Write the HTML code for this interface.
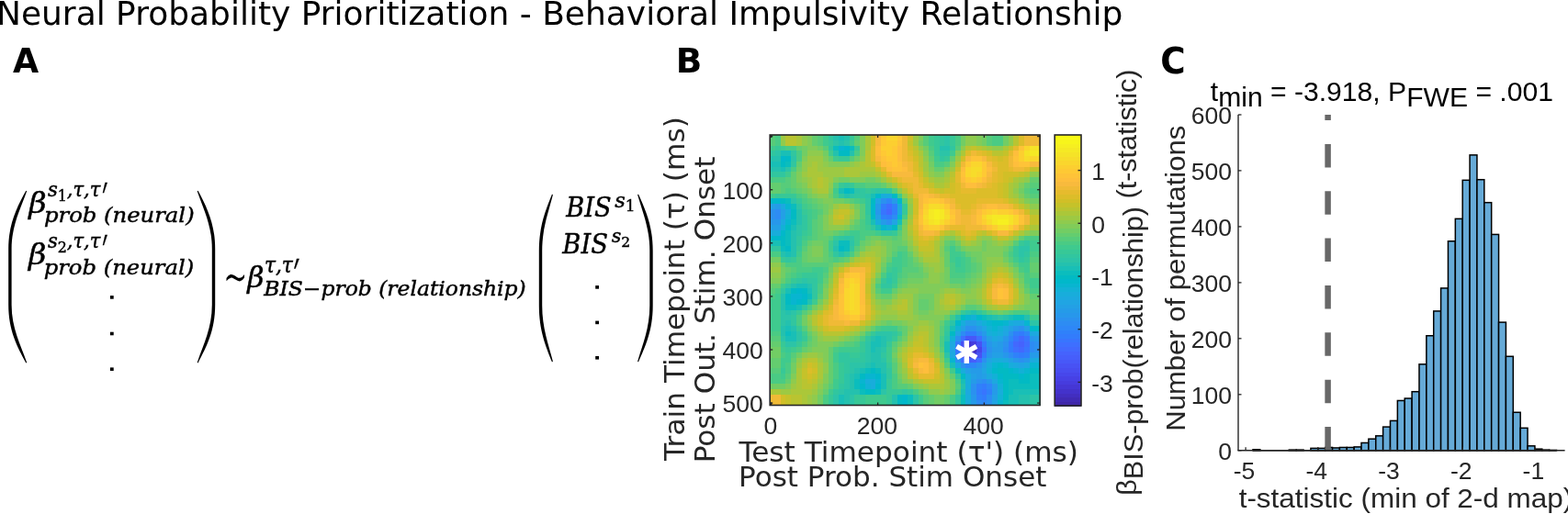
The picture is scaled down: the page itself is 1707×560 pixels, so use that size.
<!DOCTYPE html>
<html><head><meta charset="utf-8"><title>Neural Probability Prioritization - Behavioral Impulsivity Relationship</title>
<style>html,body{margin:0;padding:0;background:#fff;width:1707px;height:560px;overflow:hidden} svg{display:block} text{white-space:pre}</style>
</head><body>
<svg width="1707" height="560" viewBox="0 0 1707 560"><g transform="translate(-4.00 27.40) scale(0.9996 1)"><text x="0" y="0" font-family="'DejaVu Sans', sans-serif" font-size="36" fill="#000" >Neural Probability Prioritization - Behavioral Impulsivity Relationship</text></g>
<g transform="translate(14.10 78.70) scale(1.0111 1.0192)"><text x="0" y="0" font-family="'DejaVu Sans', sans-serif" font-size="36" fill="#000" font-weight="bold">A</text></g>
<g transform="translate(735.78 78.70) scale(1.0409 1.0231)"><text x="0" y="0" font-family="'DejaVu Sans', sans-serif" font-size="36" fill="#000" font-weight="bold">B</text></g>
<g transform="translate(1263.33 80.00) scale(1.0364 1.0731)"><text x="0" y="0" font-family="'DejaVu Sans', sans-serif" font-size="36" fill="#000" font-weight="bold">C</text></g>
<g transform="translate(804.40 503.20) scale(1.0397 1)"><text x="0" y="0" font-family="'DejaVu Sans', sans-serif" font-size="30" fill="#262626" >Test Timepoint (τ') (ms)</text></g>
<g transform="translate(804.10 529.80) scale(1.0340 1)"><text x="0" y="0" font-family="'DejaVu Sans', sans-serif" font-size="30" fill="#262626" >Post Prob. Stim Onset</text></g>
<g transform="translate(745.00 501.90) rotate(-90) scale(1.0403 1)"><text x="0" y="0" font-family="'DejaVu Sans', sans-serif" font-size="30" fill="#262626" >Train Timepoint (τ) (ms)</text></g>
<g transform="translate(777.50 504.36) rotate(-90) scale(1.0382 1)"><text x="0" y="0" font-family="'DejaVu Sans', sans-serif" font-size="30" fill="#262626" >Post Out. Stim. Onset</text></g>
<g transform="translate(1237.00 539.74) rotate(-90) scale(1.0192 1)"><text x="0" y="0" font-family="'Liberation Sans', sans-serif" font-size="30" fill="#262626" >β<tspan dy="6.5">BIS-prob(relationship)</tspan><tspan dy="-6.5"> (t-statistic)</tspan></text></g>
<g transform="translate(1289.50 469.71) rotate(-90) scale(1.0355 1)"><text x="0" y="0" font-family="'Liberation Sans', sans-serif" font-size="30" fill="#262626" >Number of permutations</text></g>
<g transform="translate(1348.65 553.00) scale(1.0488 1)"><text x="0" y="0" font-family="'Liberation Sans', sans-serif" font-size="30" fill="#262626" >t-statistic (min of 2-d map)</text></g>
<g transform="translate(1317.80 109.90) scale(1.0035 1)"><text x="0" y="0" font-family="'Liberation Sans', sans-serif" font-size="30" fill="#000" >t<tspan dy="5.8">min</tspan><tspan dy="-5.8"> = -3.918, P</tspan><tspan dy="5.8">FWE</tspan><tspan dy="-5.8"> = .001</tspan></text></g>
<g transform="translate(31.22 231.51) scale(1.1176 1.0310)"><text x="0" y="0" font-family="'DejaVu Serif', serif" font-size="30" fill="#000" font-style="italic" stroke="#000" stroke-width="0.45">β</text></g>
<g transform="translate(30.92 288.01) scale(1.1176 1.0310)"><text x="0" y="0" font-family="'DejaVu Serif', serif" font-size="30" fill="#000" font-style="italic" stroke="#000" stroke-width="0.45">β</text></g>
<g transform="translate(51.90 213.83) scale(0.9339 0.9941)"><text x="0" y="0" font-family="'DejaVu Serif', serif" font-size="22.5" fill="#000" font-style="italic" stroke="#000" stroke-width="0.45">s<tspan font-size="17" font-style="normal" dy="4.7">1</tspan><tspan dy="-4.7">,τ,τ</tspan></text></g>
<g transform="translate(110.35 234.19) scale(0.6750 1.1444)"><text x="0" y="0" font-family="'DejaVu Math TeX Gyre', serif" font-size="40" fill="#000" stroke="#000" stroke-width="0.3">′</text></g>
<g transform="translate(51.90 270.33) scale(0.9339 0.9941)"><text x="0" y="0" font-family="'DejaVu Serif', serif" font-size="22.5" fill="#000" font-style="italic" stroke="#000" stroke-width="0.45">s<tspan font-size="17" font-style="normal" dy="4.7">2</tspan><tspan dy="-4.7">,τ,τ</tspan></text></g>
<g transform="translate(110.35 290.69) scale(0.6750 1.1444)"><text x="0" y="0" font-family="'DejaVu Math TeX Gyre', serif" font-size="40" fill="#000" stroke="#000" stroke-width="0.3">′</text></g>
<g transform="translate(47.99 242.27) scale(1.1055 0.9864)"><text x="0" y="0" font-family="'DejaVu Serif', serif" font-size="22" fill="#000" font-style="italic" stroke="#000" stroke-width="0.45">prob (neural)</text></g>
<g transform="translate(47.70 298.81) scale(1.1041 0.9773)"><text x="0" y="0" font-family="'DejaVu Serif', serif" font-size="22" fill="#000" font-style="italic" stroke="#000" stroke-width="0.45">prob (neural)</text></g>
<g transform="translate(243.92 314.83) scale(0.7780 1.1167)"><text x="0" y="0" font-family="'DejaVu Math TeX Gyre', serif" font-size="40" fill="#000" >∼</text></g>
<g transform="translate(269.15 312.61) scale(1.0529 1.0310)"><text x="0" y="0" font-family="'DejaVu Serif', serif" font-size="30" fill="#000" font-style="italic" stroke="#000" stroke-width="0.45">β</text></g>
<g transform="translate(287.94 296.54) scale(0.9645 1.0533)"><text x="0" y="0" font-family="'DejaVu Serif', serif" font-size="22.5" fill="#000" font-style="italic" stroke="#000" stroke-width="0.45">τ,τ</text></g>
<g transform="translate(318.52 316.44) scale(0.7375 1.1222)"><text x="0" y="0" font-family="'DejaVu Math TeX Gyre', serif" font-size="40" fill="#000" stroke="#000" stroke-width="0.3">′</text></g>
<g transform="translate(287.32 321.85) scale(1.0655 0.9909)"><text x="0" y="0" font-family="'DejaVu Serif', serif" font-size="22" fill="#000" font-style="italic" stroke="#000" stroke-width="0.45">BIS−prob (relationship)</text></g>
<g transform="translate(616.21 236.40) scale(0.9074 0.9864)"><text x="0" y="0" font-family="'DejaVu Serif', serif" font-size="30" fill="#000" font-style="italic" stroke="#000" stroke-width="0.45">BIS</text></g>
<g transform="translate(612.31 275.70) scale(0.9130 0.9727)"><text x="0" y="0" font-family="'DejaVu Serif', serif" font-size="30" fill="#000" font-style="italic" stroke="#000" stroke-width="0.45">BIS</text></g>
<g transform="translate(669.30 225.88) scale(1.0000 0.9647)"><text x="0" y="0" font-family="'DejaVu Serif', serif" font-size="22.5" fill="#000" font-style="italic" stroke="#000" stroke-width="0.45">s<tspan font-size="17" font-style="normal" dy="4.7">1</tspan></text></g>
<g transform="translate(665.70 264.41) scale(0.9190 0.9176)"><text x="0" y="0" font-family="'DejaVu Serif', serif" font-size="22.5" fill="#000" font-style="italic" stroke="#000" stroke-width="0.45">s<tspan font-size="17" font-style="normal" dy="4.7">2</tspan></text></g>
<path d="M28.3,207.7 C18.7,225.4 9.2,243.2 9.2,271.1 L9.2,332.1 C9.2,360.0 18.7,377.8 28.3,395.5 L29.2,394.9 C22.2,375.2 12.6,357.5 12.6,332.1 L12.6,271.1 C12.6,245.7 22.2,228.0 29.2,208.3Z" fill="#000"/>
<path d="M215.6,207.7 C224.9,225.4 234.2,243.2 234.2,271.1 L234.2,332.1 C234.2,360.0 224.9,377.8 215.6,395.5 L214.7,394.9 C221.5,375.2 230.8,357.5 230.8,332.1 L230.8,271.1 C230.8,245.7 221.5,228.0 214.7,208.3Z" fill="#000"/>
<path d="M601.0,211.6 C594.1,228.9 586.8,246.1 586.8,273.3 L586.8,332.7 C586.8,359.9 594.1,377.1 601.0,394.4 L601.9,393.8 C597.1,374.7 590.2,357.4 590.2,332.7 L590.2,273.3 C590.2,248.6 597.1,231.3 601.9,212.2Z" fill="#000"/>
<path d="M695.0,211.6 C702.7,228.9 710.7,246.1 710.7,273.3 L710.7,332.7 C710.7,359.9 702.7,377.1 695.0,394.4 L694.1,393.8 C699.6,374.7 707.3,357.4 707.3,332.7 L707.3,273.3 C707.3,248.6 699.6,231.3 694.1,212.2Z" fill="#000"/>
<rect x="119.9" y="322.1" width="3.8" height="3.6" fill="#000"/>
<rect x="119.9" y="361.7" width="3.8" height="3.6" fill="#000"/>
<rect x="119.9" y="400.4" width="3.8" height="3.6" fill="#000"/>
<rect x="648.2" y="311.1" width="3.8" height="3.6" fill="#000"/>
<rect x="648.2" y="349.6" width="3.8" height="3.6" fill="#000"/>
<rect x="648.2" y="388.0" width="3.8" height="3.6" fill="#000"/>
<g shape-rendering="crispEdges"><rect x="838.20" y="147.00" width="6.36" height="6.37" fill="#57cc7a"/><rect x="843.96" y="147.00" width="6.36" height="6.37" fill="#4acb84"/><rect x="849.73" y="147.00" width="6.36" height="6.37" fill="#9dc943"/><rect x="855.49" y="147.00" width="6.36" height="6.37" fill="#b9c431"/><rect x="861.25" y="147.00" width="6.36" height="6.37" fill="#b9c431"/><rect x="867.01" y="147.00" width="6.36" height="6.37" fill="#abc739"/><rect x="872.78" y="147.00" width="6.36" height="6.37" fill="#8fcb4e"/><rect x="878.54" y="147.00" width="6.36" height="6.37" fill="#81cc59"/><rect x="884.30" y="147.00" width="6.36" height="6.37" fill="#64cd6f"/><rect x="890.06" y="147.00" width="6.36" height="6.37" fill="#57cc7a"/><rect x="895.83" y="147.00" width="6.36" height="6.37" fill="#3fca8e"/><rect x="901.59" y="147.00" width="6.36" height="6.37" fill="#31c69f"/><rect x="907.35" y="147.00" width="6.36" height="6.37" fill="#24c1ae"/><rect x="913.12" y="147.00" width="6.36" height="6.37" fill="#19bfb6"/><rect x="918.88" y="147.00" width="6.36" height="6.37" fill="#24c1ae"/><rect x="924.64" y="147.00" width="6.36" height="6.37" fill="#37c897"/><rect x="930.40" y="147.00" width="6.36" height="6.37" fill="#57cc7a"/><rect x="936.17" y="147.00" width="6.36" height="6.37" fill="#81cc59"/><rect x="941.93" y="147.00" width="6.36" height="6.37" fill="#abc739"/><rect x="947.69" y="147.00" width="6.36" height="6.37" fill="#d1bf27"/><rect x="953.45" y="147.00" width="6.36" height="6.37" fill="#f8ba3d"/><rect x="959.22" y="147.00" width="6.36" height="6.37" fill="#fec934"/><rect x="964.98" y="147.00" width="6.36" height="6.37" fill="#fad62d"/><rect x="970.74" y="147.00" width="6.36" height="6.37" fill="#fad62d"/><rect x="976.51" y="147.00" width="6.36" height="6.37" fill="#fec934"/><rect x="982.27" y="147.00" width="6.36" height="6.37" fill="#f0ba36"/><rect x="988.03" y="147.00" width="6.36" height="6.37" fill="#d1bf27"/><rect x="993.79" y="147.00" width="6.36" height="6.37" fill="#9dc943"/><rect x="999.56" y="147.00" width="6.36" height="6.37" fill="#81cc59"/><rect x="1005.32" y="147.00" width="6.36" height="6.37" fill="#57cc7a"/><rect x="1011.08" y="147.00" width="6.36" height="6.37" fill="#3fca8e"/><rect x="1016.85" y="147.00" width="6.36" height="6.37" fill="#37c897"/><rect x="1022.61" y="147.00" width="6.36" height="6.37" fill="#31c69f"/><rect x="1028.37" y="147.00" width="6.36" height="6.37" fill="#2cc4a7"/><rect x="1034.13" y="147.00" width="6.36" height="6.37" fill="#37c897"/><rect x="1039.90" y="147.00" width="6.36" height="6.37" fill="#4acb84"/><rect x="1045.66" y="147.00" width="6.36" height="6.37" fill="#72cd64"/><rect x="1051.42" y="147.00" width="6.36" height="6.37" fill="#8fcb4e"/><rect x="1057.18" y="147.00" width="6.36" height="6.37" fill="#8fcb4e"/><rect x="1062.95" y="147.00" width="6.36" height="6.37" fill="#81cc59"/><rect x="1068.71" y="147.00" width="6.36" height="6.37" fill="#72cd64"/><rect x="1074.47" y="147.00" width="6.36" height="6.37" fill="#57cc7a"/><rect x="1080.24" y="147.00" width="6.36" height="6.37" fill="#4acb84"/><rect x="1086.00" y="147.00" width="6.36" height="6.37" fill="#4acb84"/><rect x="1091.76" y="147.00" width="6.36" height="6.37" fill="#72cd64"/><rect x="1097.52" y="147.00" width="6.36" height="6.37" fill="#8fcb4e"/><rect x="1103.29" y="147.00" width="6.36" height="6.37" fill="#b9c431"/><rect x="1109.05" y="147.00" width="6.36" height="6.37" fill="#dcbd29"/><rect x="1114.81" y="147.00" width="6.36" height="6.37" fill="#f0ba36"/><rect x="1120.57" y="147.00" width="6.36" height="6.37" fill="#f0ba36"/><rect x="1126.34" y="147.00" width="6.36" height="6.37" fill="#f0ba36"/><rect x="838.20" y="152.77" width="6.36" height="6.37" fill="#57cc7a"/><rect x="843.96" y="152.77" width="6.36" height="6.37" fill="#4acb84"/><rect x="849.73" y="152.77" width="6.36" height="6.37" fill="#8fcb4e"/><rect x="855.49" y="152.77" width="6.36" height="6.37" fill="#b9c431"/><rect x="861.25" y="152.77" width="6.36" height="6.37" fill="#b9c431"/><rect x="867.01" y="152.77" width="6.36" height="6.37" fill="#abc739"/><rect x="872.78" y="152.77" width="6.36" height="6.37" fill="#8fcb4e"/><rect x="878.54" y="152.77" width="6.36" height="6.37" fill="#81cc59"/><rect x="884.30" y="152.77" width="6.36" height="6.37" fill="#64cd6f"/><rect x="890.06" y="152.77" width="6.36" height="6.37" fill="#57cc7a"/><rect x="895.83" y="152.77" width="6.36" height="6.37" fill="#3fca8e"/><rect x="901.59" y="152.77" width="6.36" height="6.37" fill="#37c897"/><rect x="907.35" y="152.77" width="6.36" height="6.37" fill="#2cc4a7"/><rect x="913.12" y="152.77" width="6.36" height="6.37" fill="#24c1ae"/><rect x="918.88" y="152.77" width="6.36" height="6.37" fill="#2cc4a7"/><rect x="924.64" y="152.77" width="6.36" height="6.37" fill="#3fca8e"/><rect x="930.40" y="152.77" width="6.36" height="6.37" fill="#64cd6f"/><rect x="936.17" y="152.77" width="6.36" height="6.37" fill="#81cc59"/><rect x="941.93" y="152.77" width="6.36" height="6.37" fill="#abc739"/><rect x="947.69" y="152.77" width="6.36" height="6.37" fill="#d1bf27"/><rect x="953.45" y="152.77" width="6.36" height="6.37" fill="#f8ba3d"/><rect x="959.22" y="152.77" width="6.36" height="6.37" fill="#fec934"/><rect x="964.98" y="152.77" width="6.36" height="6.37" fill="#fccf30"/><rect x="970.74" y="152.77" width="6.36" height="6.37" fill="#fccf30"/><rect x="976.51" y="152.77" width="6.36" height="6.37" fill="#fec338"/><rect x="982.27" y="152.77" width="6.36" height="6.37" fill="#f0ba36"/><rect x="988.03" y="152.77" width="6.36" height="6.37" fill="#c5c22a"/><rect x="993.79" y="152.77" width="6.36" height="6.37" fill="#9dc943"/><rect x="999.56" y="152.77" width="6.36" height="6.37" fill="#72cd64"/><rect x="1005.32" y="152.77" width="6.36" height="6.37" fill="#57cc7a"/><rect x="1011.08" y="152.77" width="6.36" height="6.37" fill="#3fca8e"/><rect x="1016.85" y="152.77" width="6.36" height="6.37" fill="#37c897"/><rect x="1022.61" y="152.77" width="6.36" height="6.37" fill="#31c69f"/><rect x="1028.37" y="152.77" width="6.36" height="6.37" fill="#2cc4a7"/><rect x="1034.13" y="152.77" width="6.36" height="6.37" fill="#37c897"/><rect x="1039.90" y="152.77" width="6.36" height="6.37" fill="#4acb84"/><rect x="1045.66" y="152.77" width="6.36" height="6.37" fill="#72cd64"/><rect x="1051.42" y="152.77" width="6.36" height="6.37" fill="#8fcb4e"/><rect x="1057.18" y="152.77" width="6.36" height="6.37" fill="#8fcb4e"/><rect x="1062.95" y="152.77" width="6.36" height="6.37" fill="#81cc59"/><rect x="1068.71" y="152.77" width="6.36" height="6.37" fill="#72cd64"/><rect x="1074.47" y="152.77" width="6.36" height="6.37" fill="#57cc7a"/><rect x="1080.24" y="152.77" width="6.36" height="6.37" fill="#4acb84"/><rect x="1086.00" y="152.77" width="6.36" height="6.37" fill="#4acb84"/><rect x="1091.76" y="152.77" width="6.36" height="6.37" fill="#72cd64"/><rect x="1097.52" y="152.77" width="6.36" height="6.37" fill="#8fcb4e"/><rect x="1103.29" y="152.77" width="6.36" height="6.37" fill="#b9c431"/><rect x="1109.05" y="152.77" width="6.36" height="6.37" fill="#dcbd29"/><rect x="1114.81" y="152.77" width="6.36" height="6.37" fill="#f0ba36"/><rect x="1120.57" y="152.77" width="6.36" height="6.37" fill="#f0ba36"/><rect x="1126.34" y="152.77" width="6.36" height="6.37" fill="#f0ba36"/><rect x="838.20" y="158.55" width="6.36" height="6.37" fill="#3fca8e"/><rect x="843.96" y="158.55" width="6.36" height="6.37" fill="#37c897"/><rect x="849.73" y="158.55" width="6.36" height="6.37" fill="#3fca8e"/><rect x="855.49" y="158.55" width="6.36" height="6.37" fill="#4acb84"/><rect x="861.25" y="158.55" width="6.36" height="6.37" fill="#4acb84"/><rect x="867.01" y="158.55" width="6.36" height="6.37" fill="#64cd6f"/><rect x="872.78" y="158.55" width="6.36" height="6.37" fill="#72cd64"/><rect x="878.54" y="158.55" width="6.36" height="6.37" fill="#81cc59"/><rect x="884.30" y="158.55" width="6.36" height="6.37" fill="#81cc59"/><rect x="890.06" y="158.55" width="6.36" height="6.37" fill="#72cd64"/><rect x="895.83" y="158.55" width="6.36" height="6.37" fill="#57cc7a"/><rect x="901.59" y="158.55" width="6.36" height="6.37" fill="#31c69f"/><rect x="907.35" y="158.55" width="6.36" height="6.37" fill="#0bbdbd"/><rect x="913.12" y="158.55" width="6.36" height="6.37" fill="#08b5d0"/><rect x="918.88" y="158.55" width="6.36" height="6.37" fill="#01b8ca"/><rect x="924.64" y="158.55" width="6.36" height="6.37" fill="#0bbdbd"/><rect x="930.40" y="158.55" width="6.36" height="6.37" fill="#37c897"/><rect x="936.17" y="158.55" width="6.36" height="6.37" fill="#81cc59"/><rect x="941.93" y="158.55" width="6.36" height="6.37" fill="#abc739"/><rect x="947.69" y="158.55" width="6.36" height="6.37" fill="#dcbd29"/><rect x="953.45" y="158.55" width="6.36" height="6.37" fill="#febe3c"/><rect x="959.22" y="158.55" width="6.36" height="6.37" fill="#fccf30"/><rect x="964.98" y="158.55" width="6.36" height="6.37" fill="#fccf30"/><rect x="970.74" y="158.55" width="6.36" height="6.37" fill="#fec934"/><rect x="976.51" y="158.55" width="6.36" height="6.37" fill="#febe3c"/><rect x="982.27" y="158.55" width="6.36" height="6.37" fill="#f0ba36"/><rect x="988.03" y="158.55" width="6.36" height="6.37" fill="#d1bf27"/><rect x="993.79" y="158.55" width="6.36" height="6.37" fill="#b9c431"/><rect x="999.56" y="158.55" width="6.36" height="6.37" fill="#8fcb4e"/><rect x="1005.32" y="158.55" width="6.36" height="6.37" fill="#72cd64"/><rect x="1011.08" y="158.55" width="6.36" height="6.37" fill="#4acb84"/><rect x="1016.85" y="158.55" width="6.36" height="6.37" fill="#37c897"/><rect x="1022.61" y="158.55" width="6.36" height="6.37" fill="#24c1ae"/><rect x="1028.37" y="158.55" width="6.36" height="6.37" fill="#24c1ae"/><rect x="1034.13" y="158.55" width="6.36" height="6.37" fill="#31c69f"/><rect x="1039.90" y="158.55" width="6.36" height="6.37" fill="#57cc7a"/><rect x="1045.66" y="158.55" width="6.36" height="6.37" fill="#8fcb4e"/><rect x="1051.42" y="158.55" width="6.36" height="6.37" fill="#b9c431"/><rect x="1057.18" y="158.55" width="6.36" height="6.37" fill="#c5c22a"/><rect x="1062.95" y="158.55" width="6.36" height="6.37" fill="#b9c431"/><rect x="1068.71" y="158.55" width="6.36" height="6.37" fill="#abc739"/><rect x="1074.47" y="158.55" width="6.36" height="6.37" fill="#9dc943"/><rect x="1080.24" y="158.55" width="6.36" height="6.37" fill="#8fcb4e"/><rect x="1086.00" y="158.55" width="6.36" height="6.37" fill="#8fcb4e"/><rect x="1091.76" y="158.55" width="6.36" height="6.37" fill="#abc739"/><rect x="1097.52" y="158.55" width="6.36" height="6.37" fill="#c5c22a"/><rect x="1103.29" y="158.55" width="6.36" height="6.37" fill="#e6bb2d"/><rect x="1109.05" y="158.55" width="6.36" height="6.37" fill="#fec338"/><rect x="1114.81" y="158.55" width="6.36" height="6.37" fill="#fad62d"/><rect x="1120.57" y="158.55" width="6.36" height="6.37" fill="#f5e327"/><rect x="1126.34" y="158.55" width="6.36" height="6.37" fill="#f5e327"/><rect x="838.20" y="164.32" width="6.36" height="6.37" fill="#31c69f"/><rect x="843.96" y="164.32" width="6.36" height="6.37" fill="#2cc4a7"/><rect x="849.73" y="164.32" width="6.36" height="6.37" fill="#19bfb6"/><rect x="855.49" y="164.32" width="6.36" height="6.37" fill="#19bfb6"/><rect x="861.25" y="164.32" width="6.36" height="6.37" fill="#31c69f"/><rect x="867.01" y="164.32" width="6.36" height="6.37" fill="#4acb84"/><rect x="872.78" y="164.32" width="6.36" height="6.37" fill="#72cd64"/><rect x="878.54" y="164.32" width="6.36" height="6.37" fill="#8fcb4e"/><rect x="884.30" y="164.32" width="6.36" height="6.37" fill="#8fcb4e"/><rect x="890.06" y="164.32" width="6.36" height="6.37" fill="#8fcb4e"/><rect x="895.83" y="164.32" width="6.36" height="6.37" fill="#72cd64"/><rect x="901.59" y="164.32" width="6.36" height="6.37" fill="#3fca8e"/><rect x="907.35" y="164.32" width="6.36" height="6.37" fill="#24c1ae"/><rect x="913.12" y="164.32" width="6.36" height="6.37" fill="#02bac3"/><rect x="918.88" y="164.32" width="6.36" height="6.37" fill="#02bac3"/><rect x="924.64" y="164.32" width="6.36" height="6.37" fill="#24c1ae"/><rect x="930.40" y="164.32" width="6.36" height="6.37" fill="#4acb84"/><rect x="936.17" y="164.32" width="6.36" height="6.37" fill="#81cc59"/><rect x="941.93" y="164.32" width="6.36" height="6.37" fill="#b9c431"/><rect x="947.69" y="164.32" width="6.36" height="6.37" fill="#dcbd29"/><rect x="953.45" y="164.32" width="6.36" height="6.37" fill="#febe3c"/><rect x="959.22" y="164.32" width="6.36" height="6.37" fill="#fec934"/><rect x="964.98" y="164.32" width="6.36" height="6.37" fill="#fccf30"/><rect x="970.74" y="164.32" width="6.36" height="6.37" fill="#fec934"/><rect x="976.51" y="164.32" width="6.36" height="6.37" fill="#febe3c"/><rect x="982.27" y="164.32" width="6.36" height="6.37" fill="#f0ba36"/><rect x="988.03" y="164.32" width="6.36" height="6.37" fill="#dcbd29"/><rect x="993.79" y="164.32" width="6.36" height="6.37" fill="#c5c22a"/><rect x="999.56" y="164.32" width="6.36" height="6.37" fill="#abc739"/><rect x="1005.32" y="164.32" width="6.36" height="6.37" fill="#81cc59"/><rect x="1011.08" y="164.32" width="6.36" height="6.37" fill="#57cc7a"/><rect x="1016.85" y="164.32" width="6.36" height="6.37" fill="#37c897"/><rect x="1022.61" y="164.32" width="6.36" height="6.37" fill="#2cc4a7"/><rect x="1028.37" y="164.32" width="6.36" height="6.37" fill="#2cc4a7"/><rect x="1034.13" y="164.32" width="6.36" height="6.37" fill="#3fca8e"/><rect x="1039.90" y="164.32" width="6.36" height="6.37" fill="#81cc59"/><rect x="1045.66" y="164.32" width="6.36" height="6.37" fill="#abc739"/><rect x="1051.42" y="164.32" width="6.36" height="6.37" fill="#dcbd29"/><rect x="1057.18" y="164.32" width="6.36" height="6.37" fill="#f0ba36"/><rect x="1062.95" y="164.32" width="6.36" height="6.37" fill="#e6bb2d"/><rect x="1068.71" y="164.32" width="6.36" height="6.37" fill="#dcbd29"/><rect x="1074.47" y="164.32" width="6.36" height="6.37" fill="#d1bf27"/><rect x="1080.24" y="164.32" width="6.36" height="6.37" fill="#b9c431"/><rect x="1086.00" y="164.32" width="6.36" height="6.37" fill="#b9c431"/><rect x="1091.76" y="164.32" width="6.36" height="6.37" fill="#c5c22a"/><rect x="1097.52" y="164.32" width="6.36" height="6.37" fill="#e6bb2d"/><rect x="1103.29" y="164.32" width="6.36" height="6.37" fill="#febe3c"/><rect x="1109.05" y="164.32" width="6.36" height="6.37" fill="#fccf30"/><rect x="1114.81" y="164.32" width="6.36" height="6.37" fill="#f5e327"/><rect x="1120.57" y="164.32" width="6.36" height="6.37" fill="#f5e924"/><rect x="1126.34" y="164.32" width="6.36" height="6.37" fill="#f5e924"/><rect x="838.20" y="170.10" width="6.36" height="6.37" fill="#24c1ae"/><rect x="843.96" y="170.10" width="6.36" height="6.37" fill="#24c1ae"/><rect x="849.73" y="170.10" width="6.36" height="6.37" fill="#01b8ca"/><rect x="855.49" y="170.10" width="6.36" height="6.37" fill="#02bac3"/><rect x="861.25" y="170.10" width="6.36" height="6.37" fill="#2cc4a7"/><rect x="867.01" y="170.10" width="6.36" height="6.37" fill="#4acb84"/><rect x="872.78" y="170.10" width="6.36" height="6.37" fill="#81cc59"/><rect x="878.54" y="170.10" width="6.36" height="6.37" fill="#9dc943"/><rect x="884.30" y="170.10" width="6.36" height="6.37" fill="#9dc943"/><rect x="890.06" y="170.10" width="6.36" height="6.37" fill="#9dc943"/><rect x="895.83" y="170.10" width="6.36" height="6.37" fill="#81cc59"/><rect x="901.59" y="170.10" width="6.36" height="6.37" fill="#64cd6f"/><rect x="907.35" y="170.10" width="6.36" height="6.37" fill="#3fca8e"/><rect x="913.12" y="170.10" width="6.36" height="6.37" fill="#37c897"/><rect x="918.88" y="170.10" width="6.36" height="6.37" fill="#37c897"/><rect x="924.64" y="170.10" width="6.36" height="6.37" fill="#57cc7a"/><rect x="930.40" y="170.10" width="6.36" height="6.37" fill="#72cd64"/><rect x="936.17" y="170.10" width="6.36" height="6.37" fill="#8fcb4e"/><rect x="941.93" y="170.10" width="6.36" height="6.37" fill="#b9c431"/><rect x="947.69" y="170.10" width="6.36" height="6.37" fill="#dcbd29"/><rect x="953.45" y="170.10" width="6.36" height="6.37" fill="#f8ba3d"/><rect x="959.22" y="170.10" width="6.36" height="6.37" fill="#fec338"/><rect x="964.98" y="170.10" width="6.36" height="6.37" fill="#fec934"/><rect x="970.74" y="170.10" width="6.36" height="6.37" fill="#fec934"/><rect x="976.51" y="170.10" width="6.36" height="6.37" fill="#febe3c"/><rect x="982.27" y="170.10" width="6.36" height="6.37" fill="#f0ba36"/><rect x="988.03" y="170.10" width="6.36" height="6.37" fill="#e6bb2d"/><rect x="993.79" y="170.10" width="6.36" height="6.37" fill="#d1bf27"/><rect x="999.56" y="170.10" width="6.36" height="6.37" fill="#b9c431"/><rect x="1005.32" y="170.10" width="6.36" height="6.37" fill="#8fcb4e"/><rect x="1011.08" y="170.10" width="6.36" height="6.37" fill="#64cd6f"/><rect x="1016.85" y="170.10" width="6.36" height="6.37" fill="#3fca8e"/><rect x="1022.61" y="170.10" width="6.36" height="6.37" fill="#31c69f"/><rect x="1028.37" y="170.10" width="6.36" height="6.37" fill="#37c897"/><rect x="1034.13" y="170.10" width="6.36" height="6.37" fill="#64cd6f"/><rect x="1039.90" y="170.10" width="6.36" height="6.37" fill="#9dc943"/><rect x="1045.66" y="170.10" width="6.36" height="6.37" fill="#d1bf27"/><rect x="1051.42" y="170.10" width="6.36" height="6.37" fill="#f8ba3d"/><rect x="1057.18" y="170.10" width="6.36" height="6.37" fill="#fec338"/><rect x="1062.95" y="170.10" width="6.36" height="6.37" fill="#fec338"/><rect x="1068.71" y="170.10" width="6.36" height="6.37" fill="#f8ba3d"/><rect x="1074.47" y="170.10" width="6.36" height="6.37" fill="#e6bb2d"/><rect x="1080.24" y="170.10" width="6.36" height="6.37" fill="#dcbd29"/><rect x="1086.00" y="170.10" width="6.36" height="6.37" fill="#d1bf27"/><rect x="1091.76" y="170.10" width="6.36" height="6.37" fill="#dcbd29"/><rect x="1097.52" y="170.10" width="6.36" height="6.37" fill="#f0ba36"/><rect x="1103.29" y="170.10" width="6.36" height="6.37" fill="#fec338"/><rect x="1109.05" y="170.10" width="6.36" height="6.37" fill="#fccf30"/><rect x="1114.81" y="170.10" width="6.36" height="6.37" fill="#f7dc2a"/><rect x="1120.57" y="170.10" width="6.36" height="6.37" fill="#fad62d"/><rect x="1126.34" y="170.10" width="6.36" height="6.37" fill="#fad62d"/><rect x="838.20" y="175.87" width="6.36" height="6.37" fill="#19bfb6"/><rect x="843.96" y="175.87" width="6.36" height="6.37" fill="#19bfb6"/><rect x="849.73" y="175.87" width="6.36" height="6.37" fill="#02bac3"/><rect x="855.49" y="175.87" width="6.36" height="6.37" fill="#0bbdbd"/><rect x="861.25" y="175.87" width="6.36" height="6.37" fill="#31c69f"/><rect x="867.01" y="175.87" width="6.36" height="6.37" fill="#64cd6f"/><rect x="872.78" y="175.87" width="6.36" height="6.37" fill="#8fcb4e"/><rect x="878.54" y="175.87" width="6.36" height="6.37" fill="#9dc943"/><rect x="884.30" y="175.87" width="6.36" height="6.37" fill="#abc739"/><rect x="890.06" y="175.87" width="6.36" height="6.37" fill="#9dc943"/><rect x="895.83" y="175.87" width="6.36" height="6.37" fill="#8fcb4e"/><rect x="901.59" y="175.87" width="6.36" height="6.37" fill="#81cc59"/><rect x="907.35" y="175.87" width="6.36" height="6.37" fill="#81cc59"/><rect x="913.12" y="175.87" width="6.36" height="6.37" fill="#81cc59"/><rect x="918.88" y="175.87" width="6.36" height="6.37" fill="#81cc59"/><rect x="924.64" y="175.87" width="6.36" height="6.37" fill="#8fcb4e"/><rect x="930.40" y="175.87" width="6.36" height="6.37" fill="#9dc943"/><rect x="936.17" y="175.87" width="6.36" height="6.37" fill="#abc739"/><rect x="941.93" y="175.87" width="6.36" height="6.37" fill="#b9c431"/><rect x="947.69" y="175.87" width="6.36" height="6.37" fill="#c5c22a"/><rect x="953.45" y="175.87" width="6.36" height="6.37" fill="#e6bb2d"/><rect x="959.22" y="175.87" width="6.36" height="6.37" fill="#febe3c"/><rect x="964.98" y="175.87" width="6.36" height="6.37" fill="#fec338"/><rect x="970.74" y="175.87" width="6.36" height="6.37" fill="#fec934"/><rect x="976.51" y="175.87" width="6.36" height="6.37" fill="#fec338"/><rect x="982.27" y="175.87" width="6.36" height="6.37" fill="#f8ba3d"/><rect x="988.03" y="175.87" width="6.36" height="6.37" fill="#f0ba36"/><rect x="993.79" y="175.87" width="6.36" height="6.37" fill="#dcbd29"/><rect x="999.56" y="175.87" width="6.36" height="6.37" fill="#b9c431"/><rect x="1005.32" y="175.87" width="6.36" height="6.37" fill="#9dc943"/><rect x="1011.08" y="175.87" width="6.36" height="6.37" fill="#72cd64"/><rect x="1016.85" y="175.87" width="6.36" height="6.37" fill="#4acb84"/><rect x="1022.61" y="175.87" width="6.36" height="6.37" fill="#4acb84"/><rect x="1028.37" y="175.87" width="6.36" height="6.37" fill="#57cc7a"/><rect x="1034.13" y="175.87" width="6.36" height="6.37" fill="#81cc59"/><rect x="1039.90" y="175.87" width="6.36" height="6.37" fill="#b9c431"/><rect x="1045.66" y="175.87" width="6.36" height="6.37" fill="#f0ba36"/><rect x="1051.42" y="175.87" width="6.36" height="6.37" fill="#fec934"/><rect x="1057.18" y="175.87" width="6.36" height="6.37" fill="#fad62d"/><rect x="1062.95" y="175.87" width="6.36" height="6.37" fill="#fad62d"/><rect x="1068.71" y="175.87" width="6.36" height="6.37" fill="#fec934"/><rect x="1074.47" y="175.87" width="6.36" height="6.37" fill="#f8ba3d"/><rect x="1080.24" y="175.87" width="6.36" height="6.37" fill="#e6bb2d"/><rect x="1086.00" y="175.87" width="6.36" height="6.37" fill="#dcbd29"/><rect x="1091.76" y="175.87" width="6.36" height="6.37" fill="#dcbd29"/><rect x="1097.52" y="175.87" width="6.36" height="6.37" fill="#f0ba36"/><rect x="1103.29" y="175.87" width="6.36" height="6.37" fill="#febe3c"/><rect x="1109.05" y="175.87" width="6.36" height="6.37" fill="#fec338"/><rect x="1114.81" y="175.87" width="6.36" height="6.37" fill="#fec338"/><rect x="1120.57" y="175.87" width="6.36" height="6.37" fill="#f8ba3d"/><rect x="1126.34" y="175.87" width="6.36" height="6.37" fill="#f8ba3d"/><rect x="838.20" y="181.65" width="6.36" height="6.37" fill="#24c1ae"/><rect x="843.96" y="181.65" width="6.36" height="6.37" fill="#24c1ae"/><rect x="849.73" y="181.65" width="6.36" height="6.37" fill="#19bfb6"/><rect x="855.49" y="181.65" width="6.36" height="6.37" fill="#2cc4a7"/><rect x="861.25" y="181.65" width="6.36" height="6.37" fill="#4acb84"/><rect x="867.01" y="181.65" width="6.36" height="6.37" fill="#72cd64"/><rect x="872.78" y="181.65" width="6.36" height="6.37" fill="#8fcb4e"/><rect x="878.54" y="181.65" width="6.36" height="6.37" fill="#abc739"/><rect x="884.30" y="181.65" width="6.36" height="6.37" fill="#abc739"/><rect x="890.06" y="181.65" width="6.36" height="6.37" fill="#9dc943"/><rect x="895.83" y="181.65" width="6.36" height="6.37" fill="#9dc943"/><rect x="901.59" y="181.65" width="6.36" height="6.37" fill="#9dc943"/><rect x="907.35" y="181.65" width="6.36" height="6.37" fill="#9dc943"/><rect x="913.12" y="181.65" width="6.36" height="6.37" fill="#9dc943"/><rect x="918.88" y="181.65" width="6.36" height="6.37" fill="#abc739"/><rect x="924.64" y="181.65" width="6.36" height="6.37" fill="#abc739"/><rect x="930.40" y="181.65" width="6.36" height="6.37" fill="#abc739"/><rect x="936.17" y="181.65" width="6.36" height="6.37" fill="#abc739"/><rect x="941.93" y="181.65" width="6.36" height="6.37" fill="#abc739"/><rect x="947.69" y="181.65" width="6.36" height="6.37" fill="#abc739"/><rect x="953.45" y="181.65" width="6.36" height="6.37" fill="#c5c22a"/><rect x="959.22" y="181.65" width="6.36" height="6.37" fill="#e6bb2d"/><rect x="964.98" y="181.65" width="6.36" height="6.37" fill="#febe3c"/><rect x="970.74" y="181.65" width="6.36" height="6.37" fill="#fec338"/><rect x="976.51" y="181.65" width="6.36" height="6.37" fill="#fec338"/><rect x="982.27" y="181.65" width="6.36" height="6.37" fill="#febe3c"/><rect x="988.03" y="181.65" width="6.36" height="6.37" fill="#f0ba36"/><rect x="993.79" y="181.65" width="6.36" height="6.37" fill="#dcbd29"/><rect x="999.56" y="181.65" width="6.36" height="6.37" fill="#c5c22a"/><rect x="1005.32" y="181.65" width="6.36" height="6.37" fill="#9dc943"/><rect x="1011.08" y="181.65" width="6.36" height="6.37" fill="#81cc59"/><rect x="1016.85" y="181.65" width="6.36" height="6.37" fill="#64cd6f"/><rect x="1022.61" y="181.65" width="6.36" height="6.37" fill="#64cd6f"/><rect x="1028.37" y="181.65" width="6.36" height="6.37" fill="#81cc59"/><rect x="1034.13" y="181.65" width="6.36" height="6.37" fill="#9dc943"/><rect x="1039.90" y="181.65" width="6.36" height="6.37" fill="#d1bf27"/><rect x="1045.66" y="181.65" width="6.36" height="6.37" fill="#febe3c"/><rect x="1051.42" y="181.65" width="6.36" height="6.37" fill="#fad62d"/><rect x="1057.18" y="181.65" width="6.36" height="6.37" fill="#f7dc2a"/><rect x="1062.95" y="181.65" width="6.36" height="6.37" fill="#f7dc2a"/><rect x="1068.71" y="181.65" width="6.36" height="6.37" fill="#fec934"/><rect x="1074.47" y="181.65" width="6.36" height="6.37" fill="#febe3c"/><rect x="1080.24" y="181.65" width="6.36" height="6.37" fill="#f0ba36"/><rect x="1086.00" y="181.65" width="6.36" height="6.37" fill="#dcbd29"/><rect x="1091.76" y="181.65" width="6.36" height="6.37" fill="#dcbd29"/><rect x="1097.52" y="181.65" width="6.36" height="6.37" fill="#e6bb2d"/><rect x="1103.29" y="181.65" width="6.36" height="6.37" fill="#f0ba36"/><rect x="1109.05" y="181.65" width="6.36" height="6.37" fill="#f0ba36"/><rect x="1114.81" y="181.65" width="6.36" height="6.37" fill="#e6bb2d"/><rect x="1120.57" y="181.65" width="6.36" height="6.37" fill="#c5c22a"/><rect x="1126.34" y="181.65" width="6.36" height="6.37" fill="#c5c22a"/><rect x="838.20" y="187.42" width="6.36" height="6.37" fill="#31c69f"/><rect x="843.96" y="187.42" width="6.36" height="6.37" fill="#31c69f"/><rect x="849.73" y="187.42" width="6.36" height="6.37" fill="#31c69f"/><rect x="855.49" y="187.42" width="6.36" height="6.37" fill="#3fca8e"/><rect x="861.25" y="187.42" width="6.36" height="6.37" fill="#64cd6f"/><rect x="867.01" y="187.42" width="6.36" height="6.37" fill="#81cc59"/><rect x="872.78" y="187.42" width="6.36" height="6.37" fill="#9dc943"/><rect x="878.54" y="187.42" width="6.36" height="6.37" fill="#abc739"/><rect x="884.30" y="187.42" width="6.36" height="6.37" fill="#abc739"/><rect x="890.06" y="187.42" width="6.36" height="6.37" fill="#abc739"/><rect x="895.83" y="187.42" width="6.36" height="6.37" fill="#9dc943"/><rect x="901.59" y="187.42" width="6.36" height="6.37" fill="#9dc943"/><rect x="907.35" y="187.42" width="6.36" height="6.37" fill="#9dc943"/><rect x="913.12" y="187.42" width="6.36" height="6.37" fill="#9dc943"/><rect x="918.88" y="187.42" width="6.36" height="6.37" fill="#abc739"/><rect x="924.64" y="187.42" width="6.36" height="6.37" fill="#abc739"/><rect x="930.40" y="187.42" width="6.36" height="6.37" fill="#abc739"/><rect x="936.17" y="187.42" width="6.36" height="6.37" fill="#9dc943"/><rect x="941.93" y="187.42" width="6.36" height="6.37" fill="#9dc943"/><rect x="947.69" y="187.42" width="6.36" height="6.37" fill="#9dc943"/><rect x="953.45" y="187.42" width="6.36" height="6.37" fill="#abc739"/><rect x="959.22" y="187.42" width="6.36" height="6.37" fill="#c5c22a"/><rect x="964.98" y="187.42" width="6.36" height="6.37" fill="#e6bb2d"/><rect x="970.74" y="187.42" width="6.36" height="6.37" fill="#f8ba3d"/><rect x="976.51" y="187.42" width="6.36" height="6.37" fill="#f8ba3d"/><rect x="982.27" y="187.42" width="6.36" height="6.37" fill="#f8ba3d"/><rect x="988.03" y="187.42" width="6.36" height="6.37" fill="#f8ba3d"/><rect x="993.79" y="187.42" width="6.36" height="6.37" fill="#e6bb2d"/><rect x="999.56" y="187.42" width="6.36" height="6.37" fill="#d1bf27"/><rect x="1005.32" y="187.42" width="6.36" height="6.37" fill="#abc739"/><rect x="1011.08" y="187.42" width="6.36" height="6.37" fill="#8fcb4e"/><rect x="1016.85" y="187.42" width="6.36" height="6.37" fill="#81cc59"/><rect x="1022.61" y="187.42" width="6.36" height="6.37" fill="#81cc59"/><rect x="1028.37" y="187.42" width="6.36" height="6.37" fill="#9dc943"/><rect x="1034.13" y="187.42" width="6.36" height="6.37" fill="#b9c431"/><rect x="1039.90" y="187.42" width="6.36" height="6.37" fill="#e6bb2d"/><rect x="1045.66" y="187.42" width="6.36" height="6.37" fill="#fec338"/><rect x="1051.42" y="187.42" width="6.36" height="6.37" fill="#fad62d"/><rect x="1057.18" y="187.42" width="6.36" height="6.37" fill="#f7dc2a"/><rect x="1062.95" y="187.42" width="6.36" height="6.37" fill="#fad62d"/><rect x="1068.71" y="187.42" width="6.36" height="6.37" fill="#fec934"/><rect x="1074.47" y="187.42" width="6.36" height="6.37" fill="#f8ba3d"/><rect x="1080.24" y="187.42" width="6.36" height="6.37" fill="#e6bb2d"/><rect x="1086.00" y="187.42" width="6.36" height="6.37" fill="#dcbd29"/><rect x="1091.76" y="187.42" width="6.36" height="6.37" fill="#d1bf27"/><rect x="1097.52" y="187.42" width="6.36" height="6.37" fill="#d1bf27"/><rect x="1103.29" y="187.42" width="6.36" height="6.37" fill="#d1bf27"/><rect x="1109.05" y="187.42" width="6.36" height="6.37" fill="#c5c22a"/><rect x="1114.81" y="187.42" width="6.36" height="6.37" fill="#b9c431"/><rect x="1120.57" y="187.42" width="6.36" height="6.37" fill="#8fcb4e"/><rect x="1126.34" y="187.42" width="6.36" height="6.37" fill="#8fcb4e"/><rect x="838.20" y="193.20" width="6.36" height="6.37" fill="#4acb84"/><rect x="843.96" y="193.20" width="6.36" height="6.37" fill="#4acb84"/><rect x="849.73" y="193.20" width="6.36" height="6.37" fill="#4acb84"/><rect x="855.49" y="193.20" width="6.36" height="6.37" fill="#57cc7a"/><rect x="861.25" y="193.20" width="6.36" height="6.37" fill="#64cd6f"/><rect x="867.01" y="193.20" width="6.36" height="6.37" fill="#81cc59"/><rect x="872.78" y="193.20" width="6.36" height="6.37" fill="#8fcb4e"/><rect x="878.54" y="193.20" width="6.36" height="6.37" fill="#9dc943"/><rect x="884.30" y="193.20" width="6.36" height="6.37" fill="#abc739"/><rect x="890.06" y="193.20" width="6.36" height="6.37" fill="#b9c431"/><rect x="895.83" y="193.20" width="6.36" height="6.37" fill="#abc739"/><rect x="901.59" y="193.20" width="6.36" height="6.37" fill="#9dc943"/><rect x="907.35" y="193.20" width="6.36" height="6.37" fill="#81cc59"/><rect x="913.12" y="193.20" width="6.36" height="6.37" fill="#72cd64"/><rect x="918.88" y="193.20" width="6.36" height="6.37" fill="#72cd64"/><rect x="924.64" y="193.20" width="6.36" height="6.37" fill="#81cc59"/><rect x="930.40" y="193.20" width="6.36" height="6.37" fill="#81cc59"/><rect x="936.17" y="193.20" width="6.36" height="6.37" fill="#81cc59"/><rect x="941.93" y="193.20" width="6.36" height="6.37" fill="#72cd64"/><rect x="947.69" y="193.20" width="6.36" height="6.37" fill="#72cd64"/><rect x="953.45" y="193.20" width="6.36" height="6.37" fill="#81cc59"/><rect x="959.22" y="193.20" width="6.36" height="6.37" fill="#9dc943"/><rect x="964.98" y="193.20" width="6.36" height="6.37" fill="#b9c431"/><rect x="970.74" y="193.20" width="6.36" height="6.37" fill="#d1bf27"/><rect x="976.51" y="193.20" width="6.36" height="6.37" fill="#e6bb2d"/><rect x="982.27" y="193.20" width="6.36" height="6.37" fill="#f0ba36"/><rect x="988.03" y="193.20" width="6.36" height="6.37" fill="#f0ba36"/><rect x="993.79" y="193.20" width="6.36" height="6.37" fill="#f0ba36"/><rect x="999.56" y="193.20" width="6.36" height="6.37" fill="#dcbd29"/><rect x="1005.32" y="193.20" width="6.36" height="6.37" fill="#c5c22a"/><rect x="1011.08" y="193.20" width="6.36" height="6.37" fill="#abc739"/><rect x="1016.85" y="193.20" width="6.36" height="6.37" fill="#9dc943"/><rect x="1022.61" y="193.20" width="6.36" height="6.37" fill="#9dc943"/><rect x="1028.37" y="193.20" width="6.36" height="6.37" fill="#abc739"/><rect x="1034.13" y="193.20" width="6.36" height="6.37" fill="#c5c22a"/><rect x="1039.90" y="193.20" width="6.36" height="6.37" fill="#e6bb2d"/><rect x="1045.66" y="193.20" width="6.36" height="6.37" fill="#febe3c"/><rect x="1051.42" y="193.20" width="6.36" height="6.37" fill="#fec934"/><rect x="1057.18" y="193.20" width="6.36" height="6.37" fill="#fccf30"/><rect x="1062.95" y="193.20" width="6.36" height="6.37" fill="#fec934"/><rect x="1068.71" y="193.20" width="6.36" height="6.37" fill="#febe3c"/><rect x="1074.47" y="193.20" width="6.36" height="6.37" fill="#f0ba36"/><rect x="1080.24" y="193.20" width="6.36" height="6.37" fill="#e6bb2d"/><rect x="1086.00" y="193.20" width="6.36" height="6.37" fill="#dcbd29"/><rect x="1091.76" y="193.20" width="6.36" height="6.37" fill="#d1bf27"/><rect x="1097.52" y="193.20" width="6.36" height="6.37" fill="#c5c22a"/><rect x="1103.29" y="193.20" width="6.36" height="6.37" fill="#abc739"/><rect x="1109.05" y="193.20" width="6.36" height="6.37" fill="#9dc943"/><rect x="1114.81" y="193.20" width="6.36" height="6.37" fill="#8fcb4e"/><rect x="1120.57" y="193.20" width="6.36" height="6.37" fill="#64cd6f"/><rect x="1126.34" y="193.20" width="6.36" height="6.37" fill="#64cd6f"/><rect x="838.20" y="198.97" width="6.36" height="6.37" fill="#64cd6f"/><rect x="843.96" y="198.97" width="6.36" height="6.37" fill="#64cd6f"/><rect x="849.73" y="198.97" width="6.36" height="6.37" fill="#57cc7a"/><rect x="855.49" y="198.97" width="6.36" height="6.37" fill="#57cc7a"/><rect x="861.25" y="198.97" width="6.36" height="6.37" fill="#64cd6f"/><rect x="867.01" y="198.97" width="6.36" height="6.37" fill="#72cd64"/><rect x="872.78" y="198.97" width="6.36" height="6.37" fill="#81cc59"/><rect x="878.54" y="198.97" width="6.36" height="6.37" fill="#9dc943"/><rect x="884.30" y="198.97" width="6.36" height="6.37" fill="#abc739"/><rect x="890.06" y="198.97" width="6.36" height="6.37" fill="#b9c431"/><rect x="895.83" y="198.97" width="6.36" height="6.37" fill="#abc739"/><rect x="901.59" y="198.97" width="6.36" height="6.37" fill="#8fcb4e"/><rect x="907.35" y="198.97" width="6.36" height="6.37" fill="#57cc7a"/><rect x="913.12" y="198.97" width="6.36" height="6.37" fill="#37c897"/><rect x="918.88" y="198.97" width="6.36" height="6.37" fill="#31c69f"/><rect x="924.64" y="198.97" width="6.36" height="6.37" fill="#37c897"/><rect x="930.40" y="198.97" width="6.36" height="6.37" fill="#4acb84"/><rect x="936.17" y="198.97" width="6.36" height="6.37" fill="#4acb84"/><rect x="941.93" y="198.97" width="6.36" height="6.37" fill="#57cc7a"/><rect x="947.69" y="198.97" width="6.36" height="6.37" fill="#57cc7a"/><rect x="953.45" y="198.97" width="6.36" height="6.37" fill="#57cc7a"/><rect x="959.22" y="198.97" width="6.36" height="6.37" fill="#64cd6f"/><rect x="964.98" y="198.97" width="6.36" height="6.37" fill="#81cc59"/><rect x="970.74" y="198.97" width="6.36" height="6.37" fill="#9dc943"/><rect x="976.51" y="198.97" width="6.36" height="6.37" fill="#c5c22a"/><rect x="982.27" y="198.97" width="6.36" height="6.37" fill="#dcbd29"/><rect x="988.03" y="198.97" width="6.36" height="6.37" fill="#e6bb2d"/><rect x="993.79" y="198.97" width="6.36" height="6.37" fill="#f0ba36"/><rect x="999.56" y="198.97" width="6.36" height="6.37" fill="#e6bb2d"/><rect x="1005.32" y="198.97" width="6.36" height="6.37" fill="#d1bf27"/><rect x="1011.08" y="198.97" width="6.36" height="6.37" fill="#c5c22a"/><rect x="1016.85" y="198.97" width="6.36" height="6.37" fill="#abc739"/><rect x="1022.61" y="198.97" width="6.36" height="6.37" fill="#abc739"/><rect x="1028.37" y="198.97" width="6.36" height="6.37" fill="#b9c431"/><rect x="1034.13" y="198.97" width="6.36" height="6.37" fill="#d1bf27"/><rect x="1039.90" y="198.97" width="6.36" height="6.37" fill="#dcbd29"/><rect x="1045.66" y="198.97" width="6.36" height="6.37" fill="#f0ba36"/><rect x="1051.42" y="198.97" width="6.36" height="6.37" fill="#febe3c"/><rect x="1057.18" y="198.97" width="6.36" height="6.37" fill="#febe3c"/><rect x="1062.95" y="198.97" width="6.36" height="6.37" fill="#f8ba3d"/><rect x="1068.71" y="198.97" width="6.36" height="6.37" fill="#f0ba36"/><rect x="1074.47" y="198.97" width="6.36" height="6.37" fill="#e6bb2d"/><rect x="1080.24" y="198.97" width="6.36" height="6.37" fill="#dcbd29"/><rect x="1086.00" y="198.97" width="6.36" height="6.37" fill="#d1bf27"/><rect x="1091.76" y="198.97" width="6.36" height="6.37" fill="#c5c22a"/><rect x="1097.52" y="198.97" width="6.36" height="6.37" fill="#abc739"/><rect x="1103.29" y="198.97" width="6.36" height="6.37" fill="#9dc943"/><rect x="1109.05" y="198.97" width="6.36" height="6.37" fill="#81cc59"/><rect x="1114.81" y="198.97" width="6.36" height="6.37" fill="#64cd6f"/><rect x="1120.57" y="198.97" width="6.36" height="6.37" fill="#57cc7a"/><rect x="1126.34" y="198.97" width="6.36" height="6.37" fill="#57cc7a"/><rect x="838.20" y="204.75" width="6.36" height="6.37" fill="#64cd6f"/><rect x="843.96" y="204.75" width="6.36" height="6.37" fill="#64cd6f"/><rect x="849.73" y="204.75" width="6.36" height="6.37" fill="#57cc7a"/><rect x="855.49" y="204.75" width="6.36" height="6.37" fill="#4acb84"/><rect x="861.25" y="204.75" width="6.36" height="6.37" fill="#57cc7a"/><rect x="867.01" y="204.75" width="6.36" height="6.37" fill="#64cd6f"/><rect x="872.78" y="204.75" width="6.36" height="6.37" fill="#72cd64"/><rect x="878.54" y="204.75" width="6.36" height="6.37" fill="#81cc59"/><rect x="884.30" y="204.75" width="6.36" height="6.37" fill="#9dc943"/><rect x="890.06" y="204.75" width="6.36" height="6.37" fill="#abc739"/><rect x="895.83" y="204.75" width="6.36" height="6.37" fill="#abc739"/><rect x="901.59" y="204.75" width="6.36" height="6.37" fill="#81cc59"/><rect x="907.35" y="204.75" width="6.36" height="6.37" fill="#3fca8e"/><rect x="913.12" y="204.75" width="6.36" height="6.37" fill="#19bfb6"/><rect x="918.88" y="204.75" width="6.36" height="6.37" fill="#02bac3"/><rect x="924.64" y="204.75" width="6.36" height="6.37" fill="#0bbdbd"/><rect x="930.40" y="204.75" width="6.36" height="6.37" fill="#2cc4a7"/><rect x="936.17" y="204.75" width="6.36" height="6.37" fill="#31c69f"/><rect x="941.93" y="204.75" width="6.36" height="6.37" fill="#37c897"/><rect x="947.69" y="204.75" width="6.36" height="6.37" fill="#31c69f"/><rect x="953.45" y="204.75" width="6.36" height="6.37" fill="#2cc4a7"/><rect x="959.22" y="204.75" width="6.36" height="6.37" fill="#2cc4a7"/><rect x="964.98" y="204.75" width="6.36" height="6.37" fill="#31c69f"/><rect x="970.74" y="204.75" width="6.36" height="6.37" fill="#57cc7a"/><rect x="976.51" y="204.75" width="6.36" height="6.37" fill="#8fcb4e"/><rect x="982.27" y="204.75" width="6.36" height="6.37" fill="#b9c431"/><rect x="988.03" y="204.75" width="6.36" height="6.37" fill="#dcbd29"/><rect x="993.79" y="204.75" width="6.36" height="6.37" fill="#f0ba36"/><rect x="999.56" y="204.75" width="6.36" height="6.37" fill="#f0ba36"/><rect x="1005.32" y="204.75" width="6.36" height="6.37" fill="#f0ba36"/><rect x="1011.08" y="204.75" width="6.36" height="6.37" fill="#dcbd29"/><rect x="1016.85" y="204.75" width="6.36" height="6.37" fill="#d1bf27"/><rect x="1022.61" y="204.75" width="6.36" height="6.37" fill="#c5c22a"/><rect x="1028.37" y="204.75" width="6.36" height="6.37" fill="#d1bf27"/><rect x="1034.13" y="204.75" width="6.36" height="6.37" fill="#d1bf27"/><rect x="1039.90" y="204.75" width="6.36" height="6.37" fill="#dcbd29"/><rect x="1045.66" y="204.75" width="6.36" height="6.37" fill="#e6bb2d"/><rect x="1051.42" y="204.75" width="6.36" height="6.37" fill="#e6bb2d"/><rect x="1057.18" y="204.75" width="6.36" height="6.37" fill="#e6bb2d"/><rect x="1062.95" y="204.75" width="6.36" height="6.37" fill="#dcbd29"/><rect x="1068.71" y="204.75" width="6.36" height="6.37" fill="#dcbd29"/><rect x="1074.47" y="204.75" width="6.36" height="6.37" fill="#dcbd29"/><rect x="1080.24" y="204.75" width="6.36" height="6.37" fill="#dcbd29"/><rect x="1086.00" y="204.75" width="6.36" height="6.37" fill="#d1bf27"/><rect x="1091.76" y="204.75" width="6.36" height="6.37" fill="#c5c22a"/><rect x="1097.52" y="204.75" width="6.36" height="6.37" fill="#abc739"/><rect x="1103.29" y="204.75" width="6.36" height="6.37" fill="#8fcb4e"/><rect x="1109.05" y="204.75" width="6.36" height="6.37" fill="#72cd64"/><rect x="1114.81" y="204.75" width="6.36" height="6.37" fill="#57cc7a"/><rect x="1120.57" y="204.75" width="6.36" height="6.37" fill="#4acb84"/><rect x="1126.34" y="204.75" width="6.36" height="6.37" fill="#4acb84"/><rect x="838.20" y="210.52" width="6.36" height="6.37" fill="#3fca8e"/><rect x="843.96" y="210.52" width="6.36" height="6.37" fill="#37c897"/><rect x="849.73" y="210.52" width="6.36" height="6.37" fill="#37c897"/><rect x="855.49" y="210.52" width="6.36" height="6.37" fill="#37c897"/><rect x="861.25" y="210.52" width="6.36" height="6.37" fill="#37c897"/><rect x="867.01" y="210.52" width="6.36" height="6.37" fill="#4acb84"/><rect x="872.78" y="210.52" width="6.36" height="6.37" fill="#57cc7a"/><rect x="878.54" y="210.52" width="6.36" height="6.37" fill="#72cd64"/><rect x="884.30" y="210.52" width="6.36" height="6.37" fill="#81cc59"/><rect x="890.06" y="210.52" width="6.36" height="6.37" fill="#8fcb4e"/><rect x="895.83" y="210.52" width="6.36" height="6.37" fill="#8fcb4e"/><rect x="901.59" y="210.52" width="6.36" height="6.37" fill="#72cd64"/><rect x="907.35" y="210.52" width="6.36" height="6.37" fill="#4acb84"/><rect x="913.12" y="210.52" width="6.36" height="6.37" fill="#31c69f"/><rect x="918.88" y="210.52" width="6.36" height="6.37" fill="#24c1ae"/><rect x="924.64" y="210.52" width="6.36" height="6.37" fill="#2cc4a7"/><rect x="930.40" y="210.52" width="6.36" height="6.37" fill="#31c69f"/><rect x="936.17" y="210.52" width="6.36" height="6.37" fill="#31c69f"/><rect x="941.93" y="210.52" width="6.36" height="6.37" fill="#2cc4a7"/><rect x="947.69" y="210.52" width="6.36" height="6.37" fill="#19bfb6"/><rect x="953.45" y="210.52" width="6.36" height="6.37" fill="#01b8ca"/><rect x="959.22" y="210.52" width="6.36" height="6.37" fill="#18addb"/><rect x="964.98" y="210.52" width="6.36" height="6.37" fill="#18addb"/><rect x="970.74" y="210.52" width="6.36" height="6.37" fill="#02bac3"/><rect x="976.51" y="210.52" width="6.36" height="6.37" fill="#3fca8e"/><rect x="982.27" y="210.52" width="6.36" height="6.37" fill="#8fcb4e"/><rect x="988.03" y="210.52" width="6.36" height="6.37" fill="#b9c431"/><rect x="993.79" y="210.52" width="6.36" height="6.37" fill="#e6bb2d"/><rect x="999.56" y="210.52" width="6.36" height="6.37" fill="#f8ba3d"/><rect x="1005.32" y="210.52" width="6.36" height="6.37" fill="#febe3c"/><rect x="1011.08" y="210.52" width="6.36" height="6.37" fill="#f8ba3d"/><rect x="1016.85" y="210.52" width="6.36" height="6.37" fill="#f0ba36"/><rect x="1022.61" y="210.52" width="6.36" height="6.37" fill="#e6bb2d"/><rect x="1028.37" y="210.52" width="6.36" height="6.37" fill="#e6bb2d"/><rect x="1034.13" y="210.52" width="6.36" height="6.37" fill="#dcbd29"/><rect x="1039.90" y="210.52" width="6.36" height="6.37" fill="#dcbd29"/><rect x="1045.66" y="210.52" width="6.36" height="6.37" fill="#dcbd29"/><rect x="1051.42" y="210.52" width="6.36" height="6.37" fill="#dcbd29"/><rect x="1057.18" y="210.52" width="6.36" height="6.37" fill="#dcbd29"/><rect x="1062.95" y="210.52" width="6.36" height="6.37" fill="#dcbd29"/><rect x="1068.71" y="210.52" width="6.36" height="6.37" fill="#dcbd29"/><rect x="1074.47" y="210.52" width="6.36" height="6.37" fill="#dcbd29"/><rect x="1080.24" y="210.52" width="6.36" height="6.37" fill="#dcbd29"/><rect x="1086.00" y="210.52" width="6.36" height="6.37" fill="#d1bf27"/><rect x="1091.76" y="210.52" width="6.36" height="6.37" fill="#c5c22a"/><rect x="1097.52" y="210.52" width="6.36" height="6.37" fill="#abc739"/><rect x="1103.29" y="210.52" width="6.36" height="6.37" fill="#9dc943"/><rect x="1109.05" y="210.52" width="6.36" height="6.37" fill="#81cc59"/><rect x="1114.81" y="210.52" width="6.36" height="6.37" fill="#64cd6f"/><rect x="1120.57" y="210.52" width="6.36" height="6.37" fill="#57cc7a"/><rect x="1126.34" y="210.52" width="6.36" height="6.37" fill="#57cc7a"/><rect x="838.20" y="216.29" width="6.36" height="6.37" fill="#01b8ca"/><rect x="843.96" y="216.29" width="6.36" height="6.37" fill="#01b8ca"/><rect x="849.73" y="216.29" width="6.36" height="6.37" fill="#02bac3"/><rect x="855.49" y="216.29" width="6.36" height="6.37" fill="#0bbdbd"/><rect x="861.25" y="216.29" width="6.36" height="6.37" fill="#2cc4a7"/><rect x="867.01" y="216.29" width="6.36" height="6.37" fill="#37c897"/><rect x="872.78" y="216.29" width="6.36" height="6.37" fill="#4acb84"/><rect x="878.54" y="216.29" width="6.36" height="6.37" fill="#57cc7a"/><rect x="884.30" y="216.29" width="6.36" height="6.37" fill="#64cd6f"/><rect x="890.06" y="216.29" width="6.36" height="6.37" fill="#72cd64"/><rect x="895.83" y="216.29" width="6.36" height="6.37" fill="#81cc59"/><rect x="901.59" y="216.29" width="6.36" height="6.37" fill="#81cc59"/><rect x="907.35" y="216.29" width="6.36" height="6.37" fill="#72cd64"/><rect x="913.12" y="216.29" width="6.36" height="6.37" fill="#72cd64"/><rect x="918.88" y="216.29" width="6.36" height="6.37" fill="#64cd6f"/><rect x="924.64" y="216.29" width="6.36" height="6.37" fill="#57cc7a"/><rect x="930.40" y="216.29" width="6.36" height="6.37" fill="#4acb84"/><rect x="936.17" y="216.29" width="6.36" height="6.37" fill="#3fca8e"/><rect x="941.93" y="216.29" width="6.36" height="6.37" fill="#31c69f"/><rect x="947.69" y="216.29" width="6.36" height="6.37" fill="#02bac3"/><rect x="953.45" y="216.29" width="6.36" height="6.37" fill="#20a5e3"/><rect x="959.22" y="216.29" width="6.36" height="6.37" fill="#2b91ef"/><rect x="964.98" y="216.29" width="6.36" height="6.37" fill="#2e87f7"/><rect x="970.74" y="216.29" width="6.36" height="6.37" fill="#259be8"/><rect x="976.51" y="216.29" width="6.36" height="6.37" fill="#01b8ca"/><rect x="982.27" y="216.29" width="6.36" height="6.37" fill="#57cc7a"/><rect x="988.03" y="216.29" width="6.36" height="6.37" fill="#9dc943"/><rect x="993.79" y="216.29" width="6.36" height="6.37" fill="#d1bf27"/><rect x="999.56" y="216.29" width="6.36" height="6.37" fill="#f8ba3d"/><rect x="1005.32" y="216.29" width="6.36" height="6.37" fill="#fec338"/><rect x="1011.08" y="216.29" width="6.36" height="6.37" fill="#fec934"/><rect x="1016.85" y="216.29" width="6.36" height="6.37" fill="#fec934"/><rect x="1022.61" y="216.29" width="6.36" height="6.37" fill="#fec338"/><rect x="1028.37" y="216.29" width="6.36" height="6.37" fill="#f8ba3d"/><rect x="1034.13" y="216.29" width="6.36" height="6.37" fill="#f0ba36"/><rect x="1039.90" y="216.29" width="6.36" height="6.37" fill="#dcbd29"/><rect x="1045.66" y="216.29" width="6.36" height="6.37" fill="#dcbd29"/><rect x="1051.42" y="216.29" width="6.36" height="6.37" fill="#dcbd29"/><rect x="1057.18" y="216.29" width="6.36" height="6.37" fill="#dcbd29"/><rect x="1062.95" y="216.29" width="6.36" height="6.37" fill="#e6bb2d"/><rect x="1068.71" y="216.29" width="6.36" height="6.37" fill="#e6bb2d"/><rect x="1074.47" y="216.29" width="6.36" height="6.37" fill="#e6bb2d"/><rect x="1080.24" y="216.29" width="6.36" height="6.37" fill="#e6bb2d"/><rect x="1086.00" y="216.29" width="6.36" height="6.37" fill="#e6bb2d"/><rect x="1091.76" y="216.29" width="6.36" height="6.37" fill="#dcbd29"/><rect x="1097.52" y="216.29" width="6.36" height="6.37" fill="#c5c22a"/><rect x="1103.29" y="216.29" width="6.36" height="6.37" fill="#b9c431"/><rect x="1109.05" y="216.29" width="6.36" height="6.37" fill="#9dc943"/><rect x="1114.81" y="216.29" width="6.36" height="6.37" fill="#81cc59"/><rect x="1120.57" y="216.29" width="6.36" height="6.37" fill="#72cd64"/><rect x="1126.34" y="216.29" width="6.36" height="6.37" fill="#72cd64"/><rect x="838.20" y="222.07" width="6.36" height="6.37" fill="#23a0e5"/><rect x="843.96" y="222.07" width="6.36" height="6.37" fill="#259be8"/><rect x="849.73" y="222.07" width="6.36" height="6.37" fill="#1ca9df"/><rect x="855.49" y="222.07" width="6.36" height="6.37" fill="#08b5d0"/><rect x="861.25" y="222.07" width="6.36" height="6.37" fill="#0bbdbd"/><rect x="867.01" y="222.07" width="6.36" height="6.37" fill="#2cc4a7"/><rect x="872.78" y="222.07" width="6.36" height="6.37" fill="#3fca8e"/><rect x="878.54" y="222.07" width="6.36" height="6.37" fill="#4acb84"/><rect x="884.30" y="222.07" width="6.36" height="6.37" fill="#57cc7a"/><rect x="890.06" y="222.07" width="6.36" height="6.37" fill="#64cd6f"/><rect x="895.83" y="222.07" width="6.36" height="6.37" fill="#72cd64"/><rect x="901.59" y="222.07" width="6.36" height="6.37" fill="#81cc59"/><rect x="907.35" y="222.07" width="6.36" height="6.37" fill="#9dc943"/><rect x="913.12" y="222.07" width="6.36" height="6.37" fill="#abc739"/><rect x="918.88" y="222.07" width="6.36" height="6.37" fill="#abc739"/><rect x="924.64" y="222.07" width="6.36" height="6.37" fill="#8fcb4e"/><rect x="930.40" y="222.07" width="6.36" height="6.37" fill="#72cd64"/><rect x="936.17" y="222.07" width="6.36" height="6.37" fill="#57cc7a"/><rect x="941.93" y="222.07" width="6.36" height="6.37" fill="#31c69f"/><rect x="947.69" y="222.07" width="6.36" height="6.37" fill="#01b8ca"/><rect x="953.45" y="222.07" width="6.36" height="6.37" fill="#259be8"/><rect x="959.22" y="222.07" width="6.36" height="6.37" fill="#327cfc"/><rect x="964.98" y="222.07" width="6.36" height="6.37" fill="#3e6fff"/><rect x="970.74" y="222.07" width="6.36" height="6.37" fill="#2f81fa"/><rect x="976.51" y="222.07" width="6.36" height="6.37" fill="#1ca9df"/><rect x="982.27" y="222.07" width="6.36" height="6.37" fill="#37c897"/><rect x="988.03" y="222.07" width="6.36" height="6.37" fill="#8fcb4e"/><rect x="993.79" y="222.07" width="6.36" height="6.37" fill="#d1bf27"/><rect x="999.56" y="222.07" width="6.36" height="6.37" fill="#f8ba3d"/><rect x="1005.32" y="222.07" width="6.36" height="6.37" fill="#fccf30"/><rect x="1011.08" y="222.07" width="6.36" height="6.37" fill="#f7dc2a"/><rect x="1016.85" y="222.07" width="6.36" height="6.37" fill="#f7dc2a"/><rect x="1022.61" y="222.07" width="6.36" height="6.37" fill="#fad62d"/><rect x="1028.37" y="222.07" width="6.36" height="6.37" fill="#fec934"/><rect x="1034.13" y="222.07" width="6.36" height="6.37" fill="#f8ba3d"/><rect x="1039.90" y="222.07" width="6.36" height="6.37" fill="#e6bb2d"/><rect x="1045.66" y="222.07" width="6.36" height="6.37" fill="#dcbd29"/><rect x="1051.42" y="222.07" width="6.36" height="6.37" fill="#dcbd29"/><rect x="1057.18" y="222.07" width="6.36" height="6.37" fill="#e6bb2d"/><rect x="1062.95" y="222.07" width="6.36" height="6.37" fill="#f0ba36"/><rect x="1068.71" y="222.07" width="6.36" height="6.37" fill="#f8ba3d"/><rect x="1074.47" y="222.07" width="6.36" height="6.37" fill="#febe3c"/><rect x="1080.24" y="222.07" width="6.36" height="6.37" fill="#febe3c"/><rect x="1086.00" y="222.07" width="6.36" height="6.37" fill="#f8ba3d"/><rect x="1091.76" y="222.07" width="6.36" height="6.37" fill="#f8ba3d"/><rect x="1097.52" y="222.07" width="6.36" height="6.37" fill="#f0ba36"/><rect x="1103.29" y="222.07" width="6.36" height="6.37" fill="#dcbd29"/><rect x="1109.05" y="222.07" width="6.36" height="6.37" fill="#c5c22a"/><rect x="1114.81" y="222.07" width="6.36" height="6.37" fill="#abc739"/><rect x="1120.57" y="222.07" width="6.36" height="6.37" fill="#8fcb4e"/><rect x="1126.34" y="222.07" width="6.36" height="6.37" fill="#8fcb4e"/><rect x="838.20" y="227.84" width="6.36" height="6.37" fill="#2b91ef"/><rect x="843.96" y="227.84" width="6.36" height="6.37" fill="#2d8cf3"/><rect x="849.73" y="227.84" width="6.36" height="6.37" fill="#23a0e5"/><rect x="855.49" y="227.84" width="6.36" height="6.37" fill="#18addb"/><rect x="861.25" y="227.84" width="6.36" height="6.37" fill="#02bac3"/><rect x="867.01" y="227.84" width="6.36" height="6.37" fill="#24c1ae"/><rect x="872.78" y="227.84" width="6.36" height="6.37" fill="#37c897"/><rect x="878.54" y="227.84" width="6.36" height="6.37" fill="#3fca8e"/><rect x="884.30" y="227.84" width="6.36" height="6.37" fill="#4acb84"/><rect x="890.06" y="227.84" width="6.36" height="6.37" fill="#57cc7a"/><rect x="895.83" y="227.84" width="6.36" height="6.37" fill="#72cd64"/><rect x="901.59" y="227.84" width="6.36" height="6.37" fill="#8fcb4e"/><rect x="907.35" y="227.84" width="6.36" height="6.37" fill="#b9c431"/><rect x="913.12" y="227.84" width="6.36" height="6.37" fill="#c5c22a"/><rect x="918.88" y="227.84" width="6.36" height="6.37" fill="#c5c22a"/><rect x="924.64" y="227.84" width="6.36" height="6.37" fill="#abc739"/><rect x="930.40" y="227.84" width="6.36" height="6.37" fill="#81cc59"/><rect x="936.17" y="227.84" width="6.36" height="6.37" fill="#57cc7a"/><rect x="941.93" y="227.84" width="6.36" height="6.37" fill="#31c69f"/><rect x="947.69" y="227.84" width="6.36" height="6.37" fill="#01b8ca"/><rect x="953.45" y="227.84" width="6.36" height="6.37" fill="#2797eb"/><rect x="959.22" y="227.84" width="6.36" height="6.37" fill="#3875fe"/><rect x="964.98" y="227.84" width="6.36" height="6.37" fill="#4269fe"/><rect x="970.74" y="227.84" width="6.36" height="6.37" fill="#2f81fa"/><rect x="976.51" y="227.84" width="6.36" height="6.37" fill="#1ca9df"/><rect x="982.27" y="227.84" width="6.36" height="6.37" fill="#37c897"/><rect x="988.03" y="227.84" width="6.36" height="6.37" fill="#8fcb4e"/><rect x="993.79" y="227.84" width="6.36" height="6.37" fill="#d1bf27"/><rect x="999.56" y="227.84" width="6.36" height="6.37" fill="#febe3c"/><rect x="1005.32" y="227.84" width="6.36" height="6.37" fill="#fad62d"/><rect x="1011.08" y="227.84" width="6.36" height="6.37" fill="#f5e924"/><rect x="1016.85" y="227.84" width="6.36" height="6.37" fill="#f6ef20"/><rect x="1022.61" y="227.84" width="6.36" height="6.37" fill="#f5e924"/><rect x="1028.37" y="227.84" width="6.36" height="6.37" fill="#fad62d"/><rect x="1034.13" y="227.84" width="6.36" height="6.37" fill="#fec338"/><rect x="1039.90" y="227.84" width="6.36" height="6.37" fill="#f8ba3d"/><rect x="1045.66" y="227.84" width="6.36" height="6.37" fill="#e6bb2d"/><rect x="1051.42" y="227.84" width="6.36" height="6.37" fill="#e6bb2d"/><rect x="1057.18" y="227.84" width="6.36" height="6.37" fill="#f0ba36"/><rect x="1062.95" y="227.84" width="6.36" height="6.37" fill="#febe3c"/><rect x="1068.71" y="227.84" width="6.36" height="6.37" fill="#fec934"/><rect x="1074.47" y="227.84" width="6.36" height="6.37" fill="#fccf30"/><rect x="1080.24" y="227.84" width="6.36" height="6.37" fill="#fad62d"/><rect x="1086.00" y="227.84" width="6.36" height="6.37" fill="#fccf30"/><rect x="1091.76" y="227.84" width="6.36" height="6.37" fill="#fccf30"/><rect x="1097.52" y="227.84" width="6.36" height="6.37" fill="#fec934"/><rect x="1103.29" y="227.84" width="6.36" height="6.37" fill="#febe3c"/><rect x="1109.05" y="227.84" width="6.36" height="6.37" fill="#f0ba36"/><rect x="1114.81" y="227.84" width="6.36" height="6.37" fill="#d1bf27"/><rect x="1120.57" y="227.84" width="6.36" height="6.37" fill="#abc739"/><rect x="1126.34" y="227.84" width="6.36" height="6.37" fill="#abc739"/><rect x="838.20" y="233.62" width="6.36" height="6.37" fill="#2b91ef"/><rect x="843.96" y="233.62" width="6.36" height="6.37" fill="#2d8cf3"/><rect x="849.73" y="233.62" width="6.36" height="6.37" fill="#23a0e5"/><rect x="855.49" y="233.62" width="6.36" height="6.37" fill="#12b1d6"/><rect x="861.25" y="233.62" width="6.36" height="6.37" fill="#02bac3"/><rect x="867.01" y="233.62" width="6.36" height="6.37" fill="#24c1ae"/><rect x="872.78" y="233.62" width="6.36" height="6.37" fill="#31c69f"/><rect x="878.54" y="233.62" width="6.36" height="6.37" fill="#3fca8e"/><rect x="884.30" y="233.62" width="6.36" height="6.37" fill="#4acb84"/><rect x="890.06" y="233.62" width="6.36" height="6.37" fill="#64cd6f"/><rect x="895.83" y="233.62" width="6.36" height="6.37" fill="#81cc59"/><rect x="901.59" y="233.62" width="6.36" height="6.37" fill="#9dc943"/><rect x="907.35" y="233.62" width="6.36" height="6.37" fill="#c5c22a"/><rect x="913.12" y="233.62" width="6.36" height="6.37" fill="#d1bf27"/><rect x="918.88" y="233.62" width="6.36" height="6.37" fill="#b9c431"/><rect x="924.64" y="233.62" width="6.36" height="6.37" fill="#9dc943"/><rect x="930.40" y="233.62" width="6.36" height="6.37" fill="#81cc59"/><rect x="936.17" y="233.62" width="6.36" height="6.37" fill="#57cc7a"/><rect x="941.93" y="233.62" width="6.36" height="6.37" fill="#37c897"/><rect x="947.69" y="233.62" width="6.36" height="6.37" fill="#02bac3"/><rect x="953.45" y="233.62" width="6.36" height="6.37" fill="#23a0e5"/><rect x="959.22" y="233.62" width="6.36" height="6.37" fill="#2f81fa"/><rect x="964.98" y="233.62" width="6.36" height="6.37" fill="#327cfc"/><rect x="970.74" y="233.62" width="6.36" height="6.37" fill="#2d8cf3"/><rect x="976.51" y="233.62" width="6.36" height="6.37" fill="#08b5d0"/><rect x="982.27" y="233.62" width="6.36" height="6.37" fill="#4acb84"/><rect x="988.03" y="233.62" width="6.36" height="6.37" fill="#9dc943"/><rect x="993.79" y="233.62" width="6.36" height="6.37" fill="#dcbd29"/><rect x="999.56" y="233.62" width="6.36" height="6.37" fill="#fec338"/><rect x="1005.32" y="233.62" width="6.36" height="6.37" fill="#f7dc2a"/><rect x="1011.08" y="233.62" width="6.36" height="6.37" fill="#f5e924"/><rect x="1016.85" y="233.62" width="6.36" height="6.37" fill="#f6ef20"/><rect x="1022.61" y="233.62" width="6.36" height="6.37" fill="#f5e924"/><rect x="1028.37" y="233.62" width="6.36" height="6.37" fill="#f7dc2a"/><rect x="1034.13" y="233.62" width="6.36" height="6.37" fill="#fec934"/><rect x="1039.90" y="233.62" width="6.36" height="6.37" fill="#f8ba3d"/><rect x="1045.66" y="233.62" width="6.36" height="6.37" fill="#f0ba36"/><rect x="1051.42" y="233.62" width="6.36" height="6.37" fill="#f0ba36"/><rect x="1057.18" y="233.62" width="6.36" height="6.37" fill="#f8ba3d"/><rect x="1062.95" y="233.62" width="6.36" height="6.37" fill="#fec338"/><rect x="1068.71" y="233.62" width="6.36" height="6.37" fill="#fad62d"/><rect x="1074.47" y="233.62" width="6.36" height="6.37" fill="#f5e327"/><rect x="1080.24" y="233.62" width="6.36" height="6.37" fill="#f5e924"/><rect x="1086.00" y="233.62" width="6.36" height="6.37" fill="#f5e924"/><rect x="1091.76" y="233.62" width="6.36" height="6.37" fill="#f5e924"/><rect x="1097.52" y="233.62" width="6.36" height="6.37" fill="#f5e327"/><rect x="1103.29" y="233.62" width="6.36" height="6.37" fill="#fad62d"/><rect x="1109.05" y="233.62" width="6.36" height="6.37" fill="#fec338"/><rect x="1114.81" y="233.62" width="6.36" height="6.37" fill="#f0ba36"/><rect x="1120.57" y="233.62" width="6.36" height="6.37" fill="#c5c22a"/><rect x="1126.34" y="233.62" width="6.36" height="6.37" fill="#c5c22a"/><rect x="838.20" y="239.39" width="6.36" height="6.37" fill="#2797eb"/><rect x="843.96" y="239.39" width="6.36" height="6.37" fill="#2797eb"/><rect x="849.73" y="239.39" width="6.36" height="6.37" fill="#1ca9df"/><rect x="855.49" y="239.39" width="6.36" height="6.37" fill="#08b5d0"/><rect x="861.25" y="239.39" width="6.36" height="6.37" fill="#0bbdbd"/><rect x="867.01" y="239.39" width="6.36" height="6.37" fill="#24c1ae"/><rect x="872.78" y="239.39" width="6.36" height="6.37" fill="#31c69f"/><rect x="878.54" y="239.39" width="6.36" height="6.37" fill="#3fca8e"/><rect x="884.30" y="239.39" width="6.36" height="6.37" fill="#57cc7a"/><rect x="890.06" y="239.39" width="6.36" height="6.37" fill="#64cd6f"/><rect x="895.83" y="239.39" width="6.36" height="6.37" fill="#81cc59"/><rect x="901.59" y="239.39" width="6.36" height="6.37" fill="#9dc943"/><rect x="907.35" y="239.39" width="6.36" height="6.37" fill="#b9c431"/><rect x="913.12" y="239.39" width="6.36" height="6.37" fill="#b9c431"/><rect x="918.88" y="239.39" width="6.36" height="6.37" fill="#abc739"/><rect x="924.64" y="239.39" width="6.36" height="6.37" fill="#81cc59"/><rect x="930.40" y="239.39" width="6.36" height="6.37" fill="#64cd6f"/><rect x="936.17" y="239.39" width="6.36" height="6.37" fill="#4acb84"/><rect x="941.93" y="239.39" width="6.36" height="6.37" fill="#37c897"/><rect x="947.69" y="239.39" width="6.36" height="6.37" fill="#19bfb6"/><rect x="953.45" y="239.39" width="6.36" height="6.37" fill="#18addb"/><rect x="959.22" y="239.39" width="6.36" height="6.37" fill="#259be8"/><rect x="964.98" y="239.39" width="6.36" height="6.37" fill="#2b91ef"/><rect x="970.74" y="239.39" width="6.36" height="6.37" fill="#20a5e3"/><rect x="976.51" y="239.39" width="6.36" height="6.37" fill="#19bfb6"/><rect x="982.27" y="239.39" width="6.36" height="6.37" fill="#72cd64"/><rect x="988.03" y="239.39" width="6.36" height="6.37" fill="#abc739"/><rect x="993.79" y="239.39" width="6.36" height="6.37" fill="#e6bb2d"/><rect x="999.56" y="239.39" width="6.36" height="6.37" fill="#fec338"/><rect x="1005.32" y="239.39" width="6.36" height="6.37" fill="#fad62d"/><rect x="1011.08" y="239.39" width="6.36" height="6.37" fill="#f5e327"/><rect x="1016.85" y="239.39" width="6.36" height="6.37" fill="#f5e924"/><rect x="1022.61" y="239.39" width="6.36" height="6.37" fill="#f7dc2a"/><rect x="1028.37" y="239.39" width="6.36" height="6.37" fill="#fccf30"/><rect x="1034.13" y="239.39" width="6.36" height="6.37" fill="#fec338"/><rect x="1039.90" y="239.39" width="6.36" height="6.37" fill="#f8ba3d"/><rect x="1045.66" y="239.39" width="6.36" height="6.37" fill="#f0ba36"/><rect x="1051.42" y="239.39" width="6.36" height="6.37" fill="#f0ba36"/><rect x="1057.18" y="239.39" width="6.36" height="6.37" fill="#f8ba3d"/><rect x="1062.95" y="239.39" width="6.36" height="6.37" fill="#fec338"/><rect x="1068.71" y="239.39" width="6.36" height="6.37" fill="#fccf30"/><rect x="1074.47" y="239.39" width="6.36" height="6.37" fill="#f7dc2a"/><rect x="1080.24" y="239.39" width="6.36" height="6.37" fill="#f5e924"/><rect x="1086.00" y="239.39" width="6.36" height="6.37" fill="#f6ef20"/><rect x="1091.76" y="239.39" width="6.36" height="6.37" fill="#f6ef20"/><rect x="1097.52" y="239.39" width="6.36" height="6.37" fill="#f5e327"/><rect x="1103.29" y="239.39" width="6.36" height="6.37" fill="#fad62d"/><rect x="1109.05" y="239.39" width="6.36" height="6.37" fill="#fec338"/><rect x="1114.81" y="239.39" width="6.36" height="6.37" fill="#f0ba36"/><rect x="1120.57" y="239.39" width="6.36" height="6.37" fill="#c5c22a"/><rect x="1126.34" y="239.39" width="6.36" height="6.37" fill="#c5c22a"/><rect x="838.20" y="245.17" width="6.36" height="6.37" fill="#23a0e5"/><rect x="843.96" y="245.17" width="6.36" height="6.37" fill="#23a0e5"/><rect x="849.73" y="245.17" width="6.36" height="6.37" fill="#12b1d6"/><rect x="855.49" y="245.17" width="6.36" height="6.37" fill="#02bac3"/><rect x="861.25" y="245.17" width="6.36" height="6.37" fill="#19bfb6"/><rect x="867.01" y="245.17" width="6.36" height="6.37" fill="#2cc4a7"/><rect x="872.78" y="245.17" width="6.36" height="6.37" fill="#31c69f"/><rect x="878.54" y="245.17" width="6.36" height="6.37" fill="#3fca8e"/><rect x="884.30" y="245.17" width="6.36" height="6.37" fill="#57cc7a"/><rect x="890.06" y="245.17" width="6.36" height="6.37" fill="#64cd6f"/><rect x="895.83" y="245.17" width="6.36" height="6.37" fill="#81cc59"/><rect x="901.59" y="245.17" width="6.36" height="6.37" fill="#8fcb4e"/><rect x="907.35" y="245.17" width="6.36" height="6.37" fill="#8fcb4e"/><rect x="913.12" y="245.17" width="6.36" height="6.37" fill="#8fcb4e"/><rect x="918.88" y="245.17" width="6.36" height="6.37" fill="#81cc59"/><rect x="924.64" y="245.17" width="6.36" height="6.37" fill="#64cd6f"/><rect x="930.40" y="245.17" width="6.36" height="6.37" fill="#57cc7a"/><rect x="936.17" y="245.17" width="6.36" height="6.37" fill="#4acb84"/><rect x="941.93" y="245.17" width="6.36" height="6.37" fill="#3fca8e"/><rect x="947.69" y="245.17" width="6.36" height="6.37" fill="#31c69f"/><rect x="953.45" y="245.17" width="6.36" height="6.37" fill="#19bfb6"/><rect x="959.22" y="245.17" width="6.36" height="6.37" fill="#08b5d0"/><rect x="964.98" y="245.17" width="6.36" height="6.37" fill="#12b1d6"/><rect x="970.74" y="245.17" width="6.36" height="6.37" fill="#02bac3"/><rect x="976.51" y="245.17" width="6.36" height="6.37" fill="#3fca8e"/><rect x="982.27" y="245.17" width="6.36" height="6.37" fill="#81cc59"/><rect x="988.03" y="245.17" width="6.36" height="6.37" fill="#b9c431"/><rect x="993.79" y="245.17" width="6.36" height="6.37" fill="#dcbd29"/><rect x="999.56" y="245.17" width="6.36" height="6.37" fill="#f8ba3d"/><rect x="1005.32" y="245.17" width="6.36" height="6.37" fill="#fec934"/><rect x="1011.08" y="245.17" width="6.36" height="6.37" fill="#fccf30"/><rect x="1016.85" y="245.17" width="6.36" height="6.37" fill="#fccf30"/><rect x="1022.61" y="245.17" width="6.36" height="6.37" fill="#fec338"/><rect x="1028.37" y="245.17" width="6.36" height="6.37" fill="#f0ba36"/><rect x="1034.13" y="245.17" width="6.36" height="6.37" fill="#e6bb2d"/><rect x="1039.90" y="245.17" width="6.36" height="6.37" fill="#e6bb2d"/><rect x="1045.66" y="245.17" width="6.36" height="6.37" fill="#e6bb2d"/><rect x="1051.42" y="245.17" width="6.36" height="6.37" fill="#f0ba36"/><rect x="1057.18" y="245.17" width="6.36" height="6.37" fill="#f0ba36"/><rect x="1062.95" y="245.17" width="6.36" height="6.37" fill="#f0ba36"/><rect x="1068.71" y="245.17" width="6.36" height="6.37" fill="#f8ba3d"/><rect x="1074.47" y="245.17" width="6.36" height="6.37" fill="#fec338"/><rect x="1080.24" y="245.17" width="6.36" height="6.37" fill="#fccf30"/><rect x="1086.00" y="245.17" width="6.36" height="6.37" fill="#f7dc2a"/><rect x="1091.76" y="245.17" width="6.36" height="6.37" fill="#f7dc2a"/><rect x="1097.52" y="245.17" width="6.36" height="6.37" fill="#fccf30"/><rect x="1103.29" y="245.17" width="6.36" height="6.37" fill="#febe3c"/><rect x="1109.05" y="245.17" width="6.36" height="6.37" fill="#e6bb2d"/><rect x="1114.81" y="245.17" width="6.36" height="6.37" fill="#c5c22a"/><rect x="1120.57" y="245.17" width="6.36" height="6.37" fill="#abc739"/><rect x="1126.34" y="245.17" width="6.36" height="6.37" fill="#abc739"/><rect x="838.20" y="250.94" width="6.36" height="6.37" fill="#18addb"/><rect x="843.96" y="250.94" width="6.36" height="6.37" fill="#18addb"/><rect x="849.73" y="250.94" width="6.36" height="6.37" fill="#01b8ca"/><rect x="855.49" y="250.94" width="6.36" height="6.37" fill="#0bbdbd"/><rect x="861.25" y="250.94" width="6.36" height="6.37" fill="#24c1ae"/><rect x="867.01" y="250.94" width="6.36" height="6.37" fill="#2cc4a7"/><rect x="872.78" y="250.94" width="6.36" height="6.37" fill="#37c897"/><rect x="878.54" y="250.94" width="6.36" height="6.37" fill="#3fca8e"/><rect x="884.30" y="250.94" width="6.36" height="6.37" fill="#57cc7a"/><rect x="890.06" y="250.94" width="6.36" height="6.37" fill="#64cd6f"/><rect x="895.83" y="250.94" width="6.36" height="6.37" fill="#72cd64"/><rect x="901.59" y="250.94" width="6.36" height="6.37" fill="#72cd64"/><rect x="907.35" y="250.94" width="6.36" height="6.37" fill="#64cd6f"/><rect x="913.12" y="250.94" width="6.36" height="6.37" fill="#57cc7a"/><rect x="918.88" y="250.94" width="6.36" height="6.37" fill="#4acb84"/><rect x="924.64" y="250.94" width="6.36" height="6.37" fill="#3fca8e"/><rect x="930.40" y="250.94" width="6.36" height="6.37" fill="#3fca8e"/><rect x="936.17" y="250.94" width="6.36" height="6.37" fill="#4acb84"/><rect x="941.93" y="250.94" width="6.36" height="6.37" fill="#4acb84"/><rect x="947.69" y="250.94" width="6.36" height="6.37" fill="#4acb84"/><rect x="953.45" y="250.94" width="6.36" height="6.37" fill="#3fca8e"/><rect x="959.22" y="250.94" width="6.36" height="6.37" fill="#31c69f"/><rect x="964.98" y="250.94" width="6.36" height="6.37" fill="#31c69f"/><rect x="970.74" y="250.94" width="6.36" height="6.37" fill="#37c897"/><rect x="976.51" y="250.94" width="6.36" height="6.37" fill="#57cc7a"/><rect x="982.27" y="250.94" width="6.36" height="6.37" fill="#81cc59"/><rect x="988.03" y="250.94" width="6.36" height="6.37" fill="#abc739"/><rect x="993.79" y="250.94" width="6.36" height="6.37" fill="#d1bf27"/><rect x="999.56" y="250.94" width="6.36" height="6.37" fill="#f0ba36"/><rect x="1005.32" y="250.94" width="6.36" height="6.37" fill="#f8ba3d"/><rect x="1011.08" y="250.94" width="6.36" height="6.37" fill="#f8ba3d"/><rect x="1016.85" y="250.94" width="6.36" height="6.37" fill="#f0ba36"/><rect x="1022.61" y="250.94" width="6.36" height="6.37" fill="#d1bf27"/><rect x="1028.37" y="250.94" width="6.36" height="6.37" fill="#b9c431"/><rect x="1034.13" y="250.94" width="6.36" height="6.37" fill="#abc739"/><rect x="1039.90" y="250.94" width="6.36" height="6.37" fill="#c5c22a"/><rect x="1045.66" y="250.94" width="6.36" height="6.37" fill="#dcbd29"/><rect x="1051.42" y="250.94" width="6.36" height="6.37" fill="#e6bb2d"/><rect x="1057.18" y="250.94" width="6.36" height="6.37" fill="#dcbd29"/><rect x="1062.95" y="250.94" width="6.36" height="6.37" fill="#c5c22a"/><rect x="1068.71" y="250.94" width="6.36" height="6.37" fill="#b9c431"/><rect x="1074.47" y="250.94" width="6.36" height="6.37" fill="#d1bf27"/><rect x="1080.24" y="250.94" width="6.36" height="6.37" fill="#e6bb2d"/><rect x="1086.00" y="250.94" width="6.36" height="6.37" fill="#f8ba3d"/><rect x="1091.76" y="250.94" width="6.36" height="6.37" fill="#f8ba3d"/><rect x="1097.52" y="250.94" width="6.36" height="6.37" fill="#e6bb2d"/><rect x="1103.29" y="250.94" width="6.36" height="6.37" fill="#c5c22a"/><rect x="1109.05" y="250.94" width="6.36" height="6.37" fill="#abc739"/><rect x="1114.81" y="250.94" width="6.36" height="6.37" fill="#8fcb4e"/><rect x="1120.57" y="250.94" width="6.36" height="6.37" fill="#81cc59"/><rect x="1126.34" y="250.94" width="6.36" height="6.37" fill="#81cc59"/><rect x="838.20" y="256.72" width="6.36" height="6.37" fill="#01b8ca"/><rect x="843.96" y="256.72" width="6.36" height="6.37" fill="#01b8ca"/><rect x="849.73" y="256.72" width="6.36" height="6.37" fill="#02bac3"/><rect x="855.49" y="256.72" width="6.36" height="6.37" fill="#0bbdbd"/><rect x="861.25" y="256.72" width="6.36" height="6.37" fill="#24c1ae"/><rect x="867.01" y="256.72" width="6.36" height="6.37" fill="#31c69f"/><rect x="872.78" y="256.72" width="6.36" height="6.37" fill="#3fca8e"/><rect x="878.54" y="256.72" width="6.36" height="6.37" fill="#4acb84"/><rect x="884.30" y="256.72" width="6.36" height="6.37" fill="#57cc7a"/><rect x="890.06" y="256.72" width="6.36" height="6.37" fill="#64cd6f"/><rect x="895.83" y="256.72" width="6.36" height="6.37" fill="#64cd6f"/><rect x="901.59" y="256.72" width="6.36" height="6.37" fill="#57cc7a"/><rect x="907.35" y="256.72" width="6.36" height="6.37" fill="#37c897"/><rect x="913.12" y="256.72" width="6.36" height="6.37" fill="#31c69f"/><rect x="918.88" y="256.72" width="6.36" height="6.37" fill="#2cc4a7"/><rect x="924.64" y="256.72" width="6.36" height="6.37" fill="#31c69f"/><rect x="930.40" y="256.72" width="6.36" height="6.37" fill="#3fca8e"/><rect x="936.17" y="256.72" width="6.36" height="6.37" fill="#4acb84"/><rect x="941.93" y="256.72" width="6.36" height="6.37" fill="#64cd6f"/><rect x="947.69" y="256.72" width="6.36" height="6.37" fill="#72cd64"/><rect x="953.45" y="256.72" width="6.36" height="6.37" fill="#72cd64"/><rect x="959.22" y="256.72" width="6.36" height="6.37" fill="#64cd6f"/><rect x="964.98" y="256.72" width="6.36" height="6.37" fill="#64cd6f"/><rect x="970.74" y="256.72" width="6.36" height="6.37" fill="#57cc7a"/><rect x="976.51" y="256.72" width="6.36" height="6.37" fill="#64cd6f"/><rect x="982.27" y="256.72" width="6.36" height="6.37" fill="#81cc59"/><rect x="988.03" y="256.72" width="6.36" height="6.37" fill="#9dc943"/><rect x="993.79" y="256.72" width="6.36" height="6.37" fill="#c5c22a"/><rect x="999.56" y="256.72" width="6.36" height="6.37" fill="#dcbd29"/><rect x="1005.32" y="256.72" width="6.36" height="6.37" fill="#e6bb2d"/><rect x="1011.08" y="256.72" width="6.36" height="6.37" fill="#dcbd29"/><rect x="1016.85" y="256.72" width="6.36" height="6.37" fill="#c5c22a"/><rect x="1022.61" y="256.72" width="6.36" height="6.37" fill="#9dc943"/><rect x="1028.37" y="256.72" width="6.36" height="6.37" fill="#81cc59"/><rect x="1034.13" y="256.72" width="6.36" height="6.37" fill="#81cc59"/><rect x="1039.90" y="256.72" width="6.36" height="6.37" fill="#9dc943"/><rect x="1045.66" y="256.72" width="6.36" height="6.37" fill="#b9c431"/><rect x="1051.42" y="256.72" width="6.36" height="6.37" fill="#d1bf27"/><rect x="1057.18" y="256.72" width="6.36" height="6.37" fill="#c5c22a"/><rect x="1062.95" y="256.72" width="6.36" height="6.37" fill="#9dc943"/><rect x="1068.71" y="256.72" width="6.36" height="6.37" fill="#8fcb4e"/><rect x="1074.47" y="256.72" width="6.36" height="6.37" fill="#8fcb4e"/><rect x="1080.24" y="256.72" width="6.36" height="6.37" fill="#abc739"/><rect x="1086.00" y="256.72" width="6.36" height="6.37" fill="#c5c22a"/><rect x="1091.76" y="256.72" width="6.36" height="6.37" fill="#c5c22a"/><rect x="1097.52" y="256.72" width="6.36" height="6.37" fill="#abc739"/><rect x="1103.29" y="256.72" width="6.36" height="6.37" fill="#8fcb4e"/><rect x="1109.05" y="256.72" width="6.36" height="6.37" fill="#64cd6f"/><rect x="1114.81" y="256.72" width="6.36" height="6.37" fill="#4acb84"/><rect x="1120.57" y="256.72" width="6.36" height="6.37" fill="#4acb84"/><rect x="1126.34" y="256.72" width="6.36" height="6.37" fill="#4acb84"/><rect x="838.20" y="262.49" width="6.36" height="6.37" fill="#19bfb6"/><rect x="843.96" y="262.49" width="6.36" height="6.37" fill="#19bfb6"/><rect x="849.73" y="262.49" width="6.36" height="6.37" fill="#02bac3"/><rect x="855.49" y="262.49" width="6.36" height="6.37" fill="#0bbdbd"/><rect x="861.25" y="262.49" width="6.36" height="6.37" fill="#24c1ae"/><rect x="867.01" y="262.49" width="6.36" height="6.37" fill="#31c69f"/><rect x="872.78" y="262.49" width="6.36" height="6.37" fill="#4acb84"/><rect x="878.54" y="262.49" width="6.36" height="6.37" fill="#64cd6f"/><rect x="884.30" y="262.49" width="6.36" height="6.37" fill="#72cd64"/><rect x="890.06" y="262.49" width="6.36" height="6.37" fill="#72cd64"/><rect x="895.83" y="262.49" width="6.36" height="6.37" fill="#64cd6f"/><rect x="901.59" y="262.49" width="6.36" height="6.37" fill="#3fca8e"/><rect x="907.35" y="262.49" width="6.36" height="6.37" fill="#2cc4a7"/><rect x="913.12" y="262.49" width="6.36" height="6.37" fill="#0bbdbd"/><rect x="918.88" y="262.49" width="6.36" height="6.37" fill="#0bbdbd"/><rect x="924.64" y="262.49" width="6.36" height="6.37" fill="#2cc4a7"/><rect x="930.40" y="262.49" width="6.36" height="6.37" fill="#3fca8e"/><rect x="936.17" y="262.49" width="6.36" height="6.37" fill="#64cd6f"/><rect x="941.93" y="262.49" width="6.36" height="6.37" fill="#72cd64"/><rect x="947.69" y="262.49" width="6.36" height="6.37" fill="#81cc59"/><rect x="953.45" y="262.49" width="6.36" height="6.37" fill="#8fcb4e"/><rect x="959.22" y="262.49" width="6.36" height="6.37" fill="#81cc59"/><rect x="964.98" y="262.49" width="6.36" height="6.37" fill="#72cd64"/><rect x="970.74" y="262.49" width="6.36" height="6.37" fill="#64cd6f"/><rect x="976.51" y="262.49" width="6.36" height="6.37" fill="#64cd6f"/><rect x="982.27" y="262.49" width="6.36" height="6.37" fill="#72cd64"/><rect x="988.03" y="262.49" width="6.36" height="6.37" fill="#8fcb4e"/><rect x="993.79" y="262.49" width="6.36" height="6.37" fill="#b9c431"/><rect x="999.56" y="262.49" width="6.36" height="6.37" fill="#d1bf27"/><rect x="1005.32" y="262.49" width="6.36" height="6.37" fill="#d1bf27"/><rect x="1011.08" y="262.49" width="6.36" height="6.37" fill="#c5c22a"/><rect x="1016.85" y="262.49" width="6.36" height="6.37" fill="#abc739"/><rect x="1022.61" y="262.49" width="6.36" height="6.37" fill="#8fcb4e"/><rect x="1028.37" y="262.49" width="6.36" height="6.37" fill="#64cd6f"/><rect x="1034.13" y="262.49" width="6.36" height="6.37" fill="#57cc7a"/><rect x="1039.90" y="262.49" width="6.36" height="6.37" fill="#72cd64"/><rect x="1045.66" y="262.49" width="6.36" height="6.37" fill="#9dc943"/><rect x="1051.42" y="262.49" width="6.36" height="6.37" fill="#abc739"/><rect x="1057.18" y="262.49" width="6.36" height="6.37" fill="#9dc943"/><rect x="1062.95" y="262.49" width="6.36" height="6.37" fill="#8fcb4e"/><rect x="1068.71" y="262.49" width="6.36" height="6.37" fill="#72cd64"/><rect x="1074.47" y="262.49" width="6.36" height="6.37" fill="#81cc59"/><rect x="1080.24" y="262.49" width="6.36" height="6.37" fill="#8fcb4e"/><rect x="1086.00" y="262.49" width="6.36" height="6.37" fill="#9dc943"/><rect x="1091.76" y="262.49" width="6.36" height="6.37" fill="#8fcb4e"/><rect x="1097.52" y="262.49" width="6.36" height="6.37" fill="#81cc59"/><rect x="1103.29" y="262.49" width="6.36" height="6.37" fill="#57cc7a"/><rect x="1109.05" y="262.49" width="6.36" height="6.37" fill="#37c897"/><rect x="1114.81" y="262.49" width="6.36" height="6.37" fill="#31c69f"/><rect x="1120.57" y="262.49" width="6.36" height="6.37" fill="#3fca8e"/><rect x="1126.34" y="262.49" width="6.36" height="6.37" fill="#3fca8e"/><rect x="838.20" y="268.26" width="6.36" height="6.37" fill="#31c69f"/><rect x="843.96" y="268.26" width="6.36" height="6.37" fill="#31c69f"/><rect x="849.73" y="268.26" width="6.36" height="6.37" fill="#0bbdbd"/><rect x="855.49" y="268.26" width="6.36" height="6.37" fill="#02bac3"/><rect x="861.25" y="268.26" width="6.36" height="6.37" fill="#24c1ae"/><rect x="867.01" y="268.26" width="6.36" height="6.37" fill="#37c897"/><rect x="872.78" y="268.26" width="6.36" height="6.37" fill="#57cc7a"/><rect x="878.54" y="268.26" width="6.36" height="6.37" fill="#72cd64"/><rect x="884.30" y="268.26" width="6.36" height="6.37" fill="#81cc59"/><rect x="890.06" y="268.26" width="6.36" height="6.37" fill="#81cc59"/><rect x="895.83" y="268.26" width="6.36" height="6.37" fill="#64cd6f"/><rect x="901.59" y="268.26" width="6.36" height="6.37" fill="#3fca8e"/><rect x="907.35" y="268.26" width="6.36" height="6.37" fill="#24c1ae"/><rect x="913.12" y="268.26" width="6.36" height="6.37" fill="#02bac3"/><rect x="918.88" y="268.26" width="6.36" height="6.37" fill="#0bbdbd"/><rect x="924.64" y="268.26" width="6.36" height="6.37" fill="#31c69f"/><rect x="930.40" y="268.26" width="6.36" height="6.37" fill="#57cc7a"/><rect x="936.17" y="268.26" width="6.36" height="6.37" fill="#72cd64"/><rect x="941.93" y="268.26" width="6.36" height="6.37" fill="#8fcb4e"/><rect x="947.69" y="268.26" width="6.36" height="6.37" fill="#9dc943"/><rect x="953.45" y="268.26" width="6.36" height="6.37" fill="#9dc943"/><rect x="959.22" y="268.26" width="6.36" height="6.37" fill="#8fcb4e"/><rect x="964.98" y="268.26" width="6.36" height="6.37" fill="#72cd64"/><rect x="970.74" y="268.26" width="6.36" height="6.37" fill="#64cd6f"/><rect x="976.51" y="268.26" width="6.36" height="6.37" fill="#57cc7a"/><rect x="982.27" y="268.26" width="6.36" height="6.37" fill="#57cc7a"/><rect x="988.03" y="268.26" width="6.36" height="6.37" fill="#81cc59"/><rect x="993.79" y="268.26" width="6.36" height="6.37" fill="#9dc943"/><rect x="999.56" y="268.26" width="6.36" height="6.37" fill="#c5c22a"/><rect x="1005.32" y="268.26" width="6.36" height="6.37" fill="#c5c22a"/><rect x="1011.08" y="268.26" width="6.36" height="6.37" fill="#c5c22a"/><rect x="1016.85" y="268.26" width="6.36" height="6.37" fill="#abc739"/><rect x="1022.61" y="268.26" width="6.36" height="6.37" fill="#81cc59"/><rect x="1028.37" y="268.26" width="6.36" height="6.37" fill="#57cc7a"/><rect x="1034.13" y="268.26" width="6.36" height="6.37" fill="#3fca8e"/><rect x="1039.90" y="268.26" width="6.36" height="6.37" fill="#57cc7a"/><rect x="1045.66" y="268.26" width="6.36" height="6.37" fill="#72cd64"/><rect x="1051.42" y="268.26" width="6.36" height="6.37" fill="#81cc59"/><rect x="1057.18" y="268.26" width="6.36" height="6.37" fill="#81cc59"/><rect x="1062.95" y="268.26" width="6.36" height="6.37" fill="#81cc59"/><rect x="1068.71" y="268.26" width="6.36" height="6.37" fill="#72cd64"/><rect x="1074.47" y="268.26" width="6.36" height="6.37" fill="#81cc59"/><rect x="1080.24" y="268.26" width="6.36" height="6.37" fill="#81cc59"/><rect x="1086.00" y="268.26" width="6.36" height="6.37" fill="#81cc59"/><rect x="1091.76" y="268.26" width="6.36" height="6.37" fill="#72cd64"/><rect x="1097.52" y="268.26" width="6.36" height="6.37" fill="#57cc7a"/><rect x="1103.29" y="268.26" width="6.36" height="6.37" fill="#37c897"/><rect x="1109.05" y="268.26" width="6.36" height="6.37" fill="#2cc4a7"/><rect x="1114.81" y="268.26" width="6.36" height="6.37" fill="#2cc4a7"/><rect x="1120.57" y="268.26" width="6.36" height="6.37" fill="#3fca8e"/><rect x="1126.34" y="268.26" width="6.36" height="6.37" fill="#3fca8e"/><rect x="838.20" y="274.04" width="6.36" height="6.37" fill="#4acb84"/><rect x="843.96" y="274.04" width="6.36" height="6.37" fill="#4acb84"/><rect x="849.73" y="274.04" width="6.36" height="6.37" fill="#24c1ae"/><rect x="855.49" y="274.04" width="6.36" height="6.37" fill="#19bfb6"/><rect x="861.25" y="274.04" width="6.36" height="6.37" fill="#24c1ae"/><rect x="867.01" y="274.04" width="6.36" height="6.37" fill="#3fca8e"/><rect x="872.78" y="274.04" width="6.36" height="6.37" fill="#64cd6f"/><rect x="878.54" y="274.04" width="6.36" height="6.37" fill="#72cd64"/><rect x="884.30" y="274.04" width="6.36" height="6.37" fill="#81cc59"/><rect x="890.06" y="274.04" width="6.36" height="6.37" fill="#81cc59"/><rect x="895.83" y="274.04" width="6.36" height="6.37" fill="#64cd6f"/><rect x="901.59" y="274.04" width="6.36" height="6.37" fill="#4acb84"/><rect x="907.35" y="274.04" width="6.36" height="6.37" fill="#31c69f"/><rect x="913.12" y="274.04" width="6.36" height="6.37" fill="#24c1ae"/><rect x="918.88" y="274.04" width="6.36" height="6.37" fill="#31c69f"/><rect x="924.64" y="274.04" width="6.36" height="6.37" fill="#4acb84"/><rect x="930.40" y="274.04" width="6.36" height="6.37" fill="#72cd64"/><rect x="936.17" y="274.04" width="6.36" height="6.37" fill="#9dc943"/><rect x="941.93" y="274.04" width="6.36" height="6.37" fill="#abc739"/><rect x="947.69" y="274.04" width="6.36" height="6.37" fill="#abc739"/><rect x="953.45" y="274.04" width="6.36" height="6.37" fill="#9dc943"/><rect x="959.22" y="274.04" width="6.36" height="6.37" fill="#8fcb4e"/><rect x="964.98" y="274.04" width="6.36" height="6.37" fill="#72cd64"/><rect x="970.74" y="274.04" width="6.36" height="6.37" fill="#57cc7a"/><rect x="976.51" y="274.04" width="6.36" height="6.37" fill="#3fca8e"/><rect x="982.27" y="274.04" width="6.36" height="6.37" fill="#4acb84"/><rect x="988.03" y="274.04" width="6.36" height="6.37" fill="#64cd6f"/><rect x="993.79" y="274.04" width="6.36" height="6.37" fill="#8fcb4e"/><rect x="999.56" y="274.04" width="6.36" height="6.37" fill="#abc739"/><rect x="1005.32" y="274.04" width="6.36" height="6.37" fill="#b9c431"/><rect x="1011.08" y="274.04" width="6.36" height="6.37" fill="#b9c431"/><rect x="1016.85" y="274.04" width="6.36" height="6.37" fill="#abc739"/><rect x="1022.61" y="274.04" width="6.36" height="6.37" fill="#81cc59"/><rect x="1028.37" y="274.04" width="6.36" height="6.37" fill="#64cd6f"/><rect x="1034.13" y="274.04" width="6.36" height="6.37" fill="#3fca8e"/><rect x="1039.90" y="274.04" width="6.36" height="6.37" fill="#3fca8e"/><rect x="1045.66" y="274.04" width="6.36" height="6.37" fill="#4acb84"/><rect x="1051.42" y="274.04" width="6.36" height="6.37" fill="#64cd6f"/><rect x="1057.18" y="274.04" width="6.36" height="6.37" fill="#72cd64"/><rect x="1062.95" y="274.04" width="6.36" height="6.37" fill="#72cd64"/><rect x="1068.71" y="274.04" width="6.36" height="6.37" fill="#81cc59"/><rect x="1074.47" y="274.04" width="6.36" height="6.37" fill="#81cc59"/><rect x="1080.24" y="274.04" width="6.36" height="6.37" fill="#81cc59"/><rect x="1086.00" y="274.04" width="6.36" height="6.37" fill="#81cc59"/><rect x="1091.76" y="274.04" width="6.36" height="6.37" fill="#64cd6f"/><rect x="1097.52" y="274.04" width="6.36" height="6.37" fill="#4acb84"/><rect x="1103.29" y="274.04" width="6.36" height="6.37" fill="#37c897"/><rect x="1109.05" y="274.04" width="6.36" height="6.37" fill="#2cc4a7"/><rect x="1114.81" y="274.04" width="6.36" height="6.37" fill="#31c69f"/><rect x="1120.57" y="274.04" width="6.36" height="6.37" fill="#4acb84"/><rect x="1126.34" y="274.04" width="6.36" height="6.37" fill="#4acb84"/><rect x="838.20" y="279.81" width="6.36" height="6.37" fill="#72cd64"/><rect x="843.96" y="279.81" width="6.36" height="6.37" fill="#72cd64"/><rect x="849.73" y="279.81" width="6.36" height="6.37" fill="#37c897"/><rect x="855.49" y="279.81" width="6.36" height="6.37" fill="#31c69f"/><rect x="861.25" y="279.81" width="6.36" height="6.37" fill="#37c897"/><rect x="867.01" y="279.81" width="6.36" height="6.37" fill="#4acb84"/><rect x="872.78" y="279.81" width="6.36" height="6.37" fill="#64cd6f"/><rect x="878.54" y="279.81" width="6.36" height="6.37" fill="#72cd64"/><rect x="884.30" y="279.81" width="6.36" height="6.37" fill="#72cd64"/><rect x="890.06" y="279.81" width="6.36" height="6.37" fill="#72cd64"/><rect x="895.83" y="279.81" width="6.36" height="6.37" fill="#64cd6f"/><rect x="901.59" y="279.81" width="6.36" height="6.37" fill="#57cc7a"/><rect x="907.35" y="279.81" width="6.36" height="6.37" fill="#4acb84"/><rect x="913.12" y="279.81" width="6.36" height="6.37" fill="#57cc7a"/><rect x="918.88" y="279.81" width="6.36" height="6.37" fill="#64cd6f"/><rect x="924.64" y="279.81" width="6.36" height="6.37" fill="#8fcb4e"/><rect x="930.40" y="279.81" width="6.36" height="6.37" fill="#abc739"/><rect x="936.17" y="279.81" width="6.36" height="6.37" fill="#b9c431"/><rect x="941.93" y="279.81" width="6.36" height="6.37" fill="#c5c22a"/><rect x="947.69" y="279.81" width="6.36" height="6.37" fill="#b9c431"/><rect x="953.45" y="279.81" width="6.36" height="6.37" fill="#abc739"/><rect x="959.22" y="279.81" width="6.36" height="6.37" fill="#81cc59"/><rect x="964.98" y="279.81" width="6.36" height="6.37" fill="#64cd6f"/><rect x="970.74" y="279.81" width="6.36" height="6.37" fill="#3fca8e"/><rect x="976.51" y="279.81" width="6.36" height="6.37" fill="#3fca8e"/><rect x="982.27" y="279.81" width="6.36" height="6.37" fill="#4acb84"/><rect x="988.03" y="279.81" width="6.36" height="6.37" fill="#57cc7a"/><rect x="993.79" y="279.81" width="6.36" height="6.37" fill="#72cd64"/><rect x="999.56" y="279.81" width="6.36" height="6.37" fill="#8fcb4e"/><rect x="1005.32" y="279.81" width="6.36" height="6.37" fill="#abc739"/><rect x="1011.08" y="279.81" width="6.36" height="6.37" fill="#abc739"/><rect x="1016.85" y="279.81" width="6.36" height="6.37" fill="#abc739"/><rect x="1022.61" y="279.81" width="6.36" height="6.37" fill="#8fcb4e"/><rect x="1028.37" y="279.81" width="6.36" height="6.37" fill="#64cd6f"/><rect x="1034.13" y="279.81" width="6.36" height="6.37" fill="#3fca8e"/><rect x="1039.90" y="279.81" width="6.36" height="6.37" fill="#37c897"/><rect x="1045.66" y="279.81" width="6.36" height="6.37" fill="#3fca8e"/><rect x="1051.42" y="279.81" width="6.36" height="6.37" fill="#4acb84"/><rect x="1057.18" y="279.81" width="6.36" height="6.37" fill="#64cd6f"/><rect x="1062.95" y="279.81" width="6.36" height="6.37" fill="#72cd64"/><rect x="1068.71" y="279.81" width="6.36" height="6.37" fill="#81cc59"/><rect x="1074.47" y="279.81" width="6.36" height="6.37" fill="#8fcb4e"/><rect x="1080.24" y="279.81" width="6.36" height="6.37" fill="#8fcb4e"/><rect x="1086.00" y="279.81" width="6.36" height="6.37" fill="#8fcb4e"/><rect x="1091.76" y="279.81" width="6.36" height="6.37" fill="#72cd64"/><rect x="1097.52" y="279.81" width="6.36" height="6.37" fill="#57cc7a"/><rect x="1103.29" y="279.81" width="6.36" height="6.37" fill="#3fca8e"/><rect x="1109.05" y="279.81" width="6.36" height="6.37" fill="#31c69f"/><rect x="1114.81" y="279.81" width="6.36" height="6.37" fill="#37c897"/><rect x="1120.57" y="279.81" width="6.36" height="6.37" fill="#57cc7a"/><rect x="1126.34" y="279.81" width="6.36" height="6.37" fill="#57cc7a"/><rect x="838.20" y="285.59" width="6.36" height="6.37" fill="#8fcb4e"/><rect x="843.96" y="285.59" width="6.36" height="6.37" fill="#8fcb4e"/><rect x="849.73" y="285.59" width="6.36" height="6.37" fill="#64cd6f"/><rect x="855.49" y="285.59" width="6.36" height="6.37" fill="#4acb84"/><rect x="861.25" y="285.59" width="6.36" height="6.37" fill="#4acb84"/><rect x="867.01" y="285.59" width="6.36" height="6.37" fill="#4acb84"/><rect x="872.78" y="285.59" width="6.36" height="6.37" fill="#57cc7a"/><rect x="878.54" y="285.59" width="6.36" height="6.37" fill="#57cc7a"/><rect x="884.30" y="285.59" width="6.36" height="6.37" fill="#57cc7a"/><rect x="890.06" y="285.59" width="6.36" height="6.37" fill="#57cc7a"/><rect x="895.83" y="285.59" width="6.36" height="6.37" fill="#57cc7a"/><rect x="901.59" y="285.59" width="6.36" height="6.37" fill="#64cd6f"/><rect x="907.35" y="285.59" width="6.36" height="6.37" fill="#81cc59"/><rect x="913.12" y="285.59" width="6.36" height="6.37" fill="#8fcb4e"/><rect x="918.88" y="285.59" width="6.36" height="6.37" fill="#abc739"/><rect x="924.64" y="285.59" width="6.36" height="6.37" fill="#c5c22a"/><rect x="930.40" y="285.59" width="6.36" height="6.37" fill="#d1bf27"/><rect x="936.17" y="285.59" width="6.36" height="6.37" fill="#dcbd29"/><rect x="941.93" y="285.59" width="6.36" height="6.37" fill="#dcbd29"/><rect x="947.69" y="285.59" width="6.36" height="6.37" fill="#c5c22a"/><rect x="953.45" y="285.59" width="6.36" height="6.37" fill="#9dc943"/><rect x="959.22" y="285.59" width="6.36" height="6.37" fill="#72cd64"/><rect x="964.98" y="285.59" width="6.36" height="6.37" fill="#4acb84"/><rect x="970.74" y="285.59" width="6.36" height="6.37" fill="#3fca8e"/><rect x="976.51" y="285.59" width="6.36" height="6.37" fill="#3fca8e"/><rect x="982.27" y="285.59" width="6.36" height="6.37" fill="#4acb84"/><rect x="988.03" y="285.59" width="6.36" height="6.37" fill="#57cc7a"/><rect x="993.79" y="285.59" width="6.36" height="6.37" fill="#64cd6f"/><rect x="999.56" y="285.59" width="6.36" height="6.37" fill="#72cd64"/><rect x="1005.32" y="285.59" width="6.36" height="6.37" fill="#8fcb4e"/><rect x="1011.08" y="285.59" width="6.36" height="6.37" fill="#9dc943"/><rect x="1016.85" y="285.59" width="6.36" height="6.37" fill="#9dc943"/><rect x="1022.61" y="285.59" width="6.36" height="6.37" fill="#8fcb4e"/><rect x="1028.37" y="285.59" width="6.36" height="6.37" fill="#64cd6f"/><rect x="1034.13" y="285.59" width="6.36" height="6.37" fill="#4acb84"/><rect x="1039.90" y="285.59" width="6.36" height="6.37" fill="#37c897"/><rect x="1045.66" y="285.59" width="6.36" height="6.37" fill="#3fca8e"/><rect x="1051.42" y="285.59" width="6.36" height="6.37" fill="#4acb84"/><rect x="1057.18" y="285.59" width="6.36" height="6.37" fill="#57cc7a"/><rect x="1062.95" y="285.59" width="6.36" height="6.37" fill="#64cd6f"/><rect x="1068.71" y="285.59" width="6.36" height="6.37" fill="#81cc59"/><rect x="1074.47" y="285.59" width="6.36" height="6.37" fill="#8fcb4e"/><rect x="1080.24" y="285.59" width="6.36" height="6.37" fill="#9dc943"/><rect x="1086.00" y="285.59" width="6.36" height="6.37" fill="#9dc943"/><rect x="1091.76" y="285.59" width="6.36" height="6.37" fill="#8fcb4e"/><rect x="1097.52" y="285.59" width="6.36" height="6.37" fill="#72cd64"/><rect x="1103.29" y="285.59" width="6.36" height="6.37" fill="#57cc7a"/><rect x="1109.05" y="285.59" width="6.36" height="6.37" fill="#3fca8e"/><rect x="1114.81" y="285.59" width="6.36" height="6.37" fill="#3fca8e"/><rect x="1120.57" y="285.59" width="6.36" height="6.37" fill="#64cd6f"/><rect x="1126.34" y="285.59" width="6.36" height="6.37" fill="#64cd6f"/><rect x="838.20" y="291.36" width="6.36" height="6.37" fill="#9dc943"/><rect x="843.96" y="291.36" width="6.36" height="6.37" fill="#9dc943"/><rect x="849.73" y="291.36" width="6.36" height="6.37" fill="#72cd64"/><rect x="855.49" y="291.36" width="6.36" height="6.37" fill="#64cd6f"/><rect x="861.25" y="291.36" width="6.36" height="6.37" fill="#57cc7a"/><rect x="867.01" y="291.36" width="6.36" height="6.37" fill="#4acb84"/><rect x="872.78" y="291.36" width="6.36" height="6.37" fill="#4acb84"/><rect x="878.54" y="291.36" width="6.36" height="6.37" fill="#4acb84"/><rect x="884.30" y="291.36" width="6.36" height="6.37" fill="#3fca8e"/><rect x="890.06" y="291.36" width="6.36" height="6.37" fill="#3fca8e"/><rect x="895.83" y="291.36" width="6.36" height="6.37" fill="#4acb84"/><rect x="901.59" y="291.36" width="6.36" height="6.37" fill="#72cd64"/><rect x="907.35" y="291.36" width="6.36" height="6.37" fill="#9dc943"/><rect x="913.12" y="291.36" width="6.36" height="6.37" fill="#c5c22a"/><rect x="918.88" y="291.36" width="6.36" height="6.37" fill="#e6bb2d"/><rect x="924.64" y="291.36" width="6.36" height="6.37" fill="#f8ba3d"/><rect x="930.40" y="291.36" width="6.36" height="6.37" fill="#f8ba3d"/><rect x="936.17" y="291.36" width="6.36" height="6.37" fill="#f8ba3d"/><rect x="941.93" y="291.36" width="6.36" height="6.37" fill="#e6bb2d"/><rect x="947.69" y="291.36" width="6.36" height="6.37" fill="#c5c22a"/><rect x="953.45" y="291.36" width="6.36" height="6.37" fill="#9dc943"/><rect x="959.22" y="291.36" width="6.36" height="6.37" fill="#64cd6f"/><rect x="964.98" y="291.36" width="6.36" height="6.37" fill="#3fca8e"/><rect x="970.74" y="291.36" width="6.36" height="6.37" fill="#37c897"/><rect x="976.51" y="291.36" width="6.36" height="6.37" fill="#3fca8e"/><rect x="982.27" y="291.36" width="6.36" height="6.37" fill="#57cc7a"/><rect x="988.03" y="291.36" width="6.36" height="6.37" fill="#57cc7a"/><rect x="993.79" y="291.36" width="6.36" height="6.37" fill="#57cc7a"/><rect x="999.56" y="291.36" width="6.36" height="6.37" fill="#64cd6f"/><rect x="1005.32" y="291.36" width="6.36" height="6.37" fill="#81cc59"/><rect x="1011.08" y="291.36" width="6.36" height="6.37" fill="#8fcb4e"/><rect x="1016.85" y="291.36" width="6.36" height="6.37" fill="#9dc943"/><rect x="1022.61" y="291.36" width="6.36" height="6.37" fill="#8fcb4e"/><rect x="1028.37" y="291.36" width="6.36" height="6.37" fill="#72cd64"/><rect x="1034.13" y="291.36" width="6.36" height="6.37" fill="#4acb84"/><rect x="1039.90" y="291.36" width="6.36" height="6.37" fill="#3fca8e"/><rect x="1045.66" y="291.36" width="6.36" height="6.37" fill="#3fca8e"/><rect x="1051.42" y="291.36" width="6.36" height="6.37" fill="#4acb84"/><rect x="1057.18" y="291.36" width="6.36" height="6.37" fill="#57cc7a"/><rect x="1062.95" y="291.36" width="6.36" height="6.37" fill="#64cd6f"/><rect x="1068.71" y="291.36" width="6.36" height="6.37" fill="#81cc59"/><rect x="1074.47" y="291.36" width="6.36" height="6.37" fill="#9dc943"/><rect x="1080.24" y="291.36" width="6.36" height="6.37" fill="#abc739"/><rect x="1086.00" y="291.36" width="6.36" height="6.37" fill="#b9c431"/><rect x="1091.76" y="291.36" width="6.36" height="6.37" fill="#abc739"/><rect x="1097.52" y="291.36" width="6.36" height="6.37" fill="#8fcb4e"/><rect x="1103.29" y="291.36" width="6.36" height="6.37" fill="#72cd64"/><rect x="1109.05" y="291.36" width="6.36" height="6.37" fill="#4acb84"/><rect x="1114.81" y="291.36" width="6.36" height="6.37" fill="#3fca8e"/><rect x="1120.57" y="291.36" width="6.36" height="6.37" fill="#64cd6f"/><rect x="1126.34" y="291.36" width="6.36" height="6.37" fill="#64cd6f"/><rect x="838.20" y="297.14" width="6.36" height="6.37" fill="#8fcb4e"/><rect x="843.96" y="297.14" width="6.36" height="6.37" fill="#8fcb4e"/><rect x="849.73" y="297.14" width="6.36" height="6.37" fill="#72cd64"/><rect x="855.49" y="297.14" width="6.36" height="6.37" fill="#57cc7a"/><rect x="861.25" y="297.14" width="6.36" height="6.37" fill="#4acb84"/><rect x="867.01" y="297.14" width="6.36" height="6.37" fill="#3fca8e"/><rect x="872.78" y="297.14" width="6.36" height="6.37" fill="#37c897"/><rect x="878.54" y="297.14" width="6.36" height="6.37" fill="#37c897"/><rect x="884.30" y="297.14" width="6.36" height="6.37" fill="#37c897"/><rect x="890.06" y="297.14" width="6.36" height="6.37" fill="#3fca8e"/><rect x="895.83" y="297.14" width="6.36" height="6.37" fill="#57cc7a"/><rect x="901.59" y="297.14" width="6.36" height="6.37" fill="#81cc59"/><rect x="907.35" y="297.14" width="6.36" height="6.37" fill="#b9c431"/><rect x="913.12" y="297.14" width="6.36" height="6.37" fill="#e6bb2d"/><rect x="918.88" y="297.14" width="6.36" height="6.37" fill="#fec338"/><rect x="924.64" y="297.14" width="6.36" height="6.37" fill="#fec934"/><rect x="930.40" y="297.14" width="6.36" height="6.37" fill="#fec934"/><rect x="936.17" y="297.14" width="6.36" height="6.37" fill="#febe3c"/><rect x="941.93" y="297.14" width="6.36" height="6.37" fill="#dcbd29"/><rect x="947.69" y="297.14" width="6.36" height="6.37" fill="#b9c431"/><rect x="953.45" y="297.14" width="6.36" height="6.37" fill="#81cc59"/><rect x="959.22" y="297.14" width="6.36" height="6.37" fill="#4acb84"/><rect x="964.98" y="297.14" width="6.36" height="6.37" fill="#31c69f"/><rect x="970.74" y="297.14" width="6.36" height="6.37" fill="#37c897"/><rect x="976.51" y="297.14" width="6.36" height="6.37" fill="#4acb84"/><rect x="982.27" y="297.14" width="6.36" height="6.37" fill="#57cc7a"/><rect x="988.03" y="297.14" width="6.36" height="6.37" fill="#64cd6f"/><rect x="993.79" y="297.14" width="6.36" height="6.37" fill="#64cd6f"/><rect x="999.56" y="297.14" width="6.36" height="6.37" fill="#64cd6f"/><rect x="1005.32" y="297.14" width="6.36" height="6.37" fill="#72cd64"/><rect x="1011.08" y="297.14" width="6.36" height="6.37" fill="#8fcb4e"/><rect x="1016.85" y="297.14" width="6.36" height="6.37" fill="#8fcb4e"/><rect x="1022.61" y="297.14" width="6.36" height="6.37" fill="#81cc59"/><rect x="1028.37" y="297.14" width="6.36" height="6.37" fill="#72cd64"/><rect x="1034.13" y="297.14" width="6.36" height="6.37" fill="#4acb84"/><rect x="1039.90" y="297.14" width="6.36" height="6.37" fill="#4acb84"/><rect x="1045.66" y="297.14" width="6.36" height="6.37" fill="#4acb84"/><rect x="1051.42" y="297.14" width="6.36" height="6.37" fill="#57cc7a"/><rect x="1057.18" y="297.14" width="6.36" height="6.37" fill="#64cd6f"/><rect x="1062.95" y="297.14" width="6.36" height="6.37" fill="#72cd64"/><rect x="1068.71" y="297.14" width="6.36" height="6.37" fill="#8fcb4e"/><rect x="1074.47" y="297.14" width="6.36" height="6.37" fill="#abc739"/><rect x="1080.24" y="297.14" width="6.36" height="6.37" fill="#c5c22a"/><rect x="1086.00" y="297.14" width="6.36" height="6.37" fill="#d1bf27"/><rect x="1091.76" y="297.14" width="6.36" height="6.37" fill="#c5c22a"/><rect x="1097.52" y="297.14" width="6.36" height="6.37" fill="#abc739"/><rect x="1103.29" y="297.14" width="6.36" height="6.37" fill="#81cc59"/><rect x="1109.05" y="297.14" width="6.36" height="6.37" fill="#64cd6f"/><rect x="1114.81" y="297.14" width="6.36" height="6.37" fill="#4acb84"/><rect x="1120.57" y="297.14" width="6.36" height="6.37" fill="#57cc7a"/><rect x="1126.34" y="297.14" width="6.36" height="6.37" fill="#57cc7a"/><rect x="838.20" y="302.91" width="6.36" height="6.37" fill="#81cc59"/><rect x="843.96" y="302.91" width="6.36" height="6.37" fill="#81cc59"/><rect x="849.73" y="302.91" width="6.36" height="6.37" fill="#64cd6f"/><rect x="855.49" y="302.91" width="6.36" height="6.37" fill="#4acb84"/><rect x="861.25" y="302.91" width="6.36" height="6.37" fill="#37c897"/><rect x="867.01" y="302.91" width="6.36" height="6.37" fill="#31c69f"/><rect x="872.78" y="302.91" width="6.36" height="6.37" fill="#2cc4a7"/><rect x="878.54" y="302.91" width="6.36" height="6.37" fill="#31c69f"/><rect x="884.30" y="302.91" width="6.36" height="6.37" fill="#31c69f"/><rect x="890.06" y="302.91" width="6.36" height="6.37" fill="#3fca8e"/><rect x="895.83" y="302.91" width="6.36" height="6.37" fill="#64cd6f"/><rect x="901.59" y="302.91" width="6.36" height="6.37" fill="#8fcb4e"/><rect x="907.35" y="302.91" width="6.36" height="6.37" fill="#c5c22a"/><rect x="913.12" y="302.91" width="6.36" height="6.37" fill="#f8ba3d"/><rect x="918.88" y="302.91" width="6.36" height="6.37" fill="#fccf30"/><rect x="924.64" y="302.91" width="6.36" height="6.37" fill="#fad62d"/><rect x="930.40" y="302.91" width="6.36" height="6.37" fill="#fccf30"/><rect x="936.17" y="302.91" width="6.36" height="6.37" fill="#febe3c"/><rect x="941.93" y="302.91" width="6.36" height="6.37" fill="#d1bf27"/><rect x="947.69" y="302.91" width="6.36" height="6.37" fill="#9dc943"/><rect x="953.45" y="302.91" width="6.36" height="6.37" fill="#64cd6f"/><rect x="959.22" y="302.91" width="6.36" height="6.37" fill="#37c897"/><rect x="964.98" y="302.91" width="6.36" height="6.37" fill="#2cc4a7"/><rect x="970.74" y="302.91" width="6.36" height="6.37" fill="#37c897"/><rect x="976.51" y="302.91" width="6.36" height="6.37" fill="#57cc7a"/><rect x="982.27" y="302.91" width="6.36" height="6.37" fill="#64cd6f"/><rect x="988.03" y="302.91" width="6.36" height="6.37" fill="#72cd64"/><rect x="993.79" y="302.91" width="6.36" height="6.37" fill="#72cd64"/><rect x="999.56" y="302.91" width="6.36" height="6.37" fill="#72cd64"/><rect x="1005.32" y="302.91" width="6.36" height="6.37" fill="#81cc59"/><rect x="1011.08" y="302.91" width="6.36" height="6.37" fill="#8fcb4e"/><rect x="1016.85" y="302.91" width="6.36" height="6.37" fill="#8fcb4e"/><rect x="1022.61" y="302.91" width="6.36" height="6.37" fill="#81cc59"/><rect x="1028.37" y="302.91" width="6.36" height="6.37" fill="#72cd64"/><rect x="1034.13" y="302.91" width="6.36" height="6.37" fill="#57cc7a"/><rect x="1039.90" y="302.91" width="6.36" height="6.37" fill="#57cc7a"/><rect x="1045.66" y="302.91" width="6.36" height="6.37" fill="#57cc7a"/><rect x="1051.42" y="302.91" width="6.36" height="6.37" fill="#64cd6f"/><rect x="1057.18" y="302.91" width="6.36" height="6.37" fill="#72cd64"/><rect x="1062.95" y="302.91" width="6.36" height="6.37" fill="#81cc59"/><rect x="1068.71" y="302.91" width="6.36" height="6.37" fill="#9dc943"/><rect x="1074.47" y="302.91" width="6.36" height="6.37" fill="#b9c431"/><rect x="1080.24" y="302.91" width="6.36" height="6.37" fill="#dcbd29"/><rect x="1086.00" y="302.91" width="6.36" height="6.37" fill="#e6bb2d"/><rect x="1091.76" y="302.91" width="6.36" height="6.37" fill="#dcbd29"/><rect x="1097.52" y="302.91" width="6.36" height="6.37" fill="#c5c22a"/><rect x="1103.29" y="302.91" width="6.36" height="6.37" fill="#9dc943"/><rect x="1109.05" y="302.91" width="6.36" height="6.37" fill="#72cd64"/><rect x="1114.81" y="302.91" width="6.36" height="6.37" fill="#4acb84"/><rect x="1120.57" y="302.91" width="6.36" height="6.37" fill="#3fca8e"/><rect x="1126.34" y="302.91" width="6.36" height="6.37" fill="#3fca8e"/><rect x="838.20" y="308.69" width="6.36" height="6.37" fill="#64cd6f"/><rect x="843.96" y="308.69" width="6.36" height="6.37" fill="#64cd6f"/><rect x="849.73" y="308.69" width="6.36" height="6.37" fill="#3fca8e"/><rect x="855.49" y="308.69" width="6.36" height="6.37" fill="#31c69f"/><rect x="861.25" y="308.69" width="6.36" height="6.37" fill="#24c1ae"/><rect x="867.01" y="308.69" width="6.36" height="6.37" fill="#19bfb6"/><rect x="872.78" y="308.69" width="6.36" height="6.37" fill="#19bfb6"/><rect x="878.54" y="308.69" width="6.36" height="6.37" fill="#24c1ae"/><rect x="884.30" y="308.69" width="6.36" height="6.37" fill="#31c69f"/><rect x="890.06" y="308.69" width="6.36" height="6.37" fill="#4acb84"/><rect x="895.83" y="308.69" width="6.36" height="6.37" fill="#72cd64"/><rect x="901.59" y="308.69" width="6.36" height="6.37" fill="#9dc943"/><rect x="907.35" y="308.69" width="6.36" height="6.37" fill="#d1bf27"/><rect x="913.12" y="308.69" width="6.36" height="6.37" fill="#febe3c"/><rect x="918.88" y="308.69" width="6.36" height="6.37" fill="#fccf30"/><rect x="924.64" y="308.69" width="6.36" height="6.37" fill="#f7dc2a"/><rect x="930.40" y="308.69" width="6.36" height="6.37" fill="#fad62d"/><rect x="936.17" y="308.69" width="6.36" height="6.37" fill="#febe3c"/><rect x="941.93" y="308.69" width="6.36" height="6.37" fill="#c5c22a"/><rect x="947.69" y="308.69" width="6.36" height="6.37" fill="#8fcb4e"/><rect x="953.45" y="308.69" width="6.36" height="6.37" fill="#4acb84"/><rect x="959.22" y="308.69" width="6.36" height="6.37" fill="#31c69f"/><rect x="964.98" y="308.69" width="6.36" height="6.37" fill="#31c69f"/><rect x="970.74" y="308.69" width="6.36" height="6.37" fill="#3fca8e"/><rect x="976.51" y="308.69" width="6.36" height="6.37" fill="#64cd6f"/><rect x="982.27" y="308.69" width="6.36" height="6.37" fill="#72cd64"/><rect x="988.03" y="308.69" width="6.36" height="6.37" fill="#81cc59"/><rect x="993.79" y="308.69" width="6.36" height="6.37" fill="#81cc59"/><rect x="999.56" y="308.69" width="6.36" height="6.37" fill="#81cc59"/><rect x="1005.32" y="308.69" width="6.36" height="6.37" fill="#81cc59"/><rect x="1011.08" y="308.69" width="6.36" height="6.37" fill="#81cc59"/><rect x="1016.85" y="308.69" width="6.36" height="6.37" fill="#81cc59"/><rect x="1022.61" y="308.69" width="6.36" height="6.37" fill="#81cc59"/><rect x="1028.37" y="308.69" width="6.36" height="6.37" fill="#81cc59"/><rect x="1034.13" y="308.69" width="6.36" height="6.37" fill="#72cd64"/><rect x="1039.90" y="308.69" width="6.36" height="6.37" fill="#72cd64"/><rect x="1045.66" y="308.69" width="6.36" height="6.37" fill="#64cd6f"/><rect x="1051.42" y="308.69" width="6.36" height="6.37" fill="#72cd64"/><rect x="1057.18" y="308.69" width="6.36" height="6.37" fill="#81cc59"/><rect x="1062.95" y="308.69" width="6.36" height="6.37" fill="#8fcb4e"/><rect x="1068.71" y="308.69" width="6.36" height="6.37" fill="#abc739"/><rect x="1074.47" y="308.69" width="6.36" height="6.37" fill="#d1bf27"/><rect x="1080.24" y="308.69" width="6.36" height="6.37" fill="#f0ba36"/><rect x="1086.00" y="308.69" width="6.36" height="6.37" fill="#f8ba3d"/><rect x="1091.76" y="308.69" width="6.36" height="6.37" fill="#f0ba36"/><rect x="1097.52" y="308.69" width="6.36" height="6.37" fill="#dcbd29"/><rect x="1103.29" y="308.69" width="6.36" height="6.37" fill="#abc739"/><rect x="1109.05" y="308.69" width="6.36" height="6.37" fill="#81cc59"/><rect x="1114.81" y="308.69" width="6.36" height="6.37" fill="#57cc7a"/><rect x="1120.57" y="308.69" width="6.36" height="6.37" fill="#3fca8e"/><rect x="1126.34" y="308.69" width="6.36" height="6.37" fill="#3fca8e"/><rect x="838.20" y="314.46" width="6.36" height="6.37" fill="#57cc7a"/><rect x="843.96" y="314.46" width="6.36" height="6.37" fill="#4acb84"/><rect x="849.73" y="314.46" width="6.36" height="6.37" fill="#31c69f"/><rect x="855.49" y="314.46" width="6.36" height="6.37" fill="#19bfb6"/><rect x="861.25" y="314.46" width="6.36" height="6.37" fill="#02bac3"/><rect x="867.01" y="314.46" width="6.36" height="6.37" fill="#01b8ca"/><rect x="872.78" y="314.46" width="6.36" height="6.37" fill="#02bac3"/><rect x="878.54" y="314.46" width="6.36" height="6.37" fill="#19bfb6"/><rect x="884.30" y="314.46" width="6.36" height="6.37" fill="#31c69f"/><rect x="890.06" y="314.46" width="6.36" height="6.37" fill="#4acb84"/><rect x="895.83" y="314.46" width="6.36" height="6.37" fill="#81cc59"/><rect x="901.59" y="314.46" width="6.36" height="6.37" fill="#abc739"/><rect x="907.35" y="314.46" width="6.36" height="6.37" fill="#dcbd29"/><rect x="913.12" y="314.46" width="6.36" height="6.37" fill="#febe3c"/><rect x="918.88" y="314.46" width="6.36" height="6.37" fill="#fad62d"/><rect x="924.64" y="314.46" width="6.36" height="6.37" fill="#f7dc2a"/><rect x="930.40" y="314.46" width="6.36" height="6.37" fill="#fad62d"/><rect x="936.17" y="314.46" width="6.36" height="6.37" fill="#febe3c"/><rect x="941.93" y="314.46" width="6.36" height="6.37" fill="#c5c22a"/><rect x="947.69" y="314.46" width="6.36" height="6.37" fill="#8fcb4e"/><rect x="953.45" y="314.46" width="6.36" height="6.37" fill="#57cc7a"/><rect x="959.22" y="314.46" width="6.36" height="6.37" fill="#3fca8e"/><rect x="964.98" y="314.46" width="6.36" height="6.37" fill="#3fca8e"/><rect x="970.74" y="314.46" width="6.36" height="6.37" fill="#64cd6f"/><rect x="976.51" y="314.46" width="6.36" height="6.37" fill="#81cc59"/><rect x="982.27" y="314.46" width="6.36" height="6.37" fill="#8fcb4e"/><rect x="988.03" y="314.46" width="6.36" height="6.37" fill="#8fcb4e"/><rect x="993.79" y="314.46" width="6.36" height="6.37" fill="#8fcb4e"/><rect x="999.56" y="314.46" width="6.36" height="6.37" fill="#81cc59"/><rect x="1005.32" y="314.46" width="6.36" height="6.37" fill="#81cc59"/><rect x="1011.08" y="314.46" width="6.36" height="6.37" fill="#81cc59"/><rect x="1016.85" y="314.46" width="6.36" height="6.37" fill="#81cc59"/><rect x="1022.61" y="314.46" width="6.36" height="6.37" fill="#8fcb4e"/><rect x="1028.37" y="314.46" width="6.36" height="6.37" fill="#9dc943"/><rect x="1034.13" y="314.46" width="6.36" height="6.37" fill="#9dc943"/><rect x="1039.90" y="314.46" width="6.36" height="6.37" fill="#8fcb4e"/><rect x="1045.66" y="314.46" width="6.36" height="6.37" fill="#81cc59"/><rect x="1051.42" y="314.46" width="6.36" height="6.37" fill="#81cc59"/><rect x="1057.18" y="314.46" width="6.36" height="6.37" fill="#8fcb4e"/><rect x="1062.95" y="314.46" width="6.36" height="6.37" fill="#9dc943"/><rect x="1068.71" y="314.46" width="6.36" height="6.37" fill="#b9c431"/><rect x="1074.47" y="314.46" width="6.36" height="6.37" fill="#dcbd29"/><rect x="1080.24" y="314.46" width="6.36" height="6.37" fill="#f8ba3d"/><rect x="1086.00" y="314.46" width="6.36" height="6.37" fill="#fec338"/><rect x="1091.76" y="314.46" width="6.36" height="6.37" fill="#febe3c"/><rect x="1097.52" y="314.46" width="6.36" height="6.37" fill="#e6bb2d"/><rect x="1103.29" y="314.46" width="6.36" height="6.37" fill="#c5c22a"/><rect x="1109.05" y="314.46" width="6.36" height="6.37" fill="#8fcb4e"/><rect x="1114.81" y="314.46" width="6.36" height="6.37" fill="#64cd6f"/><rect x="1120.57" y="314.46" width="6.36" height="6.37" fill="#4acb84"/><rect x="1126.34" y="314.46" width="6.36" height="6.37" fill="#4acb84"/><rect x="838.20" y="320.24" width="6.36" height="6.37" fill="#4acb84"/><rect x="843.96" y="320.24" width="6.36" height="6.37" fill="#3fca8e"/><rect x="849.73" y="320.24" width="6.36" height="6.37" fill="#24c1ae"/><rect x="855.49" y="320.24" width="6.36" height="6.37" fill="#02bac3"/><rect x="861.25" y="320.24" width="6.36" height="6.37" fill="#08b5d0"/><rect x="867.01" y="320.24" width="6.36" height="6.37" fill="#08b5d0"/><rect x="872.78" y="320.24" width="6.36" height="6.37" fill="#01b8ca"/><rect x="878.54" y="320.24" width="6.36" height="6.37" fill="#0bbdbd"/><rect x="884.30" y="320.24" width="6.36" height="6.37" fill="#31c69f"/><rect x="890.06" y="320.24" width="6.36" height="6.37" fill="#57cc7a"/><rect x="895.83" y="320.24" width="6.36" height="6.37" fill="#81cc59"/><rect x="901.59" y="320.24" width="6.36" height="6.37" fill="#b9c431"/><rect x="907.35" y="320.24" width="6.36" height="6.37" fill="#e6bb2d"/><rect x="913.12" y="320.24" width="6.36" height="6.37" fill="#fec338"/><rect x="918.88" y="320.24" width="6.36" height="6.37" fill="#fad62d"/><rect x="924.64" y="320.24" width="6.36" height="6.37" fill="#f7dc2a"/><rect x="930.40" y="320.24" width="6.36" height="6.37" fill="#fad62d"/><rect x="936.17" y="320.24" width="6.36" height="6.37" fill="#febe3c"/><rect x="941.93" y="320.24" width="6.36" height="6.37" fill="#d1bf27"/><rect x="947.69" y="320.24" width="6.36" height="6.37" fill="#9dc943"/><rect x="953.45" y="320.24" width="6.36" height="6.37" fill="#72cd64"/><rect x="959.22" y="320.24" width="6.36" height="6.37" fill="#64cd6f"/><rect x="964.98" y="320.24" width="6.36" height="6.37" fill="#64cd6f"/><rect x="970.74" y="320.24" width="6.36" height="6.37" fill="#81cc59"/><rect x="976.51" y="320.24" width="6.36" height="6.37" fill="#9dc943"/><rect x="982.27" y="320.24" width="6.36" height="6.37" fill="#9dc943"/><rect x="988.03" y="320.24" width="6.36" height="6.37" fill="#9dc943"/><rect x="993.79" y="320.24" width="6.36" height="6.37" fill="#81cc59"/><rect x="999.56" y="320.24" width="6.36" height="6.37" fill="#72cd64"/><rect x="1005.32" y="320.24" width="6.36" height="6.37" fill="#72cd64"/><rect x="1011.08" y="320.24" width="6.36" height="6.37" fill="#72cd64"/><rect x="1016.85" y="320.24" width="6.36" height="6.37" fill="#8fcb4e"/><rect x="1022.61" y="320.24" width="6.36" height="6.37" fill="#9dc943"/><rect x="1028.37" y="320.24" width="6.36" height="6.37" fill="#b9c431"/><rect x="1034.13" y="320.24" width="6.36" height="6.37" fill="#b9c431"/><rect x="1039.90" y="320.24" width="6.36" height="6.37" fill="#abc739"/><rect x="1045.66" y="320.24" width="6.36" height="6.37" fill="#9dc943"/><rect x="1051.42" y="320.24" width="6.36" height="6.37" fill="#8fcb4e"/><rect x="1057.18" y="320.24" width="6.36" height="6.37" fill="#8fcb4e"/><rect x="1062.95" y="320.24" width="6.36" height="6.37" fill="#9dc943"/><rect x="1068.71" y="320.24" width="6.36" height="6.37" fill="#b9c431"/><rect x="1074.47" y="320.24" width="6.36" height="6.37" fill="#dcbd29"/><rect x="1080.24" y="320.24" width="6.36" height="6.37" fill="#f8ba3d"/><rect x="1086.00" y="320.24" width="6.36" height="6.37" fill="#fec338"/><rect x="1091.76" y="320.24" width="6.36" height="6.37" fill="#febe3c"/><rect x="1097.52" y="320.24" width="6.36" height="6.37" fill="#e6bb2d"/><rect x="1103.29" y="320.24" width="6.36" height="6.37" fill="#c5c22a"/><rect x="1109.05" y="320.24" width="6.36" height="6.37" fill="#9dc943"/><rect x="1114.81" y="320.24" width="6.36" height="6.37" fill="#81cc59"/><rect x="1120.57" y="320.24" width="6.36" height="6.37" fill="#64cd6f"/><rect x="1126.34" y="320.24" width="6.36" height="6.37" fill="#64cd6f"/><rect x="838.20" y="326.01" width="6.36" height="6.37" fill="#3fca8e"/><rect x="843.96" y="326.01" width="6.36" height="6.37" fill="#3fca8e"/><rect x="849.73" y="326.01" width="6.36" height="6.37" fill="#24c1ae"/><rect x="855.49" y="326.01" width="6.36" height="6.37" fill="#02bac3"/><rect x="861.25" y="326.01" width="6.36" height="6.37" fill="#08b5d0"/><rect x="867.01" y="326.01" width="6.36" height="6.37" fill="#01b8ca"/><rect x="872.78" y="326.01" width="6.36" height="6.37" fill="#02bac3"/><rect x="878.54" y="326.01" width="6.36" height="6.37" fill="#24c1ae"/><rect x="884.30" y="326.01" width="6.36" height="6.37" fill="#3fca8e"/><rect x="890.06" y="326.01" width="6.36" height="6.37" fill="#72cd64"/><rect x="895.83" y="326.01" width="6.36" height="6.37" fill="#9dc943"/><rect x="901.59" y="326.01" width="6.36" height="6.37" fill="#c5c22a"/><rect x="907.35" y="326.01" width="6.36" height="6.37" fill="#f0ba36"/><rect x="913.12" y="326.01" width="6.36" height="6.37" fill="#fec338"/><rect x="918.88" y="326.01" width="6.36" height="6.37" fill="#fad62d"/><rect x="924.64" y="326.01" width="6.36" height="6.37" fill="#f7dc2a"/><rect x="930.40" y="326.01" width="6.36" height="6.37" fill="#fad62d"/><rect x="936.17" y="326.01" width="6.36" height="6.37" fill="#febe3c"/><rect x="941.93" y="326.01" width="6.36" height="6.37" fill="#dcbd29"/><rect x="947.69" y="326.01" width="6.36" height="6.37" fill="#abc739"/><rect x="953.45" y="326.01" width="6.36" height="6.37" fill="#8fcb4e"/><rect x="959.22" y="326.01" width="6.36" height="6.37" fill="#81cc59"/><rect x="964.98" y="326.01" width="6.36" height="6.37" fill="#81cc59"/><rect x="970.74" y="326.01" width="6.36" height="6.37" fill="#9dc943"/><rect x="976.51" y="326.01" width="6.36" height="6.37" fill="#abc739"/><rect x="982.27" y="326.01" width="6.36" height="6.37" fill="#b9c431"/><rect x="988.03" y="326.01" width="6.36" height="6.37" fill="#9dc943"/><rect x="993.79" y="326.01" width="6.36" height="6.37" fill="#81cc59"/><rect x="999.56" y="326.01" width="6.36" height="6.37" fill="#64cd6f"/><rect x="1005.32" y="326.01" width="6.36" height="6.37" fill="#64cd6f"/><rect x="1011.08" y="326.01" width="6.36" height="6.37" fill="#72cd64"/><rect x="1016.85" y="326.01" width="6.36" height="6.37" fill="#8fcb4e"/><rect x="1022.61" y="326.01" width="6.36" height="6.37" fill="#abc739"/><rect x="1028.37" y="326.01" width="6.36" height="6.37" fill="#b9c431"/><rect x="1034.13" y="326.01" width="6.36" height="6.37" fill="#c5c22a"/><rect x="1039.90" y="326.01" width="6.36" height="6.37" fill="#abc739"/><rect x="1045.66" y="326.01" width="6.36" height="6.37" fill="#9dc943"/><rect x="1051.42" y="326.01" width="6.36" height="6.37" fill="#81cc59"/><rect x="1057.18" y="326.01" width="6.36" height="6.37" fill="#81cc59"/><rect x="1062.95" y="326.01" width="6.36" height="6.37" fill="#8fcb4e"/><rect x="1068.71" y="326.01" width="6.36" height="6.37" fill="#abc739"/><rect x="1074.47" y="326.01" width="6.36" height="6.37" fill="#c5c22a"/><rect x="1080.24" y="326.01" width="6.36" height="6.37" fill="#e6bb2d"/><rect x="1086.00" y="326.01" width="6.36" height="6.37" fill="#f0ba36"/><rect x="1091.76" y="326.01" width="6.36" height="6.37" fill="#f0ba36"/><rect x="1097.52" y="326.01" width="6.36" height="6.37" fill="#dcbd29"/><rect x="1103.29" y="326.01" width="6.36" height="6.37" fill="#b9c431"/><rect x="1109.05" y="326.01" width="6.36" height="6.37" fill="#9dc943"/><rect x="1114.81" y="326.01" width="6.36" height="6.37" fill="#81cc59"/><rect x="1120.57" y="326.01" width="6.36" height="6.37" fill="#72cd64"/><rect x="1126.34" y="326.01" width="6.36" height="6.37" fill="#72cd64"/><rect x="838.20" y="331.78" width="6.36" height="6.37" fill="#3fca8e"/><rect x="843.96" y="331.78" width="6.36" height="6.37" fill="#3fca8e"/><rect x="849.73" y="331.78" width="6.36" height="6.37" fill="#24c1ae"/><rect x="855.49" y="331.78" width="6.36" height="6.37" fill="#0bbdbd"/><rect x="861.25" y="331.78" width="6.36" height="6.37" fill="#0bbdbd"/><rect x="867.01" y="331.78" width="6.36" height="6.37" fill="#19bfb6"/><rect x="872.78" y="331.78" width="6.36" height="6.37" fill="#31c69f"/><rect x="878.54" y="331.78" width="6.36" height="6.37" fill="#4acb84"/><rect x="884.30" y="331.78" width="6.36" height="6.37" fill="#72cd64"/><rect x="890.06" y="331.78" width="6.36" height="6.37" fill="#8fcb4e"/><rect x="895.83" y="331.78" width="6.36" height="6.37" fill="#b9c431"/><rect x="901.59" y="331.78" width="6.36" height="6.37" fill="#dcbd29"/><rect x="907.35" y="331.78" width="6.36" height="6.37" fill="#f8ba3d"/><rect x="913.12" y="331.78" width="6.36" height="6.37" fill="#fec338"/><rect x="918.88" y="331.78" width="6.36" height="6.37" fill="#fad62d"/><rect x="924.64" y="331.78" width="6.36" height="6.37" fill="#f7dc2a"/><rect x="930.40" y="331.78" width="6.36" height="6.37" fill="#fad62d"/><rect x="936.17" y="331.78" width="6.36" height="6.37" fill="#fec338"/><rect x="941.93" y="331.78" width="6.36" height="6.37" fill="#e6bb2d"/><rect x="947.69" y="331.78" width="6.36" height="6.37" fill="#b9c431"/><rect x="953.45" y="331.78" width="6.36" height="6.37" fill="#9dc943"/><rect x="959.22" y="331.78" width="6.36" height="6.37" fill="#8fcb4e"/><rect x="964.98" y="331.78" width="6.36" height="6.37" fill="#9dc943"/><rect x="970.74" y="331.78" width="6.36" height="6.37" fill="#abc739"/><rect x="976.51" y="331.78" width="6.36" height="6.37" fill="#b9c431"/><rect x="982.27" y="331.78" width="6.36" height="6.37" fill="#b9c431"/><rect x="988.03" y="331.78" width="6.36" height="6.37" fill="#9dc943"/><rect x="993.79" y="331.78" width="6.36" height="6.37" fill="#81cc59"/><rect x="999.56" y="331.78" width="6.36" height="6.37" fill="#64cd6f"/><rect x="1005.32" y="331.78" width="6.36" height="6.37" fill="#64cd6f"/><rect x="1011.08" y="331.78" width="6.36" height="6.37" fill="#72cd64"/><rect x="1016.85" y="331.78" width="6.36" height="6.37" fill="#8fcb4e"/><rect x="1022.61" y="331.78" width="6.36" height="6.37" fill="#9dc943"/><rect x="1028.37" y="331.78" width="6.36" height="6.37" fill="#abc739"/><rect x="1034.13" y="331.78" width="6.36" height="6.37" fill="#abc739"/><rect x="1039.90" y="331.78" width="6.36" height="6.37" fill="#8fcb4e"/><rect x="1045.66" y="331.78" width="6.36" height="6.37" fill="#72cd64"/><rect x="1051.42" y="331.78" width="6.36" height="6.37" fill="#57cc7a"/><rect x="1057.18" y="331.78" width="6.36" height="6.37" fill="#57cc7a"/><rect x="1062.95" y="331.78" width="6.36" height="6.37" fill="#64cd6f"/><rect x="1068.71" y="331.78" width="6.36" height="6.37" fill="#81cc59"/><rect x="1074.47" y="331.78" width="6.36" height="6.37" fill="#9dc943"/><rect x="1080.24" y="331.78" width="6.36" height="6.37" fill="#abc739"/><rect x="1086.00" y="331.78" width="6.36" height="6.37" fill="#b9c431"/><rect x="1091.76" y="331.78" width="6.36" height="6.37" fill="#b9c431"/><rect x="1097.52" y="331.78" width="6.36" height="6.37" fill="#abc739"/><rect x="1103.29" y="331.78" width="6.36" height="6.37" fill="#8fcb4e"/><rect x="1109.05" y="331.78" width="6.36" height="6.37" fill="#81cc59"/><rect x="1114.81" y="331.78" width="6.36" height="6.37" fill="#72cd64"/><rect x="1120.57" y="331.78" width="6.36" height="6.37" fill="#72cd64"/><rect x="1126.34" y="331.78" width="6.36" height="6.37" fill="#72cd64"/><rect x="838.20" y="337.56" width="6.36" height="6.37" fill="#3fca8e"/><rect x="843.96" y="337.56" width="6.36" height="6.37" fill="#3fca8e"/><rect x="849.73" y="337.56" width="6.36" height="6.37" fill="#2cc4a7"/><rect x="855.49" y="337.56" width="6.36" height="6.37" fill="#24c1ae"/><rect x="861.25" y="337.56" width="6.36" height="6.37" fill="#2cc4a7"/><rect x="867.01" y="337.56" width="6.36" height="6.37" fill="#37c897"/><rect x="872.78" y="337.56" width="6.36" height="6.37" fill="#57cc7a"/><rect x="878.54" y="337.56" width="6.36" height="6.37" fill="#72cd64"/><rect x="884.30" y="337.56" width="6.36" height="6.37" fill="#9dc943"/><rect x="890.06" y="337.56" width="6.36" height="6.37" fill="#b9c431"/><rect x="895.83" y="337.56" width="6.36" height="6.37" fill="#dcbd29"/><rect x="901.59" y="337.56" width="6.36" height="6.37" fill="#e6bb2d"/><rect x="907.35" y="337.56" width="6.36" height="6.37" fill="#f8ba3d"/><rect x="913.12" y="337.56" width="6.36" height="6.37" fill="#fec338"/><rect x="918.88" y="337.56" width="6.36" height="6.37" fill="#fccf30"/><rect x="924.64" y="337.56" width="6.36" height="6.37" fill="#fad62d"/><rect x="930.40" y="337.56" width="6.36" height="6.37" fill="#fad62d"/><rect x="936.17" y="337.56" width="6.36" height="6.37" fill="#fec338"/><rect x="941.93" y="337.56" width="6.36" height="6.37" fill="#e6bb2d"/><rect x="947.69" y="337.56" width="6.36" height="6.37" fill="#c5c22a"/><rect x="953.45" y="337.56" width="6.36" height="6.37" fill="#abc739"/><rect x="959.22" y="337.56" width="6.36" height="6.37" fill="#9dc943"/><rect x="964.98" y="337.56" width="6.36" height="6.37" fill="#9dc943"/><rect x="970.74" y="337.56" width="6.36" height="6.37" fill="#9dc943"/><rect x="976.51" y="337.56" width="6.36" height="6.37" fill="#abc739"/><rect x="982.27" y="337.56" width="6.36" height="6.37" fill="#abc739"/><rect x="988.03" y="337.56" width="6.36" height="6.37" fill="#9dc943"/><rect x="993.79" y="337.56" width="6.36" height="6.37" fill="#81cc59"/><rect x="999.56" y="337.56" width="6.36" height="6.37" fill="#72cd64"/><rect x="1005.32" y="337.56" width="6.36" height="6.37" fill="#72cd64"/><rect x="1011.08" y="337.56" width="6.36" height="6.37" fill="#81cc59"/><rect x="1016.85" y="337.56" width="6.36" height="6.37" fill="#8fcb4e"/><rect x="1022.61" y="337.56" width="6.36" height="6.37" fill="#8fcb4e"/><rect x="1028.37" y="337.56" width="6.36" height="6.37" fill="#8fcb4e"/><rect x="1034.13" y="337.56" width="6.36" height="6.37" fill="#72cd64"/><rect x="1039.90" y="337.56" width="6.36" height="6.37" fill="#57cc7a"/><rect x="1045.66" y="337.56" width="6.36" height="6.37" fill="#37c897"/><rect x="1051.42" y="337.56" width="6.36" height="6.37" fill="#2cc4a7"/><rect x="1057.18" y="337.56" width="6.36" height="6.37" fill="#24c1ae"/><rect x="1062.95" y="337.56" width="6.36" height="6.37" fill="#31c69f"/><rect x="1068.71" y="337.56" width="6.36" height="6.37" fill="#3fca8e"/><rect x="1074.47" y="337.56" width="6.36" height="6.37" fill="#57cc7a"/><rect x="1080.24" y="337.56" width="6.36" height="6.37" fill="#64cd6f"/><rect x="1086.00" y="337.56" width="6.36" height="6.37" fill="#72cd64"/><rect x="1091.76" y="337.56" width="6.36" height="6.37" fill="#64cd6f"/><rect x="1097.52" y="337.56" width="6.36" height="6.37" fill="#57cc7a"/><rect x="1103.29" y="337.56" width="6.36" height="6.37" fill="#4acb84"/><rect x="1109.05" y="337.56" width="6.36" height="6.37" fill="#4acb84"/><rect x="1114.81" y="337.56" width="6.36" height="6.37" fill="#4acb84"/><rect x="1120.57" y="337.56" width="6.36" height="6.37" fill="#64cd6f"/><rect x="1126.34" y="337.56" width="6.36" height="6.37" fill="#64cd6f"/><rect x="838.20" y="343.33" width="6.36" height="6.37" fill="#3fca8e"/><rect x="843.96" y="343.33" width="6.36" height="6.37" fill="#3fca8e"/><rect x="849.73" y="343.33" width="6.36" height="6.37" fill="#2cc4a7"/><rect x="855.49" y="343.33" width="6.36" height="6.37" fill="#2cc4a7"/><rect x="861.25" y="343.33" width="6.36" height="6.37" fill="#31c69f"/><rect x="867.01" y="343.33" width="6.36" height="6.37" fill="#4acb84"/><rect x="872.78" y="343.33" width="6.36" height="6.37" fill="#72cd64"/><rect x="878.54" y="343.33" width="6.36" height="6.37" fill="#9dc943"/><rect x="884.30" y="343.33" width="6.36" height="6.37" fill="#b9c431"/><rect x="890.06" y="343.33" width="6.36" height="6.37" fill="#d1bf27"/><rect x="895.83" y="343.33" width="6.36" height="6.37" fill="#e6bb2d"/><rect x="901.59" y="343.33" width="6.36" height="6.37" fill="#f0ba36"/><rect x="907.35" y="343.33" width="6.36" height="6.37" fill="#f8ba3d"/><rect x="913.12" y="343.33" width="6.36" height="6.37" fill="#febe3c"/><rect x="918.88" y="343.33" width="6.36" height="6.37" fill="#fec338"/><rect x="924.64" y="343.33" width="6.36" height="6.37" fill="#fec934"/><rect x="930.40" y="343.33" width="6.36" height="6.37" fill="#fec934"/><rect x="936.17" y="343.33" width="6.36" height="6.37" fill="#f8ba3d"/><rect x="941.93" y="343.33" width="6.36" height="6.37" fill="#dcbd29"/><rect x="947.69" y="343.33" width="6.36" height="6.37" fill="#b9c431"/><rect x="953.45" y="343.33" width="6.36" height="6.37" fill="#9dc943"/><rect x="959.22" y="343.33" width="6.36" height="6.37" fill="#8fcb4e"/><rect x="964.98" y="343.33" width="6.36" height="6.37" fill="#8fcb4e"/><rect x="970.74" y="343.33" width="6.36" height="6.37" fill="#8fcb4e"/><rect x="976.51" y="343.33" width="6.36" height="6.37" fill="#9dc943"/><rect x="982.27" y="343.33" width="6.36" height="6.37" fill="#9dc943"/><rect x="988.03" y="343.33" width="6.36" height="6.37" fill="#9dc943"/><rect x="993.79" y="343.33" width="6.36" height="6.37" fill="#8fcb4e"/><rect x="999.56" y="343.33" width="6.36" height="6.37" fill="#81cc59"/><rect x="1005.32" y="343.33" width="6.36" height="6.37" fill="#81cc59"/><rect x="1011.08" y="343.33" width="6.36" height="6.37" fill="#81cc59"/><rect x="1016.85" y="343.33" width="6.36" height="6.37" fill="#81cc59"/><rect x="1022.61" y="343.33" width="6.36" height="6.37" fill="#81cc59"/><rect x="1028.37" y="343.33" width="6.36" height="6.37" fill="#64cd6f"/><rect x="1034.13" y="343.33" width="6.36" height="6.37" fill="#3fca8e"/><rect x="1039.90" y="343.33" width="6.36" height="6.37" fill="#24c1ae"/><rect x="1045.66" y="343.33" width="6.36" height="6.37" fill="#02bac3"/><rect x="1051.42" y="343.33" width="6.36" height="6.37" fill="#08b5d0"/><rect x="1057.18" y="343.33" width="6.36" height="6.37" fill="#12b1d6"/><rect x="1062.95" y="343.33" width="6.36" height="6.37" fill="#01b8ca"/><rect x="1068.71" y="343.33" width="6.36" height="6.37" fill="#0bbdbd"/><rect x="1074.47" y="343.33" width="6.36" height="6.37" fill="#19bfb6"/><rect x="1080.24" y="343.33" width="6.36" height="6.37" fill="#24c1ae"/><rect x="1086.00" y="343.33" width="6.36" height="6.37" fill="#2cc4a7"/><rect x="1091.76" y="343.33" width="6.36" height="6.37" fill="#24c1ae"/><rect x="1097.52" y="343.33" width="6.36" height="6.37" fill="#19bfb6"/><rect x="1103.29" y="343.33" width="6.36" height="6.37" fill="#0bbdbd"/><rect x="1109.05" y="343.33" width="6.36" height="6.37" fill="#0bbdbd"/><rect x="1114.81" y="343.33" width="6.36" height="6.37" fill="#24c1ae"/><rect x="1120.57" y="343.33" width="6.36" height="6.37" fill="#3fca8e"/><rect x="1126.34" y="343.33" width="6.36" height="6.37" fill="#3fca8e"/><rect x="838.20" y="349.11" width="6.36" height="6.37" fill="#3fca8e"/><rect x="843.96" y="349.11" width="6.36" height="6.37" fill="#3fca8e"/><rect x="849.73" y="349.11" width="6.36" height="6.37" fill="#2cc4a7"/><rect x="855.49" y="349.11" width="6.36" height="6.37" fill="#24c1ae"/><rect x="861.25" y="349.11" width="6.36" height="6.37" fill="#31c69f"/><rect x="867.01" y="349.11" width="6.36" height="6.37" fill="#4acb84"/><rect x="872.78" y="349.11" width="6.36" height="6.37" fill="#72cd64"/><rect x="878.54" y="349.11" width="6.36" height="6.37" fill="#8fcb4e"/><rect x="884.30" y="349.11" width="6.36" height="6.37" fill="#b9c431"/><rect x="890.06" y="349.11" width="6.36" height="6.37" fill="#d1bf27"/><rect x="895.83" y="349.11" width="6.36" height="6.37" fill="#e6bb2d"/><rect x="901.59" y="349.11" width="6.36" height="6.37" fill="#f0ba36"/><rect x="907.35" y="349.11" width="6.36" height="6.37" fill="#f0ba36"/><rect x="913.12" y="349.11" width="6.36" height="6.37" fill="#f0ba36"/><rect x="918.88" y="349.11" width="6.36" height="6.37" fill="#f8ba3d"/><rect x="924.64" y="349.11" width="6.36" height="6.37" fill="#f0ba36"/><rect x="930.40" y="349.11" width="6.36" height="6.37" fill="#f0ba36"/><rect x="936.17" y="349.11" width="6.36" height="6.37" fill="#d1bf27"/><rect x="941.93" y="349.11" width="6.36" height="6.37" fill="#b9c431"/><rect x="947.69" y="349.11" width="6.36" height="6.37" fill="#9dc943"/><rect x="953.45" y="349.11" width="6.36" height="6.37" fill="#81cc59"/><rect x="959.22" y="349.11" width="6.36" height="6.37" fill="#72cd64"/><rect x="964.98" y="349.11" width="6.36" height="6.37" fill="#64cd6f"/><rect x="970.74" y="349.11" width="6.36" height="6.37" fill="#72cd64"/><rect x="976.51" y="349.11" width="6.36" height="6.37" fill="#72cd64"/><rect x="982.27" y="349.11" width="6.36" height="6.37" fill="#81cc59"/><rect x="988.03" y="349.11" width="6.36" height="6.37" fill="#8fcb4e"/><rect x="993.79" y="349.11" width="6.36" height="6.37" fill="#8fcb4e"/><rect x="999.56" y="349.11" width="6.36" height="6.37" fill="#9dc943"/><rect x="1005.32" y="349.11" width="6.36" height="6.37" fill="#9dc943"/><rect x="1011.08" y="349.11" width="6.36" height="6.37" fill="#8fcb4e"/><rect x="1016.85" y="349.11" width="6.36" height="6.37" fill="#81cc59"/><rect x="1022.61" y="349.11" width="6.36" height="6.37" fill="#64cd6f"/><rect x="1028.37" y="349.11" width="6.36" height="6.37" fill="#3fca8e"/><rect x="1034.13" y="349.11" width="6.36" height="6.37" fill="#2cc4a7"/><rect x="1039.90" y="349.11" width="6.36" height="6.37" fill="#01b8ca"/><rect x="1045.66" y="349.11" width="6.36" height="6.37" fill="#18addb"/><rect x="1051.42" y="349.11" width="6.36" height="6.37" fill="#23a0e5"/><rect x="1057.18" y="349.11" width="6.36" height="6.37" fill="#23a0e5"/><rect x="1062.95" y="349.11" width="6.36" height="6.37" fill="#1ca9df"/><rect x="1068.71" y="349.11" width="6.36" height="6.37" fill="#12b1d6"/><rect x="1074.47" y="349.11" width="6.36" height="6.37" fill="#08b5d0"/><rect x="1080.24" y="349.11" width="6.36" height="6.37" fill="#01b8ca"/><rect x="1086.00" y="349.11" width="6.36" height="6.37" fill="#01b8ca"/><rect x="1091.76" y="349.11" width="6.36" height="6.37" fill="#08b5d0"/><rect x="1097.52" y="349.11" width="6.36" height="6.37" fill="#18addb"/><rect x="1103.29" y="349.11" width="6.36" height="6.37" fill="#1ca9df"/><rect x="1109.05" y="349.11" width="6.36" height="6.37" fill="#1ca9df"/><rect x="1114.81" y="349.11" width="6.36" height="6.37" fill="#08b5d0"/><rect x="1120.57" y="349.11" width="6.36" height="6.37" fill="#2cc4a7"/><rect x="1126.34" y="349.11" width="6.36" height="6.37" fill="#2cc4a7"/><rect x="838.20" y="354.88" width="6.36" height="6.37" fill="#3fca8e"/><rect x="843.96" y="354.88" width="6.36" height="6.37" fill="#3fca8e"/><rect x="849.73" y="354.88" width="6.36" height="6.37" fill="#24c1ae"/><rect x="855.49" y="354.88" width="6.36" height="6.37" fill="#19bfb6"/><rect x="861.25" y="354.88" width="6.36" height="6.37" fill="#24c1ae"/><rect x="867.01" y="354.88" width="6.36" height="6.37" fill="#37c897"/><rect x="872.78" y="354.88" width="6.36" height="6.37" fill="#57cc7a"/><rect x="878.54" y="354.88" width="6.36" height="6.37" fill="#81cc59"/><rect x="884.30" y="354.88" width="6.36" height="6.37" fill="#9dc943"/><rect x="890.06" y="354.88" width="6.36" height="6.37" fill="#b9c431"/><rect x="895.83" y="354.88" width="6.36" height="6.37" fill="#d1bf27"/><rect x="901.59" y="354.88" width="6.36" height="6.37" fill="#dcbd29"/><rect x="907.35" y="354.88" width="6.36" height="6.37" fill="#dcbd29"/><rect x="913.12" y="354.88" width="6.36" height="6.37" fill="#dcbd29"/><rect x="918.88" y="354.88" width="6.36" height="6.37" fill="#d1bf27"/><rect x="924.64" y="354.88" width="6.36" height="6.37" fill="#c5c22a"/><rect x="930.40" y="354.88" width="6.36" height="6.37" fill="#b9c431"/><rect x="936.17" y="354.88" width="6.36" height="6.37" fill="#9dc943"/><rect x="941.93" y="354.88" width="6.36" height="6.37" fill="#81cc59"/><rect x="947.69" y="354.88" width="6.36" height="6.37" fill="#64cd6f"/><rect x="953.45" y="354.88" width="6.36" height="6.37" fill="#4acb84"/><rect x="959.22" y="354.88" width="6.36" height="6.37" fill="#3fca8e"/><rect x="964.98" y="354.88" width="6.36" height="6.37" fill="#3fca8e"/><rect x="970.74" y="354.88" width="6.36" height="6.37" fill="#3fca8e"/><rect x="976.51" y="354.88" width="6.36" height="6.37" fill="#57cc7a"/><rect x="982.27" y="354.88" width="6.36" height="6.37" fill="#64cd6f"/><rect x="988.03" y="354.88" width="6.36" height="6.37" fill="#81cc59"/><rect x="993.79" y="354.88" width="6.36" height="6.37" fill="#9dc943"/><rect x="999.56" y="354.88" width="6.36" height="6.37" fill="#abc739"/><rect x="1005.32" y="354.88" width="6.36" height="6.37" fill="#abc739"/><rect x="1011.08" y="354.88" width="6.36" height="6.37" fill="#9dc943"/><rect x="1016.85" y="354.88" width="6.36" height="6.37" fill="#81cc59"/><rect x="1022.61" y="354.88" width="6.36" height="6.37" fill="#57cc7a"/><rect x="1028.37" y="354.88" width="6.36" height="6.37" fill="#37c897"/><rect x="1034.13" y="354.88" width="6.36" height="6.37" fill="#19bfb6"/><rect x="1039.90" y="354.88" width="6.36" height="6.37" fill="#12b1d6"/><rect x="1045.66" y="354.88" width="6.36" height="6.37" fill="#23a0e5"/><rect x="1051.42" y="354.88" width="6.36" height="6.37" fill="#2b91ef"/><rect x="1057.18" y="354.88" width="6.36" height="6.37" fill="#2b91ef"/><rect x="1062.95" y="354.88" width="6.36" height="6.37" fill="#259be8"/><rect x="1068.71" y="354.88" width="6.36" height="6.37" fill="#20a5e3"/><rect x="1074.47" y="354.88" width="6.36" height="6.37" fill="#12b1d6"/><rect x="1080.24" y="354.88" width="6.36" height="6.37" fill="#08b5d0"/><rect x="1086.00" y="354.88" width="6.36" height="6.37" fill="#12b1d6"/><rect x="1091.76" y="354.88" width="6.36" height="6.37" fill="#1ca9df"/><rect x="1097.52" y="354.88" width="6.36" height="6.37" fill="#23a0e5"/><rect x="1103.29" y="354.88" width="6.36" height="6.37" fill="#2797eb"/><rect x="1109.05" y="354.88" width="6.36" height="6.37" fill="#2b91ef"/><rect x="1114.81" y="354.88" width="6.36" height="6.37" fill="#23a0e5"/><rect x="1120.57" y="354.88" width="6.36" height="6.37" fill="#01b8ca"/><rect x="1126.34" y="354.88" width="6.36" height="6.37" fill="#02bac3"/><rect x="838.20" y="360.66" width="6.36" height="6.37" fill="#4acb84"/><rect x="843.96" y="360.66" width="6.36" height="6.37" fill="#4acb84"/><rect x="849.73" y="360.66" width="6.36" height="6.37" fill="#24c1ae"/><rect x="855.49" y="360.66" width="6.36" height="6.37" fill="#0bbdbd"/><rect x="861.25" y="360.66" width="6.36" height="6.37" fill="#19bfb6"/><rect x="867.01" y="360.66" width="6.36" height="6.37" fill="#2cc4a7"/><rect x="872.78" y="360.66" width="6.36" height="6.37" fill="#3fca8e"/><rect x="878.54" y="360.66" width="6.36" height="6.37" fill="#64cd6f"/><rect x="884.30" y="360.66" width="6.36" height="6.37" fill="#81cc59"/><rect x="890.06" y="360.66" width="6.36" height="6.37" fill="#9dc943"/><rect x="895.83" y="360.66" width="6.36" height="6.37" fill="#b9c431"/><rect x="901.59" y="360.66" width="6.36" height="6.37" fill="#b9c431"/><rect x="907.35" y="360.66" width="6.36" height="6.37" fill="#b9c431"/><rect x="913.12" y="360.66" width="6.36" height="6.37" fill="#b9c431"/><rect x="918.88" y="360.66" width="6.36" height="6.37" fill="#abc739"/><rect x="924.64" y="360.66" width="6.36" height="6.37" fill="#9dc943"/><rect x="930.40" y="360.66" width="6.36" height="6.37" fill="#8fcb4e"/><rect x="936.17" y="360.66" width="6.36" height="6.37" fill="#72cd64"/><rect x="941.93" y="360.66" width="6.36" height="6.37" fill="#4acb84"/><rect x="947.69" y="360.66" width="6.36" height="6.37" fill="#37c897"/><rect x="953.45" y="360.66" width="6.36" height="6.37" fill="#2cc4a7"/><rect x="959.22" y="360.66" width="6.36" height="6.37" fill="#2cc4a7"/><rect x="964.98" y="360.66" width="6.36" height="6.37" fill="#2cc4a7"/><rect x="970.74" y="360.66" width="6.36" height="6.37" fill="#31c69f"/><rect x="976.51" y="360.66" width="6.36" height="6.37" fill="#3fca8e"/><rect x="982.27" y="360.66" width="6.36" height="6.37" fill="#64cd6f"/><rect x="988.03" y="360.66" width="6.36" height="6.37" fill="#8fcb4e"/><rect x="993.79" y="360.66" width="6.36" height="6.37" fill="#abc739"/><rect x="999.56" y="360.66" width="6.36" height="6.37" fill="#b9c431"/><rect x="1005.32" y="360.66" width="6.36" height="6.37" fill="#b9c431"/><rect x="1011.08" y="360.66" width="6.36" height="6.37" fill="#9dc943"/><rect x="1016.85" y="360.66" width="6.36" height="6.37" fill="#81cc59"/><rect x="1022.61" y="360.66" width="6.36" height="6.37" fill="#57cc7a"/><rect x="1028.37" y="360.66" width="6.36" height="6.37" fill="#31c69f"/><rect x="1034.13" y="360.66" width="6.36" height="6.37" fill="#02bac3"/><rect x="1039.90" y="360.66" width="6.36" height="6.37" fill="#20a5e3"/><rect x="1045.66" y="360.66" width="6.36" height="6.37" fill="#2d8cf3"/><rect x="1051.42" y="360.66" width="6.36" height="6.37" fill="#327cfc"/><rect x="1057.18" y="360.66" width="6.36" height="6.37" fill="#327cfc"/><rect x="1062.95" y="360.66" width="6.36" height="6.37" fill="#2d8cf3"/><rect x="1068.71" y="360.66" width="6.36" height="6.37" fill="#259be8"/><rect x="1074.47" y="360.66" width="6.36" height="6.37" fill="#18addb"/><rect x="1080.24" y="360.66" width="6.36" height="6.37" fill="#12b1d6"/><rect x="1086.00" y="360.66" width="6.36" height="6.37" fill="#18addb"/><rect x="1091.76" y="360.66" width="6.36" height="6.37" fill="#20a5e3"/><rect x="1097.52" y="360.66" width="6.36" height="6.37" fill="#2b91ef"/><rect x="1103.29" y="360.66" width="6.36" height="6.37" fill="#2f81fa"/><rect x="1109.05" y="360.66" width="6.36" height="6.37" fill="#327cfc"/><rect x="1114.81" y="360.66" width="6.36" height="6.37" fill="#2e87f7"/><rect x="1120.57" y="360.66" width="6.36" height="6.37" fill="#1ca9df"/><rect x="1126.34" y="360.66" width="6.36" height="6.37" fill="#1ca9df"/><rect x="838.20" y="366.43" width="6.36" height="6.37" fill="#57cc7a"/><rect x="843.96" y="366.43" width="6.36" height="6.37" fill="#57cc7a"/><rect x="849.73" y="366.43" width="6.36" height="6.37" fill="#2cc4a7"/><rect x="855.49" y="366.43" width="6.36" height="6.37" fill="#19bfb6"/><rect x="861.25" y="366.43" width="6.36" height="6.37" fill="#19bfb6"/><rect x="867.01" y="366.43" width="6.36" height="6.37" fill="#2cc4a7"/><rect x="872.78" y="366.43" width="6.36" height="6.37" fill="#37c897"/><rect x="878.54" y="366.43" width="6.36" height="6.37" fill="#57cc7a"/><rect x="884.30" y="366.43" width="6.36" height="6.37" fill="#72cd64"/><rect x="890.06" y="366.43" width="6.36" height="6.37" fill="#8fcb4e"/><rect x="895.83" y="366.43" width="6.36" height="6.37" fill="#9dc943"/><rect x="901.59" y="366.43" width="6.36" height="6.37" fill="#9dc943"/><rect x="907.35" y="366.43" width="6.36" height="6.37" fill="#9dc943"/><rect x="913.12" y="366.43" width="6.36" height="6.37" fill="#8fcb4e"/><rect x="918.88" y="366.43" width="6.36" height="6.37" fill="#81cc59"/><rect x="924.64" y="366.43" width="6.36" height="6.37" fill="#72cd64"/><rect x="930.40" y="366.43" width="6.36" height="6.37" fill="#64cd6f"/><rect x="936.17" y="366.43" width="6.36" height="6.37" fill="#4acb84"/><rect x="941.93" y="366.43" width="6.36" height="6.37" fill="#31c69f"/><rect x="947.69" y="366.43" width="6.36" height="6.37" fill="#24c1ae"/><rect x="953.45" y="366.43" width="6.36" height="6.37" fill="#19bfb6"/><rect x="959.22" y="366.43" width="6.36" height="6.37" fill="#24c1ae"/><rect x="964.98" y="366.43" width="6.36" height="6.37" fill="#2cc4a7"/><rect x="970.74" y="366.43" width="6.36" height="6.37" fill="#37c897"/><rect x="976.51" y="366.43" width="6.36" height="6.37" fill="#57cc7a"/><rect x="982.27" y="366.43" width="6.36" height="6.37" fill="#72cd64"/><rect x="988.03" y="366.43" width="6.36" height="6.37" fill="#9dc943"/><rect x="993.79" y="366.43" width="6.36" height="6.37" fill="#b9c431"/><rect x="999.56" y="366.43" width="6.36" height="6.37" fill="#c5c22a"/><rect x="1005.32" y="366.43" width="6.36" height="6.37" fill="#b9c431"/><rect x="1011.08" y="366.43" width="6.36" height="6.37" fill="#9dc943"/><rect x="1016.85" y="366.43" width="6.36" height="6.37" fill="#81cc59"/><rect x="1022.61" y="366.43" width="6.36" height="6.37" fill="#4acb84"/><rect x="1028.37" y="366.43" width="6.36" height="6.37" fill="#2cc4a7"/><rect x="1034.13" y="366.43" width="6.36" height="6.37" fill="#12b1d6"/><rect x="1039.90" y="366.43" width="6.36" height="6.37" fill="#2b91ef"/><rect x="1045.66" y="366.43" width="6.36" height="6.37" fill="#3e6fff"/><rect x="1051.42" y="366.43" width="6.36" height="6.37" fill="#4758f8"/><rect x="1057.18" y="366.43" width="6.36" height="6.37" fill="#4758f8"/><rect x="1062.95" y="366.43" width="6.36" height="6.37" fill="#3e6fff"/><rect x="1068.71" y="366.43" width="6.36" height="6.37" fill="#2d8cf3"/><rect x="1074.47" y="366.43" width="6.36" height="6.37" fill="#23a0e5"/><rect x="1080.24" y="366.43" width="6.36" height="6.37" fill="#1ca9df"/><rect x="1086.00" y="366.43" width="6.36" height="6.37" fill="#20a5e3"/><rect x="1091.76" y="366.43" width="6.36" height="6.37" fill="#2797eb"/><rect x="1097.52" y="366.43" width="6.36" height="6.37" fill="#2e87f7"/><rect x="1103.29" y="366.43" width="6.36" height="6.37" fill="#3875fe"/><rect x="1109.05" y="366.43" width="6.36" height="6.37" fill="#4269fe"/><rect x="1114.81" y="366.43" width="6.36" height="6.37" fill="#3875fe"/><rect x="1120.57" y="366.43" width="6.36" height="6.37" fill="#2797eb"/><rect x="1126.34" y="366.43" width="6.36" height="6.37" fill="#259be8"/><rect x="838.20" y="372.21" width="6.36" height="6.37" fill="#64cd6f"/><rect x="843.96" y="372.21" width="6.36" height="6.37" fill="#64cd6f"/><rect x="849.73" y="372.21" width="6.36" height="6.37" fill="#37c897"/><rect x="855.49" y="372.21" width="6.36" height="6.37" fill="#2cc4a7"/><rect x="861.25" y="372.21" width="6.36" height="6.37" fill="#2cc4a7"/><rect x="867.01" y="372.21" width="6.36" height="6.37" fill="#37c897"/><rect x="872.78" y="372.21" width="6.36" height="6.37" fill="#4acb84"/><rect x="878.54" y="372.21" width="6.36" height="6.37" fill="#64cd6f"/><rect x="884.30" y="372.21" width="6.36" height="6.37" fill="#72cd64"/><rect x="890.06" y="372.21" width="6.36" height="6.37" fill="#81cc59"/><rect x="895.83" y="372.21" width="6.36" height="6.37" fill="#81cc59"/><rect x="901.59" y="372.21" width="6.36" height="6.37" fill="#81cc59"/><rect x="907.35" y="372.21" width="6.36" height="6.37" fill="#72cd64"/><rect x="913.12" y="372.21" width="6.36" height="6.37" fill="#64cd6f"/><rect x="918.88" y="372.21" width="6.36" height="6.37" fill="#57cc7a"/><rect x="924.64" y="372.21" width="6.36" height="6.37" fill="#57cc7a"/><rect x="930.40" y="372.21" width="6.36" height="6.37" fill="#4acb84"/><rect x="936.17" y="372.21" width="6.36" height="6.37" fill="#37c897"/><rect x="941.93" y="372.21" width="6.36" height="6.37" fill="#2cc4a7"/><rect x="947.69" y="372.21" width="6.36" height="6.37" fill="#19bfb6"/><rect x="953.45" y="372.21" width="6.36" height="6.37" fill="#19bfb6"/><rect x="959.22" y="372.21" width="6.36" height="6.37" fill="#24c1ae"/><rect x="964.98" y="372.21" width="6.36" height="6.37" fill="#37c897"/><rect x="970.74" y="372.21" width="6.36" height="6.37" fill="#57cc7a"/><rect x="976.51" y="372.21" width="6.36" height="6.37" fill="#72cd64"/><rect x="982.27" y="372.21" width="6.36" height="6.37" fill="#8fcb4e"/><rect x="988.03" y="372.21" width="6.36" height="6.37" fill="#abc739"/><rect x="993.79" y="372.21" width="6.36" height="6.37" fill="#c5c22a"/><rect x="999.56" y="372.21" width="6.36" height="6.37" fill="#c5c22a"/><rect x="1005.32" y="372.21" width="6.36" height="6.37" fill="#b9c431"/><rect x="1011.08" y="372.21" width="6.36" height="6.37" fill="#9dc943"/><rect x="1016.85" y="372.21" width="6.36" height="6.37" fill="#81cc59"/><rect x="1022.61" y="372.21" width="6.36" height="6.37" fill="#4acb84"/><rect x="1028.37" y="372.21" width="6.36" height="6.37" fill="#19bfb6"/><rect x="1034.13" y="372.21" width="6.36" height="6.37" fill="#1ca9df"/><rect x="1039.90" y="372.21" width="6.36" height="6.37" fill="#327cfc"/><rect x="1045.66" y="372.21" width="6.36" height="6.37" fill="#4852f4"/><rect x="1051.42" y="372.21" width="6.36" height="6.37" fill="#4537d5"/><rect x="1057.18" y="372.21" width="6.36" height="6.37" fill="#463cde"/><rect x="1062.95" y="372.21" width="6.36" height="6.37" fill="#4852f4"/><rect x="1068.71" y="372.21" width="6.36" height="6.37" fill="#327cfc"/><rect x="1074.47" y="372.21" width="6.36" height="6.37" fill="#2797eb"/><rect x="1080.24" y="372.21" width="6.36" height="6.37" fill="#23a0e5"/><rect x="1086.00" y="372.21" width="6.36" height="6.37" fill="#259be8"/><rect x="1091.76" y="372.21" width="6.36" height="6.37" fill="#2b91ef"/><rect x="1097.52" y="372.21" width="6.36" height="6.37" fill="#327cfc"/><rect x="1103.29" y="372.21" width="6.36" height="6.37" fill="#4269fe"/><rect x="1109.05" y="372.21" width="6.36" height="6.37" fill="#4563fd"/><rect x="1114.81" y="372.21" width="6.36" height="6.37" fill="#3e6fff"/><rect x="1120.57" y="372.21" width="6.36" height="6.37" fill="#2d8cf3"/><rect x="1126.34" y="372.21" width="6.36" height="6.37" fill="#2b91ef"/><rect x="838.20" y="377.98" width="6.36" height="6.37" fill="#72cd64"/><rect x="843.96" y="377.98" width="6.36" height="6.37" fill="#72cd64"/><rect x="849.73" y="377.98" width="6.36" height="6.37" fill="#3fca8e"/><rect x="855.49" y="377.98" width="6.36" height="6.37" fill="#37c897"/><rect x="861.25" y="377.98" width="6.36" height="6.37" fill="#3fca8e"/><rect x="867.01" y="377.98" width="6.36" height="6.37" fill="#4acb84"/><rect x="872.78" y="377.98" width="6.36" height="6.37" fill="#64cd6f"/><rect x="878.54" y="377.98" width="6.36" height="6.37" fill="#72cd64"/><rect x="884.30" y="377.98" width="6.36" height="6.37" fill="#81cc59"/><rect x="890.06" y="377.98" width="6.36" height="6.37" fill="#81cc59"/><rect x="895.83" y="377.98" width="6.36" height="6.37" fill="#81cc59"/><rect x="901.59" y="377.98" width="6.36" height="6.37" fill="#64cd6f"/><rect x="907.35" y="377.98" width="6.36" height="6.37" fill="#4acb84"/><rect x="913.12" y="377.98" width="6.36" height="6.37" fill="#3fca8e"/><rect x="918.88" y="377.98" width="6.36" height="6.37" fill="#3fca8e"/><rect x="924.64" y="377.98" width="6.36" height="6.37" fill="#3fca8e"/><rect x="930.40" y="377.98" width="6.36" height="6.37" fill="#3fca8e"/><rect x="936.17" y="377.98" width="6.36" height="6.37" fill="#37c897"/><rect x="941.93" y="377.98" width="6.36" height="6.37" fill="#2cc4a7"/><rect x="947.69" y="377.98" width="6.36" height="6.37" fill="#19bfb6"/><rect x="953.45" y="377.98" width="6.36" height="6.37" fill="#24c1ae"/><rect x="959.22" y="377.98" width="6.36" height="6.37" fill="#2cc4a7"/><rect x="964.98" y="377.98" width="6.36" height="6.37" fill="#3fca8e"/><rect x="970.74" y="377.98" width="6.36" height="6.37" fill="#64cd6f"/><rect x="976.51" y="377.98" width="6.36" height="6.37" fill="#8fcb4e"/><rect x="982.27" y="377.98" width="6.36" height="6.37" fill="#abc739"/><rect x="988.03" y="377.98" width="6.36" height="6.37" fill="#c5c22a"/><rect x="993.79" y="377.98" width="6.36" height="6.37" fill="#d1bf27"/><rect x="999.56" y="377.98" width="6.36" height="6.37" fill="#d1bf27"/><rect x="1005.32" y="377.98" width="6.36" height="6.37" fill="#c5c22a"/><rect x="1011.08" y="377.98" width="6.36" height="6.37" fill="#abc739"/><rect x="1016.85" y="377.98" width="6.36" height="6.37" fill="#8fcb4e"/><rect x="1022.61" y="377.98" width="6.36" height="6.37" fill="#57cc7a"/><rect x="1028.37" y="377.98" width="6.36" height="6.37" fill="#19bfb6"/><rect x="1034.13" y="377.98" width="6.36" height="6.37" fill="#20a5e3"/><rect x="1039.90" y="377.98" width="6.36" height="6.37" fill="#3875fe"/><rect x="1045.66" y="377.98" width="6.36" height="6.37" fill="#4747eb"/><rect x="1051.42" y="377.98" width="6.36" height="6.37" fill="#422ec0"/><rect x="1057.18" y="377.98" width="6.36" height="6.37" fill="#422ec0"/><rect x="1062.95" y="377.98" width="6.36" height="6.37" fill="#4747eb"/><rect x="1068.71" y="377.98" width="6.36" height="6.37" fill="#3e6fff"/><rect x="1074.47" y="377.98" width="6.36" height="6.37" fill="#2b91ef"/><rect x="1080.24" y="377.98" width="6.36" height="6.37" fill="#259be8"/><rect x="1086.00" y="377.98" width="6.36" height="6.37" fill="#259be8"/><rect x="1091.76" y="377.98" width="6.36" height="6.37" fill="#2d8cf3"/><rect x="1097.52" y="377.98" width="6.36" height="6.37" fill="#327cfc"/><rect x="1103.29" y="377.98" width="6.36" height="6.37" fill="#3e6fff"/><rect x="1109.05" y="377.98" width="6.36" height="6.37" fill="#4269fe"/><rect x="1114.81" y="377.98" width="6.36" height="6.37" fill="#3875fe"/><rect x="1120.57" y="377.98" width="6.36" height="6.37" fill="#2d8cf3"/><rect x="1126.34" y="377.98" width="6.36" height="6.37" fill="#2b91ef"/><rect x="838.20" y="383.75" width="6.36" height="6.37" fill="#72cd64"/><rect x="843.96" y="383.75" width="6.36" height="6.37" fill="#72cd64"/><rect x="849.73" y="383.75" width="6.36" height="6.37" fill="#4acb84"/><rect x="855.49" y="383.75" width="6.36" height="6.37" fill="#3fca8e"/><rect x="861.25" y="383.75" width="6.36" height="6.37" fill="#57cc7a"/><rect x="867.01" y="383.75" width="6.36" height="6.37" fill="#72cd64"/><rect x="872.78" y="383.75" width="6.36" height="6.37" fill="#8fcb4e"/><rect x="878.54" y="383.75" width="6.36" height="6.37" fill="#9dc943"/><rect x="884.30" y="383.75" width="6.36" height="6.37" fill="#9dc943"/><rect x="890.06" y="383.75" width="6.36" height="6.37" fill="#8fcb4e"/><rect x="895.83" y="383.75" width="6.36" height="6.37" fill="#81cc59"/><rect x="901.59" y="383.75" width="6.36" height="6.37" fill="#64cd6f"/><rect x="907.35" y="383.75" width="6.36" height="6.37" fill="#3fca8e"/><rect x="913.12" y="383.75" width="6.36" height="6.37" fill="#31c69f"/><rect x="918.88" y="383.75" width="6.36" height="6.37" fill="#31c69f"/><rect x="924.64" y="383.75" width="6.36" height="6.37" fill="#37c897"/><rect x="930.40" y="383.75" width="6.36" height="6.37" fill="#37c897"/><rect x="936.17" y="383.75" width="6.36" height="6.37" fill="#31c69f"/><rect x="941.93" y="383.75" width="6.36" height="6.37" fill="#2cc4a7"/><rect x="947.69" y="383.75" width="6.36" height="6.37" fill="#24c1ae"/><rect x="953.45" y="383.75" width="6.36" height="6.37" fill="#24c1ae"/><rect x="959.22" y="383.75" width="6.36" height="6.37" fill="#31c69f"/><rect x="964.98" y="383.75" width="6.36" height="6.37" fill="#3fca8e"/><rect x="970.74" y="383.75" width="6.36" height="6.37" fill="#72cd64"/><rect x="976.51" y="383.75" width="6.36" height="6.37" fill="#9dc943"/><rect x="982.27" y="383.75" width="6.36" height="6.37" fill="#b9c431"/><rect x="988.03" y="383.75" width="6.36" height="6.37" fill="#d1bf27"/><rect x="993.79" y="383.75" width="6.36" height="6.37" fill="#e6bb2d"/><rect x="999.56" y="383.75" width="6.36" height="6.37" fill="#e6bb2d"/><rect x="1005.32" y="383.75" width="6.36" height="6.37" fill="#dcbd29"/><rect x="1011.08" y="383.75" width="6.36" height="6.37" fill="#c5c22a"/><rect x="1016.85" y="383.75" width="6.36" height="6.37" fill="#9dc943"/><rect x="1022.61" y="383.75" width="6.36" height="6.37" fill="#72cd64"/><rect x="1028.37" y="383.75" width="6.36" height="6.37" fill="#2cc4a7"/><rect x="1034.13" y="383.75" width="6.36" height="6.37" fill="#1ca9df"/><rect x="1039.90" y="383.75" width="6.36" height="6.37" fill="#327cfc"/><rect x="1045.66" y="383.75" width="6.36" height="6.37" fill="#4852f4"/><rect x="1051.42" y="383.75" width="6.36" height="6.37" fill="#4537d5"/><rect x="1057.18" y="383.75" width="6.36" height="6.37" fill="#463cde"/><rect x="1062.95" y="383.75" width="6.36" height="6.37" fill="#4852f4"/><rect x="1068.71" y="383.75" width="6.36" height="6.37" fill="#327cfc"/><rect x="1074.47" y="383.75" width="6.36" height="6.37" fill="#2797eb"/><rect x="1080.24" y="383.75" width="6.36" height="6.37" fill="#23a0e5"/><rect x="1086.00" y="383.75" width="6.36" height="6.37" fill="#23a0e5"/><rect x="1091.76" y="383.75" width="6.36" height="6.37" fill="#2797eb"/><rect x="1097.52" y="383.75" width="6.36" height="6.37" fill="#2d8cf3"/><rect x="1103.29" y="383.75" width="6.36" height="6.37" fill="#2f81fa"/><rect x="1109.05" y="383.75" width="6.36" height="6.37" fill="#327cfc"/><rect x="1114.81" y="383.75" width="6.36" height="6.37" fill="#2f81fa"/><rect x="1120.57" y="383.75" width="6.36" height="6.37" fill="#259be8"/><rect x="1126.34" y="383.75" width="6.36" height="6.37" fill="#259be8"/><rect x="838.20" y="389.53" width="6.36" height="6.37" fill="#64cd6f"/><rect x="843.96" y="389.53" width="6.36" height="6.37" fill="#64cd6f"/><rect x="849.73" y="389.53" width="6.36" height="6.37" fill="#3fca8e"/><rect x="855.49" y="389.53" width="6.36" height="6.37" fill="#3fca8e"/><rect x="861.25" y="389.53" width="6.36" height="6.37" fill="#64cd6f"/><rect x="867.01" y="389.53" width="6.36" height="6.37" fill="#8fcb4e"/><rect x="872.78" y="389.53" width="6.36" height="6.37" fill="#abc739"/><rect x="878.54" y="389.53" width="6.36" height="6.37" fill="#b9c431"/><rect x="884.30" y="389.53" width="6.36" height="6.37" fill="#b9c431"/><rect x="890.06" y="389.53" width="6.36" height="6.37" fill="#9dc943"/><rect x="895.83" y="389.53" width="6.36" height="6.37" fill="#81cc59"/><rect x="901.59" y="389.53" width="6.36" height="6.37" fill="#64cd6f"/><rect x="907.35" y="389.53" width="6.36" height="6.37" fill="#3fca8e"/><rect x="913.12" y="389.53" width="6.36" height="6.37" fill="#31c69f"/><rect x="918.88" y="389.53" width="6.36" height="6.37" fill="#31c69f"/><rect x="924.64" y="389.53" width="6.36" height="6.37" fill="#31c69f"/><rect x="930.40" y="389.53" width="6.36" height="6.37" fill="#31c69f"/><rect x="936.17" y="389.53" width="6.36" height="6.37" fill="#31c69f"/><rect x="941.93" y="389.53" width="6.36" height="6.37" fill="#2cc4a7"/><rect x="947.69" y="389.53" width="6.36" height="6.37" fill="#24c1ae"/><rect x="953.45" y="389.53" width="6.36" height="6.37" fill="#24c1ae"/><rect x="959.22" y="389.53" width="6.36" height="6.37" fill="#2cc4a7"/><rect x="964.98" y="389.53" width="6.36" height="6.37" fill="#3fca8e"/><rect x="970.74" y="389.53" width="6.36" height="6.37" fill="#64cd6f"/><rect x="976.51" y="389.53" width="6.36" height="6.37" fill="#8fcb4e"/><rect x="982.27" y="389.53" width="6.36" height="6.37" fill="#b9c431"/><rect x="988.03" y="389.53" width="6.36" height="6.37" fill="#dcbd29"/><rect x="993.79" y="389.53" width="6.36" height="6.37" fill="#f0ba36"/><rect x="999.56" y="389.53" width="6.36" height="6.37" fill="#f8ba3d"/><rect x="1005.32" y="389.53" width="6.36" height="6.37" fill="#f8ba3d"/><rect x="1011.08" y="389.53" width="6.36" height="6.37" fill="#e6bb2d"/><rect x="1016.85" y="389.53" width="6.36" height="6.37" fill="#b9c431"/><rect x="1022.61" y="389.53" width="6.36" height="6.37" fill="#81cc59"/><rect x="1028.37" y="389.53" width="6.36" height="6.37" fill="#3fca8e"/><rect x="1034.13" y="389.53" width="6.36" height="6.37" fill="#08b5d0"/><rect x="1039.90" y="389.53" width="6.36" height="6.37" fill="#2b91ef"/><rect x="1045.66" y="389.53" width="6.36" height="6.37" fill="#3e6fff"/><rect x="1051.42" y="389.53" width="6.36" height="6.37" fill="#465efb"/><rect x="1057.18" y="389.53" width="6.36" height="6.37" fill="#465efb"/><rect x="1062.95" y="389.53" width="6.36" height="6.37" fill="#3e6fff"/><rect x="1068.71" y="389.53" width="6.36" height="6.37" fill="#2b91ef"/><rect x="1074.47" y="389.53" width="6.36" height="6.37" fill="#20a5e3"/><rect x="1080.24" y="389.53" width="6.36" height="6.37" fill="#18addb"/><rect x="1086.00" y="389.53" width="6.36" height="6.37" fill="#18addb"/><rect x="1091.76" y="389.53" width="6.36" height="6.37" fill="#1ca9df"/><rect x="1097.52" y="389.53" width="6.36" height="6.37" fill="#23a0e5"/><rect x="1103.29" y="389.53" width="6.36" height="6.37" fill="#2797eb"/><rect x="1109.05" y="389.53" width="6.36" height="6.37" fill="#2b91ef"/><rect x="1114.81" y="389.53" width="6.36" height="6.37" fill="#2797eb"/><rect x="1120.57" y="389.53" width="6.36" height="6.37" fill="#1ca9df"/><rect x="1126.34" y="389.53" width="6.36" height="6.37" fill="#18addb"/><rect x="838.20" y="395.30" width="6.36" height="6.37" fill="#64cd6f"/><rect x="843.96" y="395.30" width="6.36" height="6.37" fill="#64cd6f"/><rect x="849.73" y="395.30" width="6.36" height="6.37" fill="#3fca8e"/><rect x="855.49" y="395.30" width="6.36" height="6.37" fill="#4acb84"/><rect x="861.25" y="395.30" width="6.36" height="6.37" fill="#72cd64"/><rect x="867.01" y="395.30" width="6.36" height="6.37" fill="#9dc943"/><rect x="872.78" y="395.30" width="6.36" height="6.37" fill="#b9c431"/><rect x="878.54" y="395.30" width="6.36" height="6.37" fill="#d1bf27"/><rect x="884.30" y="395.30" width="6.36" height="6.37" fill="#c5c22a"/><rect x="890.06" y="395.30" width="6.36" height="6.37" fill="#abc739"/><rect x="895.83" y="395.30" width="6.36" height="6.37" fill="#8fcb4e"/><rect x="901.59" y="395.30" width="6.36" height="6.37" fill="#64cd6f"/><rect x="907.35" y="395.30" width="6.36" height="6.37" fill="#4acb84"/><rect x="913.12" y="395.30" width="6.36" height="6.37" fill="#37c897"/><rect x="918.88" y="395.30" width="6.36" height="6.37" fill="#31c69f"/><rect x="924.64" y="395.30" width="6.36" height="6.37" fill="#2cc4a7"/><rect x="930.40" y="395.30" width="6.36" height="6.37" fill="#2cc4a7"/><rect x="936.17" y="395.30" width="6.36" height="6.37" fill="#2cc4a7"/><rect x="941.93" y="395.30" width="6.36" height="6.37" fill="#24c1ae"/><rect x="947.69" y="395.30" width="6.36" height="6.37" fill="#19bfb6"/><rect x="953.45" y="395.30" width="6.36" height="6.37" fill="#24c1ae"/><rect x="959.22" y="395.30" width="6.36" height="6.37" fill="#24c1ae"/><rect x="964.98" y="395.30" width="6.36" height="6.37" fill="#37c897"/><rect x="970.74" y="395.30" width="6.36" height="6.37" fill="#57cc7a"/><rect x="976.51" y="395.30" width="6.36" height="6.37" fill="#81cc59"/><rect x="982.27" y="395.30" width="6.36" height="6.37" fill="#abc739"/><rect x="988.03" y="395.30" width="6.36" height="6.37" fill="#dcbd29"/><rect x="993.79" y="395.30" width="6.36" height="6.37" fill="#f8ba3d"/><rect x="999.56" y="395.30" width="6.36" height="6.37" fill="#fec338"/><rect x="1005.32" y="395.30" width="6.36" height="6.37" fill="#febe3c"/><rect x="1011.08" y="395.30" width="6.36" height="6.37" fill="#f0ba36"/><rect x="1016.85" y="395.30" width="6.36" height="6.37" fill="#d1bf27"/><rect x="1022.61" y="395.30" width="6.36" height="6.37" fill="#9dc943"/><rect x="1028.37" y="395.30" width="6.36" height="6.37" fill="#57cc7a"/><rect x="1034.13" y="395.30" width="6.36" height="6.37" fill="#19bfb6"/><rect x="1039.90" y="395.30" width="6.36" height="6.37" fill="#1ca9df"/><rect x="1045.66" y="395.30" width="6.36" height="6.37" fill="#2b91ef"/><rect x="1051.42" y="395.30" width="6.36" height="6.37" fill="#2e87f7"/><rect x="1057.18" y="395.30" width="6.36" height="6.37" fill="#2e87f7"/><rect x="1062.95" y="395.30" width="6.36" height="6.37" fill="#2b91ef"/><rect x="1068.71" y="395.30" width="6.36" height="6.37" fill="#23a0e5"/><rect x="1074.47" y="395.30" width="6.36" height="6.37" fill="#18addb"/><rect x="1080.24" y="395.30" width="6.36" height="6.37" fill="#08b5d0"/><rect x="1086.00" y="395.30" width="6.36" height="6.37" fill="#01b8ca"/><rect x="1091.76" y="395.30" width="6.36" height="6.37" fill="#08b5d0"/><rect x="1097.52" y="395.30" width="6.36" height="6.37" fill="#18addb"/><rect x="1103.29" y="395.30" width="6.36" height="6.37" fill="#1ca9df"/><rect x="1109.05" y="395.30" width="6.36" height="6.37" fill="#20a5e3"/><rect x="1114.81" y="395.30" width="6.36" height="6.37" fill="#1ca9df"/><rect x="1120.57" y="395.30" width="6.36" height="6.37" fill="#08b5d0"/><rect x="1126.34" y="395.30" width="6.36" height="6.37" fill="#08b5d0"/><rect x="838.20" y="401.08" width="6.36" height="6.37" fill="#57cc7a"/><rect x="843.96" y="401.08" width="6.36" height="6.37" fill="#57cc7a"/><rect x="849.73" y="401.08" width="6.36" height="6.37" fill="#37c897"/><rect x="855.49" y="401.08" width="6.36" height="6.37" fill="#4acb84"/><rect x="861.25" y="401.08" width="6.36" height="6.37" fill="#72cd64"/><rect x="867.01" y="401.08" width="6.36" height="6.37" fill="#abc739"/><rect x="872.78" y="401.08" width="6.36" height="6.37" fill="#c5c22a"/><rect x="878.54" y="401.08" width="6.36" height="6.37" fill="#dcbd29"/><rect x="884.30" y="401.08" width="6.36" height="6.37" fill="#d1bf27"/><rect x="890.06" y="401.08" width="6.36" height="6.37" fill="#abc739"/><rect x="895.83" y="401.08" width="6.36" height="6.37" fill="#8fcb4e"/><rect x="901.59" y="401.08" width="6.36" height="6.37" fill="#64cd6f"/><rect x="907.35" y="401.08" width="6.36" height="6.37" fill="#4acb84"/><rect x="913.12" y="401.08" width="6.36" height="6.37" fill="#37c897"/><rect x="918.88" y="401.08" width="6.36" height="6.37" fill="#31c69f"/><rect x="924.64" y="401.08" width="6.36" height="6.37" fill="#2cc4a7"/><rect x="930.40" y="401.08" width="6.36" height="6.37" fill="#24c1ae"/><rect x="936.17" y="401.08" width="6.36" height="6.37" fill="#19bfb6"/><rect x="941.93" y="401.08" width="6.36" height="6.37" fill="#0bbdbd"/><rect x="947.69" y="401.08" width="6.36" height="6.37" fill="#02bac3"/><rect x="953.45" y="401.08" width="6.36" height="6.37" fill="#0bbdbd"/><rect x="959.22" y="401.08" width="6.36" height="6.37" fill="#24c1ae"/><rect x="964.98" y="401.08" width="6.36" height="6.37" fill="#31c69f"/><rect x="970.74" y="401.08" width="6.36" height="6.37" fill="#57cc7a"/><rect x="976.51" y="401.08" width="6.36" height="6.37" fill="#81cc59"/><rect x="982.27" y="401.08" width="6.36" height="6.37" fill="#9dc943"/><rect x="988.03" y="401.08" width="6.36" height="6.37" fill="#c5c22a"/><rect x="993.79" y="401.08" width="6.36" height="6.37" fill="#e6bb2d"/><rect x="999.56" y="401.08" width="6.36" height="6.37" fill="#f8ba3d"/><rect x="1005.32" y="401.08" width="6.36" height="6.37" fill="#febe3c"/><rect x="1011.08" y="401.08" width="6.36" height="6.37" fill="#f0ba36"/><rect x="1016.85" y="401.08" width="6.36" height="6.37" fill="#dcbd29"/><rect x="1022.61" y="401.08" width="6.36" height="6.37" fill="#abc739"/><rect x="1028.37" y="401.08" width="6.36" height="6.37" fill="#81cc59"/><rect x="1034.13" y="401.08" width="6.36" height="6.37" fill="#3fca8e"/><rect x="1039.90" y="401.08" width="6.36" height="6.37" fill="#0bbdbd"/><rect x="1045.66" y="401.08" width="6.36" height="6.37" fill="#18addb"/><rect x="1051.42" y="401.08" width="6.36" height="6.37" fill="#23a0e5"/><rect x="1057.18" y="401.08" width="6.36" height="6.37" fill="#259be8"/><rect x="1062.95" y="401.08" width="6.36" height="6.37" fill="#259be8"/><rect x="1068.71" y="401.08" width="6.36" height="6.37" fill="#20a5e3"/><rect x="1074.47" y="401.08" width="6.36" height="6.37" fill="#12b1d6"/><rect x="1080.24" y="401.08" width="6.36" height="6.37" fill="#01b8ca"/><rect x="1086.00" y="401.08" width="6.36" height="6.37" fill="#02bac3"/><rect x="1091.76" y="401.08" width="6.36" height="6.37" fill="#02bac3"/><rect x="1097.52" y="401.08" width="6.36" height="6.37" fill="#01b8ca"/><rect x="1103.29" y="401.08" width="6.36" height="6.37" fill="#08b5d0"/><rect x="1109.05" y="401.08" width="6.36" height="6.37" fill="#12b1d6"/><rect x="1114.81" y="401.08" width="6.36" height="6.37" fill="#08b5d0"/><rect x="1120.57" y="401.08" width="6.36" height="6.37" fill="#02bac3"/><rect x="1126.34" y="401.08" width="6.36" height="6.37" fill="#02bac3"/><rect x="838.20" y="406.85" width="6.36" height="6.37" fill="#4acb84"/><rect x="843.96" y="406.85" width="6.36" height="6.37" fill="#4acb84"/><rect x="849.73" y="406.85" width="6.36" height="6.37" fill="#3fca8e"/><rect x="855.49" y="406.85" width="6.36" height="6.37" fill="#57cc7a"/><rect x="861.25" y="406.85" width="6.36" height="6.37" fill="#81cc59"/><rect x="867.01" y="406.85" width="6.36" height="6.37" fill="#abc739"/><rect x="872.78" y="406.85" width="6.36" height="6.37" fill="#c5c22a"/><rect x="878.54" y="406.85" width="6.36" height="6.37" fill="#d1bf27"/><rect x="884.30" y="406.85" width="6.36" height="6.37" fill="#c5c22a"/><rect x="890.06" y="406.85" width="6.36" height="6.37" fill="#abc739"/><rect x="895.83" y="406.85" width="6.36" height="6.37" fill="#81cc59"/><rect x="901.59" y="406.85" width="6.36" height="6.37" fill="#64cd6f"/><rect x="907.35" y="406.85" width="6.36" height="6.37" fill="#4acb84"/><rect x="913.12" y="406.85" width="6.36" height="6.37" fill="#37c897"/><rect x="918.88" y="406.85" width="6.36" height="6.37" fill="#2cc4a7"/><rect x="924.64" y="406.85" width="6.36" height="6.37" fill="#24c1ae"/><rect x="930.40" y="406.85" width="6.36" height="6.37" fill="#19bfb6"/><rect x="936.17" y="406.85" width="6.36" height="6.37" fill="#02bac3"/><rect x="941.93" y="406.85" width="6.36" height="6.37" fill="#08b5d0"/><rect x="947.69" y="406.85" width="6.36" height="6.37" fill="#08b5d0"/><rect x="953.45" y="406.85" width="6.36" height="6.37" fill="#01b8ca"/><rect x="959.22" y="406.85" width="6.36" height="6.37" fill="#19bfb6"/><rect x="964.98" y="406.85" width="6.36" height="6.37" fill="#31c69f"/><rect x="970.74" y="406.85" width="6.36" height="6.37" fill="#4acb84"/><rect x="976.51" y="406.85" width="6.36" height="6.37" fill="#72cd64"/><rect x="982.27" y="406.85" width="6.36" height="6.37" fill="#8fcb4e"/><rect x="988.03" y="406.85" width="6.36" height="6.37" fill="#b9c431"/><rect x="993.79" y="406.85" width="6.36" height="6.37" fill="#d1bf27"/><rect x="999.56" y="406.85" width="6.36" height="6.37" fill="#e6bb2d"/><rect x="1005.32" y="406.85" width="6.36" height="6.37" fill="#e6bb2d"/><rect x="1011.08" y="406.85" width="6.36" height="6.37" fill="#e6bb2d"/><rect x="1016.85" y="406.85" width="6.36" height="6.37" fill="#d1bf27"/><rect x="1022.61" y="406.85" width="6.36" height="6.37" fill="#b9c431"/><rect x="1028.37" y="406.85" width="6.36" height="6.37" fill="#8fcb4e"/><rect x="1034.13" y="406.85" width="6.36" height="6.37" fill="#64cd6f"/><rect x="1039.90" y="406.85" width="6.36" height="6.37" fill="#31c69f"/><rect x="1045.66" y="406.85" width="6.36" height="6.37" fill="#02bac3"/><rect x="1051.42" y="406.85" width="6.36" height="6.37" fill="#18addb"/><rect x="1057.18" y="406.85" width="6.36" height="6.37" fill="#23a0e5"/><rect x="1062.95" y="406.85" width="6.36" height="6.37" fill="#259be8"/><rect x="1068.71" y="406.85" width="6.36" height="6.37" fill="#23a0e5"/><rect x="1074.47" y="406.85" width="6.36" height="6.37" fill="#1ca9df"/><rect x="1080.24" y="406.85" width="6.36" height="6.37" fill="#12b1d6"/><rect x="1086.00" y="406.85" width="6.36" height="6.37" fill="#01b8ca"/><rect x="1091.76" y="406.85" width="6.36" height="6.37" fill="#02bac3"/><rect x="1097.52" y="406.85" width="6.36" height="6.37" fill="#02bac3"/><rect x="1103.29" y="406.85" width="6.36" height="6.37" fill="#02bac3"/><rect x="1109.05" y="406.85" width="6.36" height="6.37" fill="#01b8ca"/><rect x="1114.81" y="406.85" width="6.36" height="6.37" fill="#02bac3"/><rect x="1120.57" y="406.85" width="6.36" height="6.37" fill="#0bbdbd"/><rect x="1126.34" y="406.85" width="6.36" height="6.37" fill="#0bbdbd"/><rect x="838.20" y="412.63" width="6.36" height="6.37" fill="#4acb84"/><rect x="843.96" y="412.63" width="6.36" height="6.37" fill="#4acb84"/><rect x="849.73" y="412.63" width="6.36" height="6.37" fill="#4acb84"/><rect x="855.49" y="412.63" width="6.36" height="6.37" fill="#64cd6f"/><rect x="861.25" y="412.63" width="6.36" height="6.37" fill="#8fcb4e"/><rect x="867.01" y="412.63" width="6.36" height="6.37" fill="#abc739"/><rect x="872.78" y="412.63" width="6.36" height="6.37" fill="#b9c431"/><rect x="878.54" y="412.63" width="6.36" height="6.37" fill="#c5c22a"/><rect x="884.30" y="412.63" width="6.36" height="6.37" fill="#b9c431"/><rect x="890.06" y="412.63" width="6.36" height="6.37" fill="#9dc943"/><rect x="895.83" y="412.63" width="6.36" height="6.37" fill="#81cc59"/><rect x="901.59" y="412.63" width="6.36" height="6.37" fill="#64cd6f"/><rect x="907.35" y="412.63" width="6.36" height="6.37" fill="#3fca8e"/><rect x="913.12" y="412.63" width="6.36" height="6.37" fill="#37c897"/><rect x="918.88" y="412.63" width="6.36" height="6.37" fill="#2cc4a7"/><rect x="924.64" y="412.63" width="6.36" height="6.37" fill="#24c1ae"/><rect x="930.40" y="412.63" width="6.36" height="6.37" fill="#0bbdbd"/><rect x="936.17" y="412.63" width="6.36" height="6.37" fill="#08b5d0"/><rect x="941.93" y="412.63" width="6.36" height="6.37" fill="#18addb"/><rect x="947.69" y="412.63" width="6.36" height="6.37" fill="#18addb"/><rect x="953.45" y="412.63" width="6.36" height="6.37" fill="#08b5d0"/><rect x="959.22" y="412.63" width="6.36" height="6.37" fill="#19bfb6"/><rect x="964.98" y="412.63" width="6.36" height="6.37" fill="#37c897"/><rect x="970.74" y="412.63" width="6.36" height="6.37" fill="#4acb84"/><rect x="976.51" y="412.63" width="6.36" height="6.37" fill="#64cd6f"/><rect x="982.27" y="412.63" width="6.36" height="6.37" fill="#81cc59"/><rect x="988.03" y="412.63" width="6.36" height="6.37" fill="#8fcb4e"/><rect x="993.79" y="412.63" width="6.36" height="6.37" fill="#abc739"/><rect x="999.56" y="412.63" width="6.36" height="6.37" fill="#b9c431"/><rect x="1005.32" y="412.63" width="6.36" height="6.37" fill="#c5c22a"/><rect x="1011.08" y="412.63" width="6.36" height="6.37" fill="#c5c22a"/><rect x="1016.85" y="412.63" width="6.36" height="6.37" fill="#c5c22a"/><rect x="1022.61" y="412.63" width="6.36" height="6.37" fill="#b9c431"/><rect x="1028.37" y="412.63" width="6.36" height="6.37" fill="#9dc943"/><rect x="1034.13" y="412.63" width="6.36" height="6.37" fill="#81cc59"/><rect x="1039.90" y="412.63" width="6.36" height="6.37" fill="#4acb84"/><rect x="1045.66" y="412.63" width="6.36" height="6.37" fill="#19bfb6"/><rect x="1051.42" y="412.63" width="6.36" height="6.37" fill="#18addb"/><rect x="1057.18" y="412.63" width="6.36" height="6.37" fill="#259be8"/><rect x="1062.95" y="412.63" width="6.36" height="6.37" fill="#2b91ef"/><rect x="1068.71" y="412.63" width="6.36" height="6.37" fill="#2d8cf3"/><rect x="1074.47" y="412.63" width="6.36" height="6.37" fill="#2797eb"/><rect x="1080.24" y="412.63" width="6.36" height="6.37" fill="#1ca9df"/><rect x="1086.00" y="412.63" width="6.36" height="6.37" fill="#08b5d0"/><rect x="1091.76" y="412.63" width="6.36" height="6.37" fill="#02bac3"/><rect x="1097.52" y="412.63" width="6.36" height="6.37" fill="#0bbdbd"/><rect x="1103.29" y="412.63" width="6.36" height="6.37" fill="#0bbdbd"/><rect x="1109.05" y="412.63" width="6.36" height="6.37" fill="#02bac3"/><rect x="1114.81" y="412.63" width="6.36" height="6.37" fill="#02bac3"/><rect x="1120.57" y="412.63" width="6.36" height="6.37" fill="#0bbdbd"/><rect x="1126.34" y="412.63" width="6.36" height="6.37" fill="#0bbdbd"/><rect x="838.20" y="418.40" width="6.36" height="6.37" fill="#72cd64"/><rect x="843.96" y="418.40" width="6.36" height="6.37" fill="#72cd64"/><rect x="849.73" y="418.40" width="6.36" height="6.37" fill="#72cd64"/><rect x="855.49" y="418.40" width="6.36" height="6.37" fill="#81cc59"/><rect x="861.25" y="418.40" width="6.36" height="6.37" fill="#9dc943"/><rect x="867.01" y="418.40" width="6.36" height="6.37" fill="#abc739"/><rect x="872.78" y="418.40" width="6.36" height="6.37" fill="#b9c431"/><rect x="878.54" y="418.40" width="6.36" height="6.37" fill="#b9c431"/><rect x="884.30" y="418.40" width="6.36" height="6.37" fill="#abc739"/><rect x="890.06" y="418.40" width="6.36" height="6.37" fill="#8fcb4e"/><rect x="895.83" y="418.40" width="6.36" height="6.37" fill="#72cd64"/><rect x="901.59" y="418.40" width="6.36" height="6.37" fill="#57cc7a"/><rect x="907.35" y="418.40" width="6.36" height="6.37" fill="#3fca8e"/><rect x="913.12" y="418.40" width="6.36" height="6.37" fill="#31c69f"/><rect x="918.88" y="418.40" width="6.36" height="6.37" fill="#2cc4a7"/><rect x="924.64" y="418.40" width="6.36" height="6.37" fill="#24c1ae"/><rect x="930.40" y="418.40" width="6.36" height="6.37" fill="#0bbdbd"/><rect x="936.17" y="418.40" width="6.36" height="6.37" fill="#01b8ca"/><rect x="941.93" y="418.40" width="6.36" height="6.37" fill="#12b1d6"/><rect x="947.69" y="418.40" width="6.36" height="6.37" fill="#18addb"/><rect x="953.45" y="418.40" width="6.36" height="6.37" fill="#01b8ca"/><rect x="959.22" y="418.40" width="6.36" height="6.37" fill="#19bfb6"/><rect x="964.98" y="418.40" width="6.36" height="6.37" fill="#37c897"/><rect x="970.74" y="418.40" width="6.36" height="6.37" fill="#4acb84"/><rect x="976.51" y="418.40" width="6.36" height="6.37" fill="#57cc7a"/><rect x="982.27" y="418.40" width="6.36" height="6.37" fill="#57cc7a"/><rect x="988.03" y="418.40" width="6.36" height="6.37" fill="#64cd6f"/><rect x="993.79" y="418.40" width="6.36" height="6.37" fill="#81cc59"/><rect x="999.56" y="418.40" width="6.36" height="6.37" fill="#8fcb4e"/><rect x="1005.32" y="418.40" width="6.36" height="6.37" fill="#9dc943"/><rect x="1011.08" y="418.40" width="6.36" height="6.37" fill="#abc739"/><rect x="1016.85" y="418.40" width="6.36" height="6.37" fill="#abc739"/><rect x="1022.61" y="418.40" width="6.36" height="6.37" fill="#abc739"/><rect x="1028.37" y="418.40" width="6.36" height="6.37" fill="#9dc943"/><rect x="1034.13" y="418.40" width="6.36" height="6.37" fill="#81cc59"/><rect x="1039.90" y="418.40" width="6.36" height="6.37" fill="#57cc7a"/><rect x="1045.66" y="418.40" width="6.36" height="6.37" fill="#24c1ae"/><rect x="1051.42" y="418.40" width="6.36" height="6.37" fill="#18addb"/><rect x="1057.18" y="418.40" width="6.36" height="6.37" fill="#2b91ef"/><rect x="1062.95" y="418.40" width="6.36" height="6.37" fill="#2f81fa"/><rect x="1068.71" y="418.40" width="6.36" height="6.37" fill="#327cfc"/><rect x="1074.47" y="418.40" width="6.36" height="6.37" fill="#2e87f7"/><rect x="1080.24" y="418.40" width="6.36" height="6.37" fill="#259be8"/><rect x="1086.00" y="418.40" width="6.36" height="6.37" fill="#12b1d6"/><rect x="1091.76" y="418.40" width="6.36" height="6.37" fill="#02bac3"/><rect x="1097.52" y="418.40" width="6.36" height="6.37" fill="#0bbdbd"/><rect x="1103.29" y="418.40" width="6.36" height="6.37" fill="#0bbdbd"/><rect x="1109.05" y="418.40" width="6.36" height="6.37" fill="#0bbdbd"/><rect x="1114.81" y="418.40" width="6.36" height="6.37" fill="#0bbdbd"/><rect x="1120.57" y="418.40" width="6.36" height="6.37" fill="#0bbdbd"/><rect x="1126.34" y="418.40" width="6.36" height="6.37" fill="#0bbdbd"/><rect x="838.20" y="424.18" width="6.36" height="6.37" fill="#abc739"/><rect x="843.96" y="424.18" width="6.36" height="6.37" fill="#abc739"/><rect x="849.73" y="424.18" width="6.36" height="6.37" fill="#9dc943"/><rect x="855.49" y="424.18" width="6.36" height="6.37" fill="#9dc943"/><rect x="861.25" y="424.18" width="6.36" height="6.37" fill="#abc739"/><rect x="867.01" y="424.18" width="6.36" height="6.37" fill="#abc739"/><rect x="872.78" y="424.18" width="6.36" height="6.37" fill="#abc739"/><rect x="878.54" y="424.18" width="6.36" height="6.37" fill="#abc739"/><rect x="884.30" y="424.18" width="6.36" height="6.37" fill="#9dc943"/><rect x="890.06" y="424.18" width="6.36" height="6.37" fill="#81cc59"/><rect x="895.83" y="424.18" width="6.36" height="6.37" fill="#64cd6f"/><rect x="901.59" y="424.18" width="6.36" height="6.37" fill="#3fca8e"/><rect x="907.35" y="424.18" width="6.36" height="6.37" fill="#31c69f"/><rect x="913.12" y="424.18" width="6.36" height="6.37" fill="#2cc4a7"/><rect x="918.88" y="424.18" width="6.36" height="6.37" fill="#24c1ae"/><rect x="924.64" y="424.18" width="6.36" height="6.37" fill="#24c1ae"/><rect x="930.40" y="424.18" width="6.36" height="6.37" fill="#24c1ae"/><rect x="936.17" y="424.18" width="6.36" height="6.37" fill="#0bbdbd"/><rect x="941.93" y="424.18" width="6.36" height="6.37" fill="#02bac3"/><rect x="947.69" y="424.18" width="6.36" height="6.37" fill="#02bac3"/><rect x="953.45" y="424.18" width="6.36" height="6.37" fill="#0bbdbd"/><rect x="959.22" y="424.18" width="6.36" height="6.37" fill="#2cc4a7"/><rect x="964.98" y="424.18" width="6.36" height="6.37" fill="#37c897"/><rect x="970.74" y="424.18" width="6.36" height="6.37" fill="#37c897"/><rect x="976.51" y="424.18" width="6.36" height="6.37" fill="#37c897"/><rect x="982.27" y="424.18" width="6.36" height="6.37" fill="#31c69f"/><rect x="988.03" y="424.18" width="6.36" height="6.37" fill="#37c897"/><rect x="993.79" y="424.18" width="6.36" height="6.37" fill="#4acb84"/><rect x="999.56" y="424.18" width="6.36" height="6.37" fill="#64cd6f"/><rect x="1005.32" y="424.18" width="6.36" height="6.37" fill="#72cd64"/><rect x="1011.08" y="424.18" width="6.36" height="6.37" fill="#8fcb4e"/><rect x="1016.85" y="424.18" width="6.36" height="6.37" fill="#8fcb4e"/><rect x="1022.61" y="424.18" width="6.36" height="6.37" fill="#9dc943"/><rect x="1028.37" y="424.18" width="6.36" height="6.37" fill="#8fcb4e"/><rect x="1034.13" y="424.18" width="6.36" height="6.37" fill="#81cc59"/><rect x="1039.90" y="424.18" width="6.36" height="6.37" fill="#4acb84"/><rect x="1045.66" y="424.18" width="6.36" height="6.37" fill="#19bfb6"/><rect x="1051.42" y="424.18" width="6.36" height="6.37" fill="#1ca9df"/><rect x="1057.18" y="424.18" width="6.36" height="6.37" fill="#2b91ef"/><rect x="1062.95" y="424.18" width="6.36" height="6.37" fill="#327cfc"/><rect x="1068.71" y="424.18" width="6.36" height="6.37" fill="#3875fe"/><rect x="1074.47" y="424.18" width="6.36" height="6.37" fill="#2f81fa"/><rect x="1080.24" y="424.18" width="6.36" height="6.37" fill="#259be8"/><rect x="1086.00" y="424.18" width="6.36" height="6.37" fill="#18addb"/><rect x="1091.76" y="424.18" width="6.36" height="6.37" fill="#02bac3"/><rect x="1097.52" y="424.18" width="6.36" height="6.37" fill="#0bbdbd"/><rect x="1103.29" y="424.18" width="6.36" height="6.37" fill="#19bfb6"/><rect x="1109.05" y="424.18" width="6.36" height="6.37" fill="#19bfb6"/><rect x="1114.81" y="424.18" width="6.36" height="6.37" fill="#19bfb6"/><rect x="1120.57" y="424.18" width="6.36" height="6.37" fill="#19bfb6"/><rect x="1126.34" y="424.18" width="6.36" height="6.37" fill="#19bfb6"/><rect x="838.20" y="429.95" width="6.36" height="6.37" fill="#f0ba36"/><rect x="843.96" y="429.95" width="6.36" height="6.37" fill="#f0ba36"/><rect x="849.73" y="429.95" width="6.36" height="6.37" fill="#d1bf27"/><rect x="855.49" y="429.95" width="6.36" height="6.37" fill="#c5c22a"/><rect x="861.25" y="429.95" width="6.36" height="6.37" fill="#b9c431"/><rect x="867.01" y="429.95" width="6.36" height="6.37" fill="#b9c431"/><rect x="872.78" y="429.95" width="6.36" height="6.37" fill="#abc739"/><rect x="878.54" y="429.95" width="6.36" height="6.37" fill="#9dc943"/><rect x="884.30" y="429.95" width="6.36" height="6.37" fill="#8fcb4e"/><rect x="890.06" y="429.95" width="6.36" height="6.37" fill="#72cd64"/><rect x="895.83" y="429.95" width="6.36" height="6.37" fill="#4acb84"/><rect x="901.59" y="429.95" width="6.36" height="6.37" fill="#37c897"/><rect x="907.35" y="429.95" width="6.36" height="6.37" fill="#2cc4a7"/><rect x="913.12" y="429.95" width="6.36" height="6.37" fill="#19bfb6"/><rect x="918.88" y="429.95" width="6.36" height="6.37" fill="#24c1ae"/><rect x="924.64" y="429.95" width="6.36" height="6.37" fill="#2cc4a7"/><rect x="930.40" y="429.95" width="6.36" height="6.37" fill="#37c897"/><rect x="936.17" y="429.95" width="6.36" height="6.37" fill="#37c897"/><rect x="941.93" y="429.95" width="6.36" height="6.37" fill="#3fca8e"/><rect x="947.69" y="429.95" width="6.36" height="6.37" fill="#3fca8e"/><rect x="953.45" y="429.95" width="6.36" height="6.37" fill="#3fca8e"/><rect x="959.22" y="429.95" width="6.36" height="6.37" fill="#3fca8e"/><rect x="964.98" y="429.95" width="6.36" height="6.37" fill="#37c897"/><rect x="970.74" y="429.95" width="6.36" height="6.37" fill="#24c1ae"/><rect x="976.51" y="429.95" width="6.36" height="6.37" fill="#02bac3"/><rect x="982.27" y="429.95" width="6.36" height="6.37" fill="#01b8ca"/><rect x="988.03" y="429.95" width="6.36" height="6.37" fill="#0bbdbd"/><rect x="993.79" y="429.95" width="6.36" height="6.37" fill="#2cc4a7"/><rect x="999.56" y="429.95" width="6.36" height="6.37" fill="#3fca8e"/><rect x="1005.32" y="429.95" width="6.36" height="6.37" fill="#57cc7a"/><rect x="1011.08" y="429.95" width="6.36" height="6.37" fill="#64cd6f"/><rect x="1016.85" y="429.95" width="6.36" height="6.37" fill="#72cd64"/><rect x="1022.61" y="429.95" width="6.36" height="6.37" fill="#72cd64"/><rect x="1028.37" y="429.95" width="6.36" height="6.37" fill="#64cd6f"/><rect x="1034.13" y="429.95" width="6.36" height="6.37" fill="#4acb84"/><rect x="1039.90" y="429.95" width="6.36" height="6.37" fill="#31c69f"/><rect x="1045.66" y="429.95" width="6.36" height="6.37" fill="#0bbdbd"/><rect x="1051.42" y="429.95" width="6.36" height="6.37" fill="#18addb"/><rect x="1057.18" y="429.95" width="6.36" height="6.37" fill="#2797eb"/><rect x="1062.95" y="429.95" width="6.36" height="6.37" fill="#2f81fa"/><rect x="1068.71" y="429.95" width="6.36" height="6.37" fill="#327cfc"/><rect x="1074.47" y="429.95" width="6.36" height="6.37" fill="#2d8cf3"/><rect x="1080.24" y="429.95" width="6.36" height="6.37" fill="#23a0e5"/><rect x="1086.00" y="429.95" width="6.36" height="6.37" fill="#12b1d6"/><rect x="1091.76" y="429.95" width="6.36" height="6.37" fill="#02bac3"/><rect x="1097.52" y="429.95" width="6.36" height="6.37" fill="#19bfb6"/><rect x="1103.29" y="429.95" width="6.36" height="6.37" fill="#19bfb6"/><rect x="1109.05" y="429.95" width="6.36" height="6.37" fill="#24c1ae"/><rect x="1114.81" y="429.95" width="6.36" height="6.37" fill="#24c1ae"/><rect x="1120.57" y="429.95" width="6.36" height="6.37" fill="#2cc4a7"/><rect x="1126.34" y="429.95" width="6.36" height="6.37" fill="#2cc4a7"/><rect x="838.20" y="435.73" width="6.36" height="6.37" fill="#f0ba36"/><rect x="843.96" y="435.73" width="6.36" height="6.37" fill="#f0ba36"/><rect x="849.73" y="435.73" width="6.36" height="6.37" fill="#d1bf27"/><rect x="855.49" y="435.73" width="6.36" height="6.37" fill="#c5c22a"/><rect x="861.25" y="435.73" width="6.36" height="6.37" fill="#b9c431"/><rect x="867.01" y="435.73" width="6.36" height="6.37" fill="#b9c431"/><rect x="872.78" y="435.73" width="6.36" height="6.37" fill="#abc739"/><rect x="878.54" y="435.73" width="6.36" height="6.37" fill="#9dc943"/><rect x="884.30" y="435.73" width="6.36" height="6.37" fill="#8fcb4e"/><rect x="890.06" y="435.73" width="6.36" height="6.37" fill="#72cd64"/><rect x="895.83" y="435.73" width="6.36" height="6.37" fill="#4acb84"/><rect x="901.59" y="435.73" width="6.36" height="6.37" fill="#37c897"/><rect x="907.35" y="435.73" width="6.36" height="6.37" fill="#2cc4a7"/><rect x="913.12" y="435.73" width="6.36" height="6.37" fill="#19bfb6"/><rect x="918.88" y="435.73" width="6.36" height="6.37" fill="#24c1ae"/><rect x="924.64" y="435.73" width="6.36" height="6.37" fill="#2cc4a7"/><rect x="930.40" y="435.73" width="6.36" height="6.37" fill="#37c897"/><rect x="936.17" y="435.73" width="6.36" height="6.37" fill="#37c897"/><rect x="941.93" y="435.73" width="6.36" height="6.37" fill="#3fca8e"/><rect x="947.69" y="435.73" width="6.36" height="6.37" fill="#3fca8e"/><rect x="953.45" y="435.73" width="6.36" height="6.37" fill="#3fca8e"/><rect x="959.22" y="435.73" width="6.36" height="6.37" fill="#3fca8e"/><rect x="964.98" y="435.73" width="6.36" height="6.37" fill="#37c897"/><rect x="970.74" y="435.73" width="6.36" height="6.37" fill="#24c1ae"/><rect x="976.51" y="435.73" width="6.36" height="6.37" fill="#02bac3"/><rect x="982.27" y="435.73" width="6.36" height="6.37" fill="#01b8ca"/><rect x="988.03" y="435.73" width="6.36" height="6.37" fill="#0bbdbd"/><rect x="993.79" y="435.73" width="6.36" height="6.37" fill="#2cc4a7"/><rect x="999.56" y="435.73" width="6.36" height="6.37" fill="#3fca8e"/><rect x="1005.32" y="435.73" width="6.36" height="6.37" fill="#57cc7a"/><rect x="1011.08" y="435.73" width="6.36" height="6.37" fill="#64cd6f"/><rect x="1016.85" y="435.73" width="6.36" height="6.37" fill="#72cd64"/><rect x="1022.61" y="435.73" width="6.36" height="6.37" fill="#72cd64"/><rect x="1028.37" y="435.73" width="6.36" height="6.37" fill="#64cd6f"/><rect x="1034.13" y="435.73" width="6.36" height="6.37" fill="#4acb84"/><rect x="1039.90" y="435.73" width="6.36" height="6.37" fill="#31c69f"/><rect x="1045.66" y="435.73" width="6.36" height="6.37" fill="#0bbdbd"/><rect x="1051.42" y="435.73" width="6.36" height="6.37" fill="#18addb"/><rect x="1057.18" y="435.73" width="6.36" height="6.37" fill="#259be8"/><rect x="1062.95" y="435.73" width="6.36" height="6.37" fill="#2d8cf3"/><rect x="1068.71" y="435.73" width="6.36" height="6.37" fill="#2e87f7"/><rect x="1074.47" y="435.73" width="6.36" height="6.37" fill="#2b91ef"/><rect x="1080.24" y="435.73" width="6.36" height="6.37" fill="#20a5e3"/><rect x="1086.00" y="435.73" width="6.36" height="6.37" fill="#08b5d0"/><rect x="1091.76" y="435.73" width="6.36" height="6.37" fill="#0bbdbd"/><rect x="1097.52" y="435.73" width="6.36" height="6.37" fill="#19bfb6"/><rect x="1103.29" y="435.73" width="6.36" height="6.37" fill="#19bfb6"/><rect x="1109.05" y="435.73" width="6.36" height="6.37" fill="#24c1ae"/><rect x="1114.81" y="435.73" width="6.36" height="6.37" fill="#24c1ae"/><rect x="1120.57" y="435.73" width="6.36" height="6.37" fill="#2cc4a7"/><rect x="1126.34" y="435.73" width="6.36" height="6.37" fill="#2cc4a7"/></g>
<line x1="1052.30" y1="371.10" x2="1052.30" y2="395.90" stroke="#fff" stroke-width="5.4"/><line x1="1041.56" y1="377.30" x2="1063.04" y2="389.70" stroke="#fff" stroke-width="5.4"/><line x1="1063.04" y1="377.30" x2="1041.56" y2="389.70" stroke="#fff" stroke-width="5.4"/>
<rect x="838.2" y="147.0" width="293.89999999999986" height="294.5" fill="none" stroke="#262626" stroke-width="1.6"/>
<line x1="839.7" y1="441.5" x2="839.7" y2="438.5" stroke="#262626" stroke-width="1.3"/>
<line x1="839.7" y1="147.0" x2="839.7" y2="150.0" stroke="#262626" stroke-width="1.3"/>
<text x="838.9" y="472.7" font-family="Liberation Sans" font-size="26.5" fill="#262626" text-anchor="middle">0</text>
<line x1="955.6" y1="441.5" x2="955.6" y2="438.5" stroke="#262626" stroke-width="1.3"/>
<line x1="955.6" y1="147.0" x2="955.6" y2="150.0" stroke="#262626" stroke-width="1.3"/>
<text x="954.8" y="472.7" font-family="Liberation Sans" font-size="26.5" fill="#262626" text-anchor="middle">200</text>
<line x1="1071.4" y1="441.5" x2="1071.4" y2="438.5" stroke="#262626" stroke-width="1.3"/>
<line x1="1071.4" y1="147.0" x2="1071.4" y2="150.0" stroke="#262626" stroke-width="1.3"/>
<text x="1070.6" y="472.7" font-family="Liberation Sans" font-size="26.5" fill="#262626" text-anchor="middle">400</text>
<line x1="838.2" y1="148.6" x2="841.2" y2="148.6" stroke="#262626" stroke-width="1.3"/>
<line x1="1132.1" y1="148.6" x2="1129.1" y2="148.6" stroke="#262626" stroke-width="1.3"/>
<line x1="838.2" y1="206.7" x2="841.2" y2="206.7" stroke="#262626" stroke-width="1.3"/>
<line x1="1132.1" y1="206.7" x2="1129.1" y2="206.7" stroke="#262626" stroke-width="1.3"/>
<text x="830.8" y="216.9" font-family="Liberation Sans" font-size="26.5" fill="#262626" text-anchor="end">100</text>
<line x1="838.2" y1="264.8" x2="841.2" y2="264.8" stroke="#262626" stroke-width="1.3"/>
<line x1="1132.1" y1="264.8" x2="1129.1" y2="264.8" stroke="#262626" stroke-width="1.3"/>
<text x="830.8" y="275.0" font-family="Liberation Sans" font-size="26.5" fill="#262626" text-anchor="end">200</text>
<line x1="838.2" y1="322.9" x2="841.2" y2="322.9" stroke="#262626" stroke-width="1.3"/>
<line x1="1132.1" y1="322.9" x2="1129.1" y2="322.9" stroke="#262626" stroke-width="1.3"/>
<text x="830.8" y="333.1" font-family="Liberation Sans" font-size="26.5" fill="#262626" text-anchor="end">300</text>
<line x1="838.2" y1="381.0" x2="841.2" y2="381.0" stroke="#262626" stroke-width="1.3"/>
<line x1="1132.1" y1="381.0" x2="1129.1" y2="381.0" stroke="#262626" stroke-width="1.3"/>
<text x="830.8" y="391.2" font-family="Liberation Sans" font-size="26.5" fill="#262626" text-anchor="end">400</text>
<line x1="838.2" y1="439.1" x2="841.2" y2="439.1" stroke="#262626" stroke-width="1.3"/>
<line x1="1132.1" y1="439.1" x2="1129.1" y2="439.1" stroke="#262626" stroke-width="1.3"/>
<text x="830.8" y="449.3" font-family="Liberation Sans" font-size="26.5" fill="#262626" text-anchor="end">500</text>
<g shape-rendering="crispEdges"><rect x="1148.2" y="437.39" width="28.8" height="5.11" fill="#3e26a8"/><rect x="1148.2" y="432.78" width="28.8" height="5.11" fill="#402ab4"/><rect x="1148.2" y="428.17" width="28.8" height="5.11" fill="#422ec0"/><rect x="1148.2" y="423.56" width="28.8" height="5.11" fill="#4332cb"/><rect x="1148.2" y="418.95" width="28.8" height="5.11" fill="#4537d5"/><rect x="1148.2" y="414.34" width="28.8" height="5.11" fill="#463cde"/><rect x="1148.2" y="409.73" width="28.8" height="5.11" fill="#4741e5"/><rect x="1148.2" y="405.12" width="28.8" height="5.11" fill="#4747eb"/><rect x="1148.2" y="400.52" width="28.8" height="5.11" fill="#484df0"/><rect x="1148.2" y="395.91" width="28.8" height="5.11" fill="#4852f4"/><rect x="1148.2" y="391.30" width="28.8" height="5.11" fill="#4758f8"/><rect x="1148.2" y="386.69" width="28.8" height="5.11" fill="#465efb"/><rect x="1148.2" y="382.08" width="28.8" height="5.11" fill="#4563fd"/><rect x="1148.2" y="377.47" width="28.8" height="5.11" fill="#4269fe"/><rect x="1148.2" y="372.86" width="28.8" height="5.11" fill="#3e6fff"/><rect x="1148.2" y="368.25" width="28.8" height="5.11" fill="#3875fe"/><rect x="1148.2" y="363.64" width="28.8" height="5.11" fill="#327cfc"/><rect x="1148.2" y="359.03" width="28.8" height="5.11" fill="#2f81fa"/><rect x="1148.2" y="354.42" width="28.8" height="5.11" fill="#2e87f7"/><rect x="1148.2" y="349.81" width="28.8" height="5.11" fill="#2d8cf3"/><rect x="1148.2" y="345.20" width="28.8" height="5.11" fill="#2b91ef"/><rect x="1148.2" y="340.59" width="28.8" height="5.11" fill="#2797eb"/><rect x="1148.2" y="335.98" width="28.8" height="5.11" fill="#259be8"/><rect x="1148.2" y="331.38" width="28.8" height="5.11" fill="#23a0e5"/><rect x="1148.2" y="326.77" width="28.8" height="5.11" fill="#20a5e3"/><rect x="1148.2" y="322.16" width="28.8" height="5.11" fill="#1ca9df"/><rect x="1148.2" y="317.55" width="28.8" height="5.11" fill="#18addb"/><rect x="1148.2" y="312.94" width="28.8" height="5.11" fill="#12b1d6"/><rect x="1148.2" y="308.33" width="28.8" height="5.11" fill="#08b5d0"/><rect x="1148.2" y="303.72" width="28.8" height="5.11" fill="#01b8ca"/><rect x="1148.2" y="299.11" width="28.8" height="5.11" fill="#02bac3"/><rect x="1148.2" y="294.50" width="28.8" height="5.11" fill="#0bbdbd"/><rect x="1148.2" y="289.89" width="28.8" height="5.11" fill="#19bfb6"/><rect x="1148.2" y="285.28" width="28.8" height="5.11" fill="#24c1ae"/><rect x="1148.2" y="280.67" width="28.8" height="5.11" fill="#2cc4a7"/><rect x="1148.2" y="276.06" width="28.8" height="5.11" fill="#31c69f"/><rect x="1148.2" y="271.45" width="28.8" height="5.11" fill="#37c897"/><rect x="1148.2" y="266.84" width="28.8" height="5.11" fill="#3fca8e"/><rect x="1148.2" y="262.23" width="28.8" height="5.11" fill="#4acb84"/><rect x="1148.2" y="257.62" width="28.8" height="5.11" fill="#57cc7a"/><rect x="1148.2" y="253.02" width="28.8" height="5.11" fill="#64cd6f"/><rect x="1148.2" y="248.41" width="28.8" height="5.11" fill="#72cd64"/><rect x="1148.2" y="243.80" width="28.8" height="5.11" fill="#81cc59"/><rect x="1148.2" y="239.19" width="28.8" height="5.11" fill="#8fcb4e"/><rect x="1148.2" y="234.58" width="28.8" height="5.11" fill="#9dc943"/><rect x="1148.2" y="229.97" width="28.8" height="5.11" fill="#abc739"/><rect x="1148.2" y="225.36" width="28.8" height="5.11" fill="#b9c431"/><rect x="1148.2" y="220.75" width="28.8" height="5.11" fill="#c5c22a"/><rect x="1148.2" y="216.14" width="28.8" height="5.11" fill="#d1bf27"/><rect x="1148.2" y="211.53" width="28.8" height="5.11" fill="#dcbd29"/><rect x="1148.2" y="206.92" width="28.8" height="5.11" fill="#e6bb2d"/><rect x="1148.2" y="202.31" width="28.8" height="5.11" fill="#f0ba36"/><rect x="1148.2" y="197.70" width="28.8" height="5.11" fill="#f8ba3d"/><rect x="1148.2" y="193.09" width="28.8" height="5.11" fill="#febe3c"/><rect x="1148.2" y="188.48" width="28.8" height="5.11" fill="#fec338"/><rect x="1148.2" y="183.88" width="28.8" height="5.11" fill="#fec934"/><rect x="1148.2" y="179.27" width="28.8" height="5.11" fill="#fccf30"/><rect x="1148.2" y="174.66" width="28.8" height="5.11" fill="#fad62d"/><rect x="1148.2" y="170.05" width="28.8" height="5.11" fill="#f7dc2a"/><rect x="1148.2" y="165.44" width="28.8" height="5.11" fill="#f5e327"/><rect x="1148.2" y="160.83" width="28.8" height="5.11" fill="#f5e924"/><rect x="1148.2" y="156.22" width="28.8" height="5.11" fill="#f6ef20"/><rect x="1148.2" y="151.61" width="28.8" height="5.11" fill="#f7f51b"/><rect x="1148.2" y="147.00" width="28.8" height="5.11" fill="#f9fb15"/></g>
<rect x="1148.2" y="147.0" width="28.8" height="295.0" fill="none" stroke="#262626" stroke-width="1.6"/>
<line x1="1177.0" y1="185.6" x2="1173.5" y2="185.6" stroke="#262626" stroke-width="1.4"/>
<text x="1188.3" y="195.8" font-family="Liberation Sans" font-size="26.5" fill="#262626" >1</text>
<line x1="1177.0" y1="243.3" x2="1173.5" y2="243.3" stroke="#262626" stroke-width="1.4"/>
<text x="1188.3" y="253.5" font-family="Liberation Sans" font-size="26.5" fill="#262626" >0</text>
<line x1="1177.0" y1="301.0" x2="1173.5" y2="301.0" stroke="#262626" stroke-width="1.4"/>
<text x="1188.3" y="311.2" font-family="Liberation Sans" font-size="26.5" fill="#262626" >-1</text>
<line x1="1177.0" y1="358.7" x2="1173.5" y2="358.7" stroke="#262626" stroke-width="1.4"/>
<text x="1188.3" y="368.9" font-family="Liberation Sans" font-size="26.5" fill="#262626" >-2</text>
<line x1="1177.0" y1="416.4" x2="1173.5" y2="416.4" stroke="#262626" stroke-width="1.4"/>
<text x="1188.3" y="426.6" font-family="Liberation Sans" font-size="26.5" fill="#262626" >-3</text>
<line x1="1364.0" y1="490.7" x2="1694.5" y2="490.7" stroke="#000" stroke-width="1.6"/><rect x="1363.97" y="489.79" width="7.87" height="0.91" fill="#66aad7" stroke="#000" stroke-width="1.5"/><rect x="1403.32" y="490.09" width="7.87" height="0.61" fill="#66aad7" stroke="#000" stroke-width="1.5"/><rect x="1411.19" y="490.09" width="7.87" height="0.61" fill="#66aad7" stroke="#000" stroke-width="1.5"/><rect x="1426.93" y="488.38" width="7.87" height="2.32" fill="#66aad7" stroke="#000" stroke-width="1.5"/><rect x="1434.80" y="488.38" width="7.87" height="2.32" fill="#66aad7" stroke="#000" stroke-width="1.5"/><rect x="1442.67" y="487.47" width="7.87" height="3.23" fill="#66aad7" stroke="#000" stroke-width="1.5"/><rect x="1450.54" y="487.96" width="7.87" height="2.74" fill="#66aad7" stroke="#000" stroke-width="1.5"/><rect x="1458.41" y="487.47" width="7.87" height="3.23" fill="#66aad7" stroke="#000" stroke-width="1.5"/><rect x="1466.28" y="487.47" width="7.87" height="3.23" fill="#66aad7" stroke="#000" stroke-width="1.5"/><rect x="1474.15" y="486.92" width="7.87" height="3.78" fill="#66aad7" stroke="#000" stroke-width="1.5"/><rect x="1482.02" y="482.47" width="7.87" height="8.23" fill="#66aad7" stroke="#000" stroke-width="1.5"/><rect x="1489.89" y="478.21" width="7.87" height="12.49" fill="#66aad7" stroke="#000" stroke-width="1.5"/><rect x="1497.76" y="474.85" width="7.87" height="15.85" fill="#66aad7" stroke="#000" stroke-width="1.5"/><rect x="1505.63" y="465.10" width="7.87" height="25.60" fill="#66aad7" stroke="#000" stroke-width="1.5"/><rect x="1513.50" y="458.40" width="7.87" height="32.30" fill="#66aad7" stroke="#000" stroke-width="1.5"/><rect x="1521.37" y="436.45" width="7.87" height="54.25" fill="#66aad7" stroke="#000" stroke-width="1.5"/><rect x="1529.24" y="434.02" width="7.87" height="56.68" fill="#66aad7" stroke="#000" stroke-width="1.5"/><rect x="1537.11" y="426.70" width="7.87" height="64.00" fill="#66aad7" stroke="#000" stroke-width="1.5"/><rect x="1544.98" y="396.84" width="7.87" height="93.86" fill="#66aad7" stroke="#000" stroke-width="1.5"/><rect x="1552.85" y="365.75" width="7.87" height="124.95" fill="#66aad7" stroke="#000" stroke-width="1.5"/><rect x="1560.72" y="338.93" width="7.87" height="151.77" fill="#66aad7" stroke="#000" stroke-width="1.5"/><rect x="1568.59" y="313.94" width="7.87" height="176.75" fill="#66aad7" stroke="#000" stroke-width="1.5"/><rect x="1576.46" y="262.75" width="7.87" height="227.95" fill="#66aad7" stroke="#000" stroke-width="1.5"/><rect x="1584.33" y="238.37" width="7.87" height="252.33" fill="#66aad7" stroke="#000" stroke-width="1.5"/><rect x="1592.20" y="196.31" width="7.87" height="294.39" fill="#66aad7" stroke="#000" stroke-width="1.5"/><rect x="1600.07" y="168.88" width="7.87" height="321.82" fill="#66aad7" stroke="#000" stroke-width="1.5"/><rect x="1607.94" y="195.70" width="7.87" height="295.00" fill="#66aad7" stroke="#000" stroke-width="1.5"/><rect x="1615.81" y="220.69" width="7.87" height="270.01" fill="#66aad7" stroke="#000" stroke-width="1.5"/><rect x="1623.68" y="255.43" width="7.87" height="235.27" fill="#66aad7" stroke="#000" stroke-width="1.5"/><rect x="1631.55" y="351.12" width="7.87" height="139.58" fill="#66aad7" stroke="#000" stroke-width="1.5"/><rect x="1639.42" y="388.30" width="7.87" height="102.40" fill="#66aad7" stroke="#000" stroke-width="1.5"/><rect x="1647.29" y="449.25" width="7.87" height="41.45" fill="#66aad7" stroke="#000" stroke-width="1.5"/><rect x="1655.16" y="466.32" width="7.87" height="24.38" fill="#66aad7" stroke="#000" stroke-width="1.5"/><rect x="1663.03" y="485.82" width="7.87" height="4.88" fill="#66aad7" stroke="#000" stroke-width="1.5"/><rect x="1670.90" y="489.18" width="7.87" height="1.52" fill="#66aad7" stroke="#000" stroke-width="1.5"/><rect x="1678.77" y="490.09" width="7.87" height="0.61" fill="#66aad7" stroke="#000" stroke-width="1.5"/><rect x="1686.64" y="490.40" width="7.87" height="0.30" fill="#66aad7" stroke="#000" stroke-width="1.5"/>
<line x1="1445.6" y1="125.0" x2="1445.6" y2="490.7" stroke="#666666" stroke-width="6.5" stroke-dasharray="25.5 25.85" stroke-dashoffset="19.45" opacity="0.98"/>
<line x1="1348.0" y1="125.0" x2="1348.0" y2="490.7" stroke="#262626" stroke-width="1.4"/>
<line x1="1347.3" y1="490.7" x2="1703.6" y2="490.7" stroke="#262626" stroke-width="1.4"/>
<line x1="1348.0" y1="490.7" x2="1351.5" y2="490.7" stroke="#262626" stroke-width="1.3"/>
<text x="1341.0" y="500.9" font-family="Liberation Sans" font-size="26.5" fill="#262626" text-anchor="end">0</text>
<line x1="1348.0" y1="429.8" x2="1351.5" y2="429.8" stroke="#262626" stroke-width="1.3"/>
<text x="1341.0" y="439.9" font-family="Liberation Sans" font-size="26.5" fill="#262626" text-anchor="end">100</text>
<line x1="1348.0" y1="368.8" x2="1351.5" y2="368.8" stroke="#262626" stroke-width="1.3"/>
<text x="1341.0" y="379.0" font-family="Liberation Sans" font-size="26.5" fill="#262626" text-anchor="end">200</text>
<line x1="1348.0" y1="307.9" x2="1351.5" y2="307.9" stroke="#262626" stroke-width="1.3"/>
<text x="1341.0" y="318.1" font-family="Liberation Sans" font-size="26.5" fill="#262626" text-anchor="end">300</text>
<line x1="1348.0" y1="246.9" x2="1351.5" y2="246.9" stroke="#262626" stroke-width="1.3"/>
<text x="1341.0" y="257.1" font-family="Liberation Sans" font-size="26.5" fill="#262626" text-anchor="end">400</text>
<line x1="1348.0" y1="185.9" x2="1351.5" y2="185.9" stroke="#262626" stroke-width="1.3"/>
<text x="1341.0" y="196.1" font-family="Liberation Sans" font-size="26.5" fill="#262626" text-anchor="end">500</text>
<line x1="1348.0" y1="125.0" x2="1351.5" y2="125.0" stroke="#262626" stroke-width="1.3"/>
<text x="1341.0" y="135.2" font-family="Liberation Sans" font-size="26.5" fill="#262626" text-anchor="end">600</text>
<line x1="1356.1" y1="490.7" x2="1356.1" y2="487.2" stroke="#262626" stroke-width="1.3"/>
<text x="1354.6" y="521.8" font-family="Liberation Sans" font-size="26.5" fill="#262626" text-anchor="middle">-5</text>
<line x1="1434.8" y1="490.7" x2="1434.8" y2="487.2" stroke="#262626" stroke-width="1.3"/>
<text x="1433.3" y="521.8" font-family="Liberation Sans" font-size="26.5" fill="#262626" text-anchor="middle">-4</text>
<line x1="1513.5" y1="490.7" x2="1513.5" y2="487.2" stroke="#262626" stroke-width="1.3"/>
<text x="1512.0" y="521.8" font-family="Liberation Sans" font-size="26.5" fill="#262626" text-anchor="middle">-3</text>
<line x1="1592.2" y1="490.7" x2="1592.2" y2="487.2" stroke="#262626" stroke-width="1.3"/>
<text x="1590.7" y="521.8" font-family="Liberation Sans" font-size="26.5" fill="#262626" text-anchor="middle">-2</text>
<line x1="1670.9" y1="490.7" x2="1670.9" y2="487.2" stroke="#262626" stroke-width="1.3"/>
<text x="1669.4" y="521.8" font-family="Liberation Sans" font-size="26.5" fill="#262626" text-anchor="middle">-1</text></svg>
</body></html>
